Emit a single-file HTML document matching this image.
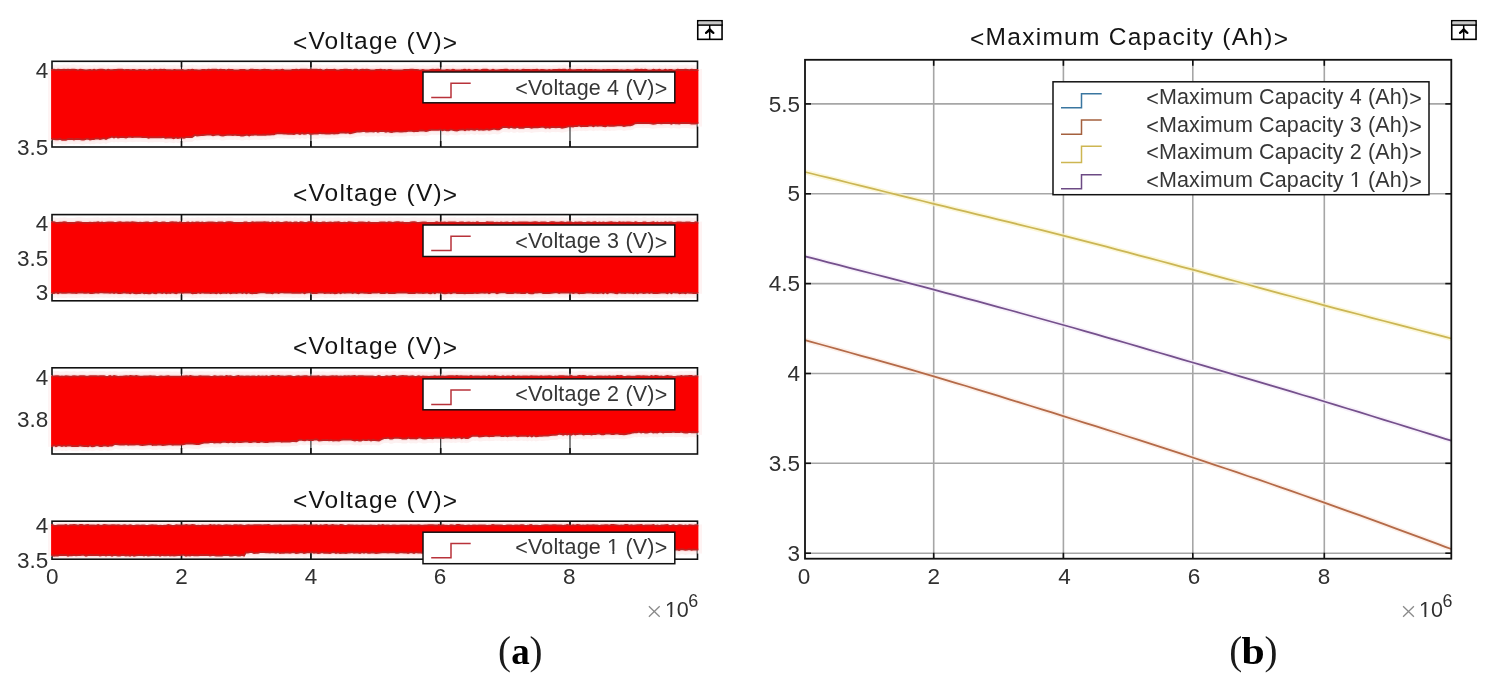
<!DOCTYPE html>
<html><head><meta charset="utf-8"><style>html,body{margin:0;padding:0;background:#fff;width:1491px;height:685px;overflow:hidden}svg{display:block;filter:blur(0.45px)}</style></head>
<body>
<svg width="1491" height="685" viewBox="0 0 1491 685">
<rect width="1491" height="685" fill="#fff"/>
<path d="M52.0,64.8 L54.0,64.7 L56.0,65.1 L58.0,64.6 L60.0,65.0 L62.0,64.9 L64.0,64.6 L66.0,65.0 L68.0,64.6 L70.0,64.9 L72.0,64.6 L74.1,64.6 L76.1,64.9 L78.1,65.3 L80.1,64.7 L82.1,64.8 L84.1,65.1 L86.1,65.4 L88.1,65.1 L90.1,64.9 L92.1,65.4 L94.1,64.6 L96.1,65.3 L98.1,64.8 L100.1,64.7 L102.1,64.7 L104.1,64.8 L106.1,65.3 L108.1,64.7 L110.1,65.1 L112.1,65.1 L114.1,64.9 L116.1,65.0 L118.2,64.6 L120.2,64.6 L122.2,64.7 L124.2,65.2 L126.2,64.9 L128.2,64.8 L130.2,65.1 L132.2,65.0 L134.2,64.8 L136.2,65.3 L138.2,65.2 L140.2,64.8 L142.2,65.1 L144.2,65.0 L146.2,65.3 L148.2,65.2 L150.2,64.8 L152.2,65.4 L154.2,64.7 L156.2,64.9 L158.2,65.2 L160.3,64.7 L162.3,65.0 L164.3,64.6 L166.3,65.2 L168.3,65.2 L170.3,65.1 L172.3,65.3 L174.3,64.8 L176.3,65.2 L178.3,65.1 L180.3,65.1 L182.3,65.0 L184.3,65.3 L186.3,65.4 L188.3,65.0 L190.3,65.1 L192.3,64.6 L194.3,65.2 L196.3,65.1 L198.3,65.4 L200.3,65.3 L202.3,64.8 L204.4,64.9 L206.4,65.2 L208.4,64.6 L210.4,65.0 L212.4,64.7 L214.4,64.7 L216.4,64.6 L218.4,65.2 L220.4,64.7 L222.4,64.8 L224.4,64.9 L226.4,65.3 L228.4,64.6 L230.4,65.0 L232.4,65.0 L234.4,65.3 L236.4,65.3 L238.4,65.3 L240.4,64.8 L242.4,64.9 L244.4,64.9 L246.5,65.3 L248.5,65.4 L250.5,64.7 L252.5,64.7 L254.5,64.8 L256.5,64.8 L258.5,65.0 L260.5,65.1 L262.5,64.8 L264.5,64.6 L266.5,64.9 L268.5,64.9 L270.5,65.1 L272.5,65.4 L274.5,65.2 L276.5,65.0 L278.5,65.1 L280.5,65.2 L282.5,64.6 L284.5,65.4 L286.5,65.3 L288.5,65.3 L290.6,65.3 L292.6,64.9 L294.6,64.9 L296.6,64.6 L298.6,65.1 L300.6,64.6 L302.6,64.6 L304.6,64.7 L306.6,64.7 L308.6,64.9 L310.6,64.6 L312.6,64.6 L314.6,64.7 L316.6,64.6 L318.6,64.9 L320.6,64.6 L322.6,65.3 L324.6,65.1 L326.6,64.7 L328.6,64.8 L330.6,64.9 L332.7,64.9 L334.7,64.7 L336.7,65.3 L338.7,65.4 L340.7,65.0 L342.7,65.0 L344.7,64.6 L346.7,64.6 L348.7,64.9 L350.7,64.8 L352.7,65.3 L354.7,64.7 L356.7,64.6 L358.7,65.4 L360.7,65.0 L362.7,64.7 L364.7,65.0 L366.7,64.6 L368.7,65.0 L370.7,65.4 L372.7,65.3 L374.8,65.2 L376.8,64.8 L378.8,64.9 L380.8,64.7 L382.8,65.2 L384.8,65.0 L386.8,65.3 L388.8,64.8 L390.8,64.8 L392.8,65.3 L394.8,65.4 L396.8,65.3 L398.8,65.3 L400.8,65.3 L402.8,65.2 L404.8,64.8 L406.8,65.0 L408.8,64.9 L410.8,64.6 L412.8,64.6 L414.8,64.8 L416.8,64.8 L418.9,65.2 L420.9,65.4 L422.9,65.0 L424.9,65.4 L426.9,65.4 L428.9,65.4 L430.9,64.9 L432.9,64.7 L434.9,64.8 L436.9,64.7 L438.9,64.7 L440.9,65.1 L442.9,65.4 L444.9,65.3 L446.9,65.0 L448.9,65.1 L450.9,65.3 L452.9,64.6 L454.9,65.1 L456.9,65.4 L458.9,65.3 L461.0,65.2 L463.0,65.0 L465.0,64.7 L467.0,65.3 L469.0,64.8 L471.0,65.3 L473.0,65.4 L475.0,64.9 L477.0,64.9 L479.0,65.4 L481.0,65.2 L483.0,64.7 L485.0,64.7 L487.0,64.7 L489.0,65.4 L491.0,65.3 L493.0,64.7 L495.0,65.3 L497.0,65.4 L499.0,65.1 L501.0,64.9 L503.0,65.0 L505.1,64.7 L507.1,64.6 L509.1,65.4 L511.1,65.1 L513.1,65.0 L515.1,65.4 L517.1,64.9 L519.1,65.3 L521.1,65.3 L523.1,64.7 L525.1,64.8 L527.1,64.8 L529.1,64.8 L531.1,65.1 L533.1,64.8 L535.1,64.9 L537.1,64.7 L539.1,65.4 L541.1,64.9 L543.1,65.0 L545.1,65.1 L547.2,65.4 L549.2,64.9 L551.2,65.4 L553.2,65.0 L555.2,65.0 L557.2,65.0 L559.2,64.6 L561.2,64.9 L563.2,64.7 L565.2,64.6 L567.2,65.3 L569.2,64.7 L571.2,65.0 L573.2,65.2 L575.2,65.1 L577.2,64.8 L579.2,65.0 L581.2,65.0 L583.2,65.3 L585.2,64.6 L587.2,65.1 L589.2,64.8 L591.3,64.8 L593.3,65.2 L595.3,65.0 L597.3,65.1 L599.3,65.2 L601.3,65.4 L603.3,64.9 L605.3,65.1 L607.3,65.0 L609.3,65.0 L611.3,65.2 L613.3,65.0 L615.3,65.0 L617.3,65.0 L619.3,65.4 L621.3,65.2 L623.3,65.3 L625.3,65.4 L627.3,64.8 L629.3,65.1 L631.3,65.4 L633.4,65.3 L635.4,64.7 L637.4,64.7 L639.4,64.9 L641.4,64.6 L643.4,64.8 L645.4,64.6 L647.4,65.2 L649.4,65.3 L651.4,65.4 L653.4,64.7 L655.4,65.2 L657.4,65.1 L659.4,64.7 L661.4,65.3 L663.4,65.4 L665.4,64.7 L667.4,65.4 L669.4,64.9 L671.4,65.0 L673.4,65.4 L675.4,65.3 L677.5,64.7 L679.5,64.9 L681.5,65.0 L683.5,64.9 L685.5,64.7 L687.5,64.8 L689.5,65.2 L691.5,64.6 L693.5,65.0 L695.5,64.9 L697.5,65.0 L697.5,128.2 L695.5,128.6 L693.5,128.6 L691.5,128.7 L689.4,128.2 L687.4,128.1 L685.4,128.0 L683.4,128.0 L681.4,127.9 L679.4,128.7 L677.3,128.4 L675.3,128.3 L673.3,127.9 L671.3,128.8 L669.3,128.0 L667.3,127.8 L665.2,128.1 L663.2,128.2 L661.2,128.3 L659.2,128.2 L657.2,128.2 L655.2,128.6 L653.1,128.8 L651.1,128.4 L649.1,128.1 L647.1,128.1 L645.1,127.9 L643.1,128.2 L641.0,127.9 L639.0,128.0 L637.0,128.0 L635.0,128.3 L632.7,129.7 L630.3,130.3 L628.0,130.3 L626.0,130.6 L623.9,131.1 L621.9,130.3 L619.9,130.3 L617.8,130.3 L615.8,130.6 L613.8,130.8 L611.7,130.5 L609.7,130.9 L607.7,130.5 L605.6,131.3 L603.6,131.0 L601.6,130.6 L599.5,130.6 L597.5,130.8 L595.4,130.4 L593.4,131.3 L591.4,130.4 L589.3,130.6 L587.3,131.0 L585.3,131.2 L583.2,130.8 L581.2,131.2 L579.2,130.4 L577.1,131.2 L575.1,131.0 L573.1,131.5 L571.0,131.4 L569.0,131.1 L566.7,131.8 L564.3,132.3 L562.0,132.8 L560.0,132.2 L557.9,132.0 L555.9,132.3 L553.9,132.1 L551.8,132.0 L549.8,132.8 L547.8,132.1 L545.7,132.7 L543.7,131.9 L541.7,131.8 L539.6,132.1 L537.6,132.3 L535.6,132.2 L533.5,132.4 L531.5,132.9 L529.4,132.2 L527.4,132.2 L525.4,132.1 L523.3,132.8 L521.3,132.6 L519.3,132.8 L517.2,132.0 L515.2,132.8 L513.2,132.7 L511.1,131.8 L509.1,132.8 L507.1,132.2 L505.0,132.2 L503.0,132.0 L501.0,133.2 L499.0,134.3 L497.0,134.4 L495.0,133.9 L493.0,133.9 L491.0,134.4 L489.0,134.8 L487.0,134.1 L485.0,134.6 L483.0,134.8 L481.0,134.4 L479.0,134.8 L477.0,134.0 L475.0,134.9 L473.0,134.5 L471.0,134.1 L469.0,134.7 L467.0,134.3 L465.0,135.2 L463.0,134.5 L461.0,134.6 L459.0,134.9 L457.0,135.5 L454.9,135.3 L452.8,134.9 L450.8,134.4 L448.7,135.4 L446.6,135.4 L444.5,134.6 L442.5,135.3 L440.4,134.5 L438.3,134.8 L436.2,134.8 L434.2,134.8 L432.1,134.6 L430.0,135.0 L428.0,135.6 L426.0,136.1 L424.0,135.7 L422.0,135.5 L420.0,135.5 L418.0,136.1 L416.0,135.9 L414.0,136.4 L412.0,135.9 L410.0,135.8 L408.0,135.8 L406.0,136.4 L404.0,136.4 L402.0,136.6 L400.0,136.6 L398.0,136.4 L396.0,136.3 L394.0,136.5 L392.0,137.0 L390.0,136.8 L388.0,136.2 L385.9,136.7 L383.9,136.2 L381.9,136.0 L379.9,136.2 L377.9,136.7 L375.9,135.9 L373.8,136.6 L371.8,136.4 L369.8,136.4 L367.8,136.6 L365.8,136.7 L363.8,135.8 L361.7,136.3 L359.7,136.5 L357.7,136.4 L354.9,137.2 L352.0,137.9 L350.0,138.2 L348.0,137.4 L346.0,137.8 L344.0,137.5 L342.0,137.5 L340.0,137.7 L338.0,138.3 L336.0,138.3 L334.0,138.5 L332.0,138.2 L330.0,138.5 L328.0,138.6 L326.0,138.6 L324.0,138.3 L322.0,138.4 L320.0,138.0 L318.0,138.7 L316.0,138.7 L314.0,138.6 L312.0,138.9 L310.0,138.9 L308.0,138.0 L306.0,138.7 L304.0,138.8 L302.0,138.1 L300.0,139.1 L298.0,138.3 L296.0,138.4 L294.0,139.0 L292.0,138.8 L290.0,138.7 L288.0,138.8 L286.0,138.6 L284.0,138.7 L282.0,138.3 L280.0,138.4 L278.0,138.1 L276.0,138.5 L274.0,139.3 L272.0,139.3 L269.9,139.6 L267.8,139.3 L265.8,139.9 L263.7,139.5 L261.6,139.9 L259.5,139.9 L257.5,139.8 L255.4,139.4 L253.3,139.8 L251.2,139.7 L249.2,140.5 L247.1,139.7 L245.0,140.1 L243.0,140.5 L241.0,140.5 L239.0,139.8 L237.0,140.0 L235.0,139.6 L233.0,140.0 L231.0,139.8 L229.0,139.7 L227.0,139.8 L225.0,140.2 L223.0,140.5 L221.0,140.4 L219.0,139.6 L217.0,139.7 L215.0,139.8 L213.0,140.3 L211.0,139.6 L209.0,139.7 L207.0,139.6 L205.0,139.9 L203.0,140.0 L201.0,140.2 L199.0,140.3 L197.0,140.5 L195.0,139.9 L192.0,142.1 L190.0,142.0 L188.0,142.0 L186.0,142.1 L184.0,142.8 L182.0,142.6 L180.0,142.7 L177.9,143.1 L175.8,142.3 L173.7,143.2 L171.6,142.7 L169.5,142.3 L167.5,142.7 L165.4,142.9 L163.3,142.0 L161.2,142.3 L159.1,142.0 L157.0,142.3 L154.9,142.1 L152.8,142.4 L150.8,142.2 L148.7,142.7 L146.6,142.1 L144.5,142.1 L142.5,142.0 L140.4,141.8 L138.3,141.9 L136.2,141.8 L134.2,141.9 L132.1,142.2 L130.0,141.7 L128.0,141.9 L126.0,142.6 L124.0,142.2 L122.0,142.0 L120.0,142.1 L118.0,142.6 L116.0,141.7 L114.0,142.6 L112.0,141.7 L110.0,142.5 L108.0,143.0 L106.0,144.1 L104.0,143.2 L102.0,143.6 L100.0,144.0 L98.0,143.4 L96.0,143.5 L94.0,144.2 L92.0,144.1 L90.0,144.6 L88.0,143.7 L86.0,143.9 L84.0,144.5 L82.0,144.7 L80.0,144.2 L78.0,143.9 L76.0,144.0 L74.0,144.6 L72.0,143.8 L70.0,144.0 L68.0,143.9 L66.0,144.8 L64.0,144.6 L62.0,144.8 L60.0,143.8 L58.0,144.3 L56.0,144.4 L54.0,144.1 L52.0,143.8Z" fill="#fdf1f1"/>
<path d="M52.0,67.6 L54.0,67.5 L56.0,67.9 L58.0,67.4 L60.0,67.8 L62.0,67.7 L64.0,67.4 L66.0,67.8 L68.0,67.4 L70.0,67.7 L72.0,67.4 L74.1,67.4 L76.1,67.7 L78.1,68.1 L80.1,67.5 L82.1,67.6 L84.1,67.9 L86.1,68.2 L88.1,67.9 L90.1,67.7 L92.1,68.2 L94.1,67.4 L96.1,68.1 L98.1,67.6 L100.1,67.5 L102.1,67.5 L104.1,67.6 L106.1,68.1 L108.1,67.5 L110.1,67.9 L112.1,67.9 L114.1,67.7 L116.1,67.8 L118.2,67.4 L120.2,67.4 L122.2,67.5 L124.2,68.0 L126.2,67.7 L128.2,67.6 L130.2,67.9 L132.2,67.8 L134.2,67.6 L136.2,68.1 L138.2,68.0 L140.2,67.6 L142.2,67.9 L144.2,67.8 L146.2,68.1 L148.2,68.0 L150.2,67.6 L152.2,68.2 L154.2,67.5 L156.2,67.7 L158.2,68.0 L160.3,67.5 L162.3,67.8 L164.3,67.4 L166.3,68.0 L168.3,68.0 L170.3,67.9 L172.3,68.1 L174.3,67.6 L176.3,68.0 L178.3,67.9 L180.3,67.9 L182.3,67.8 L184.3,68.1 L186.3,68.2 L188.3,67.8 L190.3,67.9 L192.3,67.4 L194.3,68.0 L196.3,67.9 L198.3,68.2 L200.3,68.1 L202.3,67.6 L204.4,67.7 L206.4,68.0 L208.4,67.4 L210.4,67.8 L212.4,67.5 L214.4,67.5 L216.4,67.4 L218.4,68.0 L220.4,67.5 L222.4,67.6 L224.4,67.7 L226.4,68.1 L228.4,67.4 L230.4,67.8 L232.4,67.8 L234.4,68.1 L236.4,68.1 L238.4,68.1 L240.4,67.6 L242.4,67.7 L244.4,67.7 L246.5,68.1 L248.5,68.2 L250.5,67.5 L252.5,67.5 L254.5,67.6 L256.5,67.6 L258.5,67.8 L260.5,67.9 L262.5,67.6 L264.5,67.4 L266.5,67.7 L268.5,67.7 L270.5,67.9 L272.5,68.2 L274.5,68.0 L276.5,67.8 L278.5,67.9 L280.5,68.0 L282.5,67.4 L284.5,68.2 L286.5,68.1 L288.5,68.1 L290.6,68.1 L292.6,67.7 L294.6,67.7 L296.6,67.4 L298.6,67.9 L300.6,67.4 L302.6,67.4 L304.6,67.5 L306.6,67.5 L308.6,67.7 L310.6,67.4 L312.6,67.4 L314.6,67.5 L316.6,67.4 L318.6,67.7 L320.6,67.4 L322.6,68.1 L324.6,67.9 L326.6,67.5 L328.6,67.6 L330.6,67.7 L332.7,67.7 L334.7,67.5 L336.7,68.1 L338.7,68.2 L340.7,67.8 L342.7,67.8 L344.7,67.4 L346.7,67.4 L348.7,67.7 L350.7,67.6 L352.7,68.1 L354.7,67.5 L356.7,67.4 L358.7,68.2 L360.7,67.8 L362.7,67.5 L364.7,67.8 L366.7,67.4 L368.7,67.8 L370.7,68.2 L372.7,68.1 L374.8,68.0 L376.8,67.6 L378.8,67.7 L380.8,67.5 L382.8,68.0 L384.8,67.8 L386.8,68.1 L388.8,67.6 L390.8,67.6 L392.8,68.1 L394.8,68.2 L396.8,68.1 L398.8,68.1 L400.8,68.1 L402.8,68.0 L404.8,67.6 L406.8,67.8 L408.8,67.7 L410.8,67.4 L412.8,67.4 L414.8,67.6 L416.8,67.6 L418.9,68.0 L420.9,68.2 L422.9,67.8 L424.9,68.2 L426.9,68.2 L428.9,68.2 L430.9,67.7 L432.9,67.5 L434.9,67.6 L436.9,67.5 L438.9,67.5 L440.9,67.9 L442.9,68.2 L444.9,68.1 L446.9,67.8 L448.9,67.9 L450.9,68.1 L452.9,67.4 L454.9,67.9 L456.9,68.2 L458.9,68.1 L461.0,68.0 L463.0,67.8 L465.0,67.5 L467.0,68.1 L469.0,67.6 L471.0,68.1 L473.0,68.2 L475.0,67.7 L477.0,67.7 L479.0,68.2 L481.0,68.0 L483.0,67.5 L485.0,67.5 L487.0,67.5 L489.0,68.2 L491.0,68.1 L493.0,67.5 L495.0,68.1 L497.0,68.2 L499.0,67.9 L501.0,67.7 L503.0,67.8 L505.1,67.5 L507.1,67.4 L509.1,68.2 L511.1,67.9 L513.1,67.8 L515.1,68.2 L517.1,67.7 L519.1,68.1 L521.1,68.1 L523.1,67.5 L525.1,67.6 L527.1,67.6 L529.1,67.6 L531.1,67.9 L533.1,67.6 L535.1,67.7 L537.1,67.5 L539.1,68.2 L541.1,67.7 L543.1,67.8 L545.1,67.9 L547.2,68.2 L549.2,67.7 L551.2,68.2 L553.2,67.8 L555.2,67.8 L557.2,67.8 L559.2,67.4 L561.2,67.7 L563.2,67.5 L565.2,67.4 L567.2,68.1 L569.2,67.5 L571.2,67.8 L573.2,68.0 L575.2,67.9 L577.2,67.6 L579.2,67.8 L581.2,67.8 L583.2,68.1 L585.2,67.4 L587.2,67.9 L589.2,67.6 L591.3,67.6 L593.3,68.0 L595.3,67.8 L597.3,67.9 L599.3,68.0 L601.3,68.2 L603.3,67.7 L605.3,67.9 L607.3,67.8 L609.3,67.8 L611.3,68.0 L613.3,67.8 L615.3,67.8 L617.3,67.8 L619.3,68.2 L621.3,68.0 L623.3,68.1 L625.3,68.2 L627.3,67.6 L629.3,67.9 L631.3,68.2 L633.4,68.1 L635.4,67.5 L637.4,67.5 L639.4,67.7 L641.4,67.4 L643.4,67.6 L645.4,67.4 L647.4,68.0 L649.4,68.1 L651.4,68.2 L653.4,67.5 L655.4,68.0 L657.4,67.9 L659.4,67.5 L661.4,68.1 L663.4,68.2 L665.4,67.5 L667.4,68.2 L669.4,67.7 L671.4,67.8 L673.4,68.2 L675.4,68.1 L677.5,67.5 L679.5,67.7 L681.5,67.8 L683.5,67.7 L685.5,67.5 L687.5,67.6 L689.5,68.0 L691.5,67.4 L693.5,67.8 L695.5,67.7 L697.5,67.8 L697.5,125.4 L695.5,125.8 L693.5,125.8 L691.5,125.9 L689.4,125.4 L687.4,125.3 L685.4,125.2 L683.4,125.2 L681.4,125.1 L679.4,125.9 L677.3,125.6 L675.3,125.5 L673.3,125.1 L671.3,126.0 L669.3,125.2 L667.3,125.0 L665.2,125.3 L663.2,125.4 L661.2,125.5 L659.2,125.4 L657.2,125.4 L655.2,125.8 L653.1,126.0 L651.1,125.6 L649.1,125.3 L647.1,125.3 L645.1,125.1 L643.1,125.4 L641.0,125.1 L639.0,125.2 L637.0,125.2 L635.0,125.5 L632.7,126.9 L630.3,127.5 L628.0,127.5 L626.0,127.8 L623.9,128.3 L621.9,127.5 L619.9,127.5 L617.8,127.5 L615.8,127.8 L613.8,128.0 L611.7,127.7 L609.7,128.1 L607.7,127.7 L605.6,128.5 L603.6,128.2 L601.6,127.8 L599.5,127.8 L597.5,128.0 L595.4,127.6 L593.4,128.5 L591.4,127.6 L589.3,127.8 L587.3,128.2 L585.3,128.4 L583.2,128.0 L581.2,128.4 L579.2,127.6 L577.1,128.4 L575.1,128.2 L573.1,128.7 L571.0,128.6 L569.0,128.3 L566.7,129.0 L564.3,129.5 L562.0,130.0 L560.0,129.4 L557.9,129.2 L555.9,129.5 L553.9,129.3 L551.8,129.2 L549.8,130.0 L547.8,129.3 L545.7,129.9 L543.7,129.1 L541.7,129.0 L539.6,129.3 L537.6,129.5 L535.6,129.4 L533.5,129.6 L531.5,130.1 L529.4,129.4 L527.4,129.4 L525.4,129.3 L523.3,130.0 L521.3,129.8 L519.3,130.0 L517.2,129.2 L515.2,130.0 L513.2,129.9 L511.1,129.0 L509.1,130.0 L507.1,129.4 L505.0,129.4 L503.0,129.2 L501.0,130.4 L499.0,131.5 L497.0,131.6 L495.0,131.1 L493.0,131.1 L491.0,131.6 L489.0,132.0 L487.0,131.3 L485.0,131.8 L483.0,132.0 L481.0,131.6 L479.0,132.0 L477.0,131.2 L475.0,132.1 L473.0,131.7 L471.0,131.3 L469.0,131.9 L467.0,131.5 L465.0,132.4 L463.0,131.7 L461.0,131.8 L459.0,132.1 L457.0,132.7 L454.9,132.5 L452.8,132.1 L450.8,131.6 L448.7,132.6 L446.6,132.6 L444.5,131.8 L442.5,132.5 L440.4,131.7 L438.3,132.0 L436.2,132.0 L434.2,132.0 L432.1,131.8 L430.0,132.2 L428.0,132.8 L426.0,133.3 L424.0,132.9 L422.0,132.7 L420.0,132.7 L418.0,133.3 L416.0,133.1 L414.0,133.6 L412.0,133.1 L410.0,133.0 L408.0,133.0 L406.0,133.6 L404.0,133.6 L402.0,133.8 L400.0,133.8 L398.0,133.6 L396.0,133.5 L394.0,133.7 L392.0,134.2 L390.0,134.0 L388.0,133.4 L385.9,133.9 L383.9,133.4 L381.9,133.2 L379.9,133.4 L377.9,133.9 L375.9,133.1 L373.8,133.8 L371.8,133.6 L369.8,133.6 L367.8,133.8 L365.8,133.9 L363.8,133.0 L361.7,133.5 L359.7,133.7 L357.7,133.6 L354.9,134.4 L352.0,135.1 L350.0,135.4 L348.0,134.6 L346.0,135.0 L344.0,134.7 L342.0,134.7 L340.0,134.9 L338.0,135.5 L336.0,135.5 L334.0,135.7 L332.0,135.4 L330.0,135.7 L328.0,135.8 L326.0,135.8 L324.0,135.5 L322.0,135.6 L320.0,135.2 L318.0,135.9 L316.0,135.9 L314.0,135.8 L312.0,136.1 L310.0,136.1 L308.0,135.2 L306.0,135.9 L304.0,136.0 L302.0,135.3 L300.0,136.3 L298.0,135.5 L296.0,135.6 L294.0,136.2 L292.0,136.0 L290.0,135.9 L288.0,136.0 L286.0,135.8 L284.0,135.9 L282.0,135.5 L280.0,135.6 L278.0,135.3 L276.0,135.7 L274.0,136.5 L272.0,136.5 L269.9,136.8 L267.8,136.5 L265.8,137.1 L263.7,136.7 L261.6,137.1 L259.5,137.1 L257.5,137.0 L255.4,136.6 L253.3,137.0 L251.2,136.9 L249.2,137.7 L247.1,136.9 L245.0,137.3 L243.0,137.7 L241.0,137.7 L239.0,137.0 L237.0,137.2 L235.0,136.8 L233.0,137.2 L231.0,137.0 L229.0,136.9 L227.0,137.0 L225.0,137.4 L223.0,137.7 L221.0,137.6 L219.0,136.8 L217.0,136.9 L215.0,137.0 L213.0,137.5 L211.0,136.8 L209.0,136.9 L207.0,136.8 L205.0,137.1 L203.0,137.2 L201.0,137.4 L199.0,137.5 L197.0,137.7 L195.0,137.1 L192.0,139.3 L190.0,139.2 L188.0,139.2 L186.0,139.3 L184.0,140.0 L182.0,139.8 L180.0,139.9 L177.9,140.3 L175.8,139.5 L173.7,140.4 L171.6,139.9 L169.5,139.5 L167.5,139.9 L165.4,140.1 L163.3,139.2 L161.2,139.5 L159.1,139.2 L157.0,139.5 L154.9,139.3 L152.8,139.6 L150.8,139.4 L148.7,139.9 L146.6,139.3 L144.5,139.3 L142.5,139.2 L140.4,139.0 L138.3,139.1 L136.2,139.0 L134.2,139.1 L132.1,139.4 L130.0,138.9 L128.0,139.1 L126.0,139.8 L124.0,139.4 L122.0,139.2 L120.0,139.3 L118.0,139.8 L116.0,138.9 L114.0,139.8 L112.0,138.9 L110.0,139.7 L108.0,140.2 L106.0,141.3 L104.0,140.4 L102.0,140.8 L100.0,141.2 L98.0,140.6 L96.0,140.7 L94.0,141.4 L92.0,141.3 L90.0,141.8 L88.0,140.9 L86.0,141.1 L84.0,141.7 L82.0,141.9 L80.0,141.4 L78.0,141.1 L76.0,141.2 L74.0,141.8 L72.0,141.0 L70.0,141.2 L68.0,141.1 L66.0,142.0 L64.0,141.8 L62.0,142.0 L60.0,141.0 L58.0,141.5 L56.0,141.6 L54.0,141.3 L52.0,141.0Z" fill="#fbe0e0"/>
<line x1="181.5" y1="61.3" x2="181.5" y2="147.0" stroke="#222" stroke-width="1.1"/>
<line x1="181.5" y1="141.0" x2="181.5" y2="147.0" stroke="#111" stroke-width="1.6"/>
<line x1="181.5" y1="61.3" x2="181.5" y2="67.3" stroke="#111" stroke-width="1.6"/>
<line x1="310.9" y1="61.3" x2="310.9" y2="147.0" stroke="#222" stroke-width="1.1"/>
<line x1="310.9" y1="141.0" x2="310.9" y2="147.0" stroke="#111" stroke-width="1.6"/>
<line x1="310.9" y1="61.3" x2="310.9" y2="67.3" stroke="#111" stroke-width="1.6"/>
<line x1="440.7" y1="61.3" x2="440.7" y2="147.0" stroke="#222" stroke-width="1.1"/>
<line x1="440.7" y1="141.0" x2="440.7" y2="147.0" stroke="#111" stroke-width="1.6"/>
<line x1="440.7" y1="61.3" x2="440.7" y2="67.3" stroke="#111" stroke-width="1.6"/>
<line x1="570.0" y1="61.3" x2="570.0" y2="147.0" stroke="#222" stroke-width="1.1"/>
<line x1="570.0" y1="141.0" x2="570.0" y2="147.0" stroke="#111" stroke-width="1.6"/>
<line x1="570.0" y1="61.3" x2="570.0" y2="67.3" stroke="#111" stroke-width="1.6"/>
<rect x="52.0" y="61.3" width="645.5" height="85.7" fill="none" stroke="#111" stroke-width="1.6"/>
<rect x="697.5" y="69.0" width="4.5" height="57.599999999999994" fill="#fef3f3"/>
<rect x="48.0" y="69.0" width="4" height="71.30000000000001" fill="#fef5f5"/>
<path d="M51.1,69.8 L52.0,69.8 L54.0,69.7 L56.0,70.1 L58.0,69.6 L60.0,70.0 L62.0,69.9 L64.0,69.6 L66.0,70.0 L68.0,69.6 L70.0,69.9 L72.0,69.6 L74.1,69.6 L76.1,69.9 L78.1,70.3 L80.1,69.7 L82.1,69.8 L84.1,70.1 L86.1,70.4 L88.1,70.1 L90.1,69.9 L92.1,70.4 L94.1,69.6 L96.1,70.3 L98.1,69.8 L100.1,69.7 L102.1,69.7 L104.1,69.8 L106.1,70.3 L108.1,69.7 L110.1,70.1 L112.1,70.1 L114.1,69.9 L116.1,70.0 L118.2,69.6 L120.2,69.6 L122.2,69.7 L124.2,70.2 L126.2,69.9 L128.2,69.8 L130.2,70.1 L132.2,70.0 L134.2,69.8 L136.2,70.3 L138.2,70.2 L140.2,69.8 L142.2,70.1 L144.2,70.0 L146.2,70.3 L148.2,70.2 L150.2,69.8 L152.2,70.4 L154.2,69.7 L156.2,69.9 L158.2,70.2 L160.3,69.7 L162.3,70.0 L164.3,69.6 L166.3,70.2 L168.3,70.2 L170.3,70.1 L172.3,70.3 L174.3,69.8 L176.3,70.2 L178.3,70.1 L180.3,70.1 L182.3,70.0 L184.3,70.3 L186.3,70.4 L188.3,70.0 L190.3,70.1 L192.3,69.6 L194.3,70.2 L196.3,70.1 L198.3,70.4 L200.3,70.3 L202.3,69.8 L204.4,69.9 L206.4,70.2 L208.4,69.6 L210.4,70.0 L212.4,69.7 L214.4,69.7 L216.4,69.6 L218.4,70.2 L220.4,69.7 L222.4,69.8 L224.4,69.9 L226.4,70.3 L228.4,69.6 L230.4,70.0 L232.4,70.0 L234.4,70.3 L236.4,70.3 L238.4,70.3 L240.4,69.8 L242.4,69.9 L244.4,69.9 L246.5,70.3 L248.5,70.4 L250.5,69.7 L252.5,69.7 L254.5,69.8 L256.5,69.8 L258.5,70.0 L260.5,70.1 L262.5,69.8 L264.5,69.6 L266.5,69.9 L268.5,69.9 L270.5,70.1 L272.5,70.4 L274.5,70.2 L276.5,70.0 L278.5,70.1 L280.5,70.2 L282.5,69.6 L284.5,70.4 L286.5,70.3 L288.5,70.3 L290.6,70.3 L292.6,69.9 L294.6,69.9 L296.6,69.6 L298.6,70.1 L300.6,69.6 L302.6,69.6 L304.6,69.7 L306.6,69.7 L308.6,69.9 L310.6,69.6 L312.6,69.6 L314.6,69.7 L316.6,69.6 L318.6,69.9 L320.6,69.6 L322.6,70.3 L324.6,70.1 L326.6,69.7 L328.6,69.8 L330.6,69.9 L332.7,69.9 L334.7,69.7 L336.7,70.3 L338.7,70.4 L340.7,70.0 L342.7,70.0 L344.7,69.6 L346.7,69.6 L348.7,69.9 L350.7,69.8 L352.7,70.3 L354.7,69.7 L356.7,69.6 L358.7,70.4 L360.7,70.0 L362.7,69.7 L364.7,70.0 L366.7,69.6 L368.7,70.0 L370.7,70.4 L372.7,70.3 L374.8,70.2 L376.8,69.8 L378.8,69.9 L380.8,69.7 L382.8,70.2 L384.8,70.0 L386.8,70.3 L388.8,69.8 L390.8,69.8 L392.8,70.3 L394.8,70.4 L396.8,70.3 L398.8,70.3 L400.8,70.3 L402.8,70.2 L404.8,69.8 L406.8,70.0 L408.8,69.9 L410.8,69.6 L412.8,69.6 L414.8,69.8 L416.8,69.8 L418.9,70.2 L420.9,70.4 L422.9,70.0 L424.9,70.4 L426.9,70.4 L428.9,70.4 L430.9,69.9 L432.9,69.7 L434.9,69.8 L436.9,69.7 L438.9,69.7 L440.9,70.1 L442.9,70.4 L444.9,70.3 L446.9,70.0 L448.9,70.1 L450.9,70.3 L452.9,69.6 L454.9,70.1 L456.9,70.4 L458.9,70.3 L461.0,70.2 L463.0,70.0 L465.0,69.7 L467.0,70.3 L469.0,69.8 L471.0,70.3 L473.0,70.4 L475.0,69.9 L477.0,69.9 L479.0,70.4 L481.0,70.2 L483.0,69.7 L485.0,69.7 L487.0,69.7 L489.0,70.4 L491.0,70.3 L493.0,69.7 L495.0,70.3 L497.0,70.4 L499.0,70.1 L501.0,69.9 L503.0,70.0 L505.1,69.7 L507.1,69.6 L509.1,70.4 L511.1,70.1 L513.1,70.0 L515.1,70.4 L517.1,69.9 L519.1,70.3 L521.1,70.3 L523.1,69.7 L525.1,69.8 L527.1,69.8 L529.1,69.8 L531.1,70.1 L533.1,69.8 L535.1,69.9 L537.1,69.7 L539.1,70.4 L541.1,69.9 L543.1,70.0 L545.1,70.1 L547.2,70.4 L549.2,69.9 L551.2,70.4 L553.2,70.0 L555.2,70.0 L557.2,70.0 L559.2,69.6 L561.2,69.9 L563.2,69.7 L565.2,69.6 L567.2,70.3 L569.2,69.7 L571.2,70.0 L573.2,70.2 L575.2,70.1 L577.2,69.8 L579.2,70.0 L581.2,70.0 L583.2,70.3 L585.2,69.6 L587.2,70.1 L589.2,69.8 L591.3,69.8 L593.3,70.2 L595.3,70.0 L597.3,70.1 L599.3,70.2 L601.3,70.4 L603.3,69.9 L605.3,70.1 L607.3,70.0 L609.3,70.0 L611.3,70.2 L613.3,70.0 L615.3,70.0 L617.3,70.0 L619.3,70.4 L621.3,70.2 L623.3,70.3 L625.3,70.4 L627.3,69.8 L629.3,70.1 L631.3,70.4 L633.4,70.3 L635.4,69.7 L637.4,69.7 L639.4,69.9 L641.4,69.6 L643.4,69.8 L645.4,69.6 L647.4,70.2 L649.4,70.3 L651.4,70.4 L653.4,69.7 L655.4,70.2 L657.4,70.1 L659.4,69.7 L661.4,70.3 L663.4,70.4 L665.4,69.7 L667.4,70.4 L669.4,69.9 L671.4,70.0 L673.4,70.4 L675.4,70.3 L677.5,69.7 L679.5,69.9 L681.5,70.0 L683.5,69.9 L685.5,69.7 L687.5,69.8 L689.5,70.2 L691.5,69.6 L693.5,70.0 L695.5,69.9 L697.5,70.0 L698.4,70.0 L698.4,123.2 L697.5,123.2 L695.5,123.6 L693.5,123.6 L691.5,123.7 L689.4,123.2 L687.4,123.1 L685.4,123.0 L683.4,123.0 L681.4,122.9 L679.4,123.7 L677.3,123.4 L675.3,123.3 L673.3,122.9 L671.3,123.8 L669.3,123.0 L667.3,122.8 L665.2,123.1 L663.2,123.2 L661.2,123.3 L659.2,123.2 L657.2,123.2 L655.2,123.6 L653.1,123.8 L651.1,123.4 L649.1,123.1 L647.1,123.1 L645.1,122.9 L643.1,123.2 L641.0,122.9 L639.0,123.0 L637.0,123.0 L635.0,123.3 L632.7,124.7 L630.3,125.3 L628.0,125.3 L626.0,125.6 L623.9,126.1 L621.9,125.3 L619.9,125.3 L617.8,125.3 L615.8,125.6 L613.8,125.8 L611.7,125.5 L609.7,125.9 L607.7,125.5 L605.6,126.3 L603.6,126.0 L601.6,125.6 L599.5,125.6 L597.5,125.8 L595.4,125.4 L593.4,126.3 L591.4,125.4 L589.3,125.6 L587.3,126.0 L585.3,126.2 L583.2,125.8 L581.2,126.2 L579.2,125.4 L577.1,126.2 L575.1,126.0 L573.1,126.5 L571.0,126.4 L569.0,126.1 L566.7,126.8 L564.3,127.3 L562.0,127.8 L560.0,127.2 L557.9,127.0 L555.9,127.3 L553.9,127.1 L551.8,127.0 L549.8,127.8 L547.8,127.1 L545.7,127.7 L543.7,126.9 L541.7,126.8 L539.6,127.1 L537.6,127.3 L535.6,127.2 L533.5,127.4 L531.5,127.9 L529.4,127.2 L527.4,127.2 L525.4,127.1 L523.3,127.8 L521.3,127.6 L519.3,127.8 L517.2,127.0 L515.2,127.8 L513.2,127.7 L511.1,126.8 L509.1,127.8 L507.1,127.2 L505.0,127.2 L503.0,127.0 L501.0,128.2 L499.0,129.3 L497.0,129.4 L495.0,128.9 L493.0,128.9 L491.0,129.4 L489.0,129.8 L487.0,129.1 L485.0,129.6 L483.0,129.8 L481.0,129.4 L479.0,129.8 L477.0,129.0 L475.0,129.9 L473.0,129.5 L471.0,129.1 L469.0,129.7 L467.0,129.3 L465.0,130.2 L463.0,129.5 L461.0,129.6 L459.0,129.9 L457.0,130.5 L454.9,130.3 L452.8,129.9 L450.8,129.4 L448.7,130.4 L446.6,130.4 L444.5,129.6 L442.5,130.3 L440.4,129.5 L438.3,129.8 L436.2,129.8 L434.2,129.8 L432.1,129.6 L430.0,130.0 L428.0,130.6 L426.0,131.1 L424.0,130.7 L422.0,130.5 L420.0,130.5 L418.0,131.1 L416.0,130.9 L414.0,131.4 L412.0,130.9 L410.0,130.8 L408.0,130.8 L406.0,131.4 L404.0,131.4 L402.0,131.6 L400.0,131.6 L398.0,131.4 L396.0,131.3 L394.0,131.5 L392.0,132.0 L390.0,131.8 L388.0,131.2 L385.9,131.7 L383.9,131.2 L381.9,131.0 L379.9,131.2 L377.9,131.7 L375.9,130.9 L373.8,131.6 L371.8,131.4 L369.8,131.4 L367.8,131.6 L365.8,131.7 L363.8,130.8 L361.7,131.3 L359.7,131.5 L357.7,131.4 L354.9,132.2 L352.0,132.9 L350.0,133.2 L348.0,132.4 L346.0,132.8 L344.0,132.5 L342.0,132.5 L340.0,132.7 L338.0,133.3 L336.0,133.3 L334.0,133.5 L332.0,133.2 L330.0,133.5 L328.0,133.6 L326.0,133.6 L324.0,133.3 L322.0,133.4 L320.0,133.0 L318.0,133.7 L316.0,133.7 L314.0,133.6 L312.0,133.9 L310.0,133.9 L308.0,133.0 L306.0,133.7 L304.0,133.8 L302.0,133.1 L300.0,134.1 L298.0,133.3 L296.0,133.4 L294.0,134.0 L292.0,133.8 L290.0,133.7 L288.0,133.8 L286.0,133.6 L284.0,133.7 L282.0,133.3 L280.0,133.4 L278.0,133.1 L276.0,133.5 L274.0,134.3 L272.0,134.3 L269.9,134.6 L267.8,134.3 L265.8,134.9 L263.7,134.5 L261.6,134.9 L259.5,134.9 L257.5,134.8 L255.4,134.4 L253.3,134.8 L251.2,134.7 L249.2,135.5 L247.1,134.7 L245.0,135.1 L243.0,135.5 L241.0,135.5 L239.0,134.8 L237.0,135.0 L235.0,134.6 L233.0,135.0 L231.0,134.8 L229.0,134.7 L227.0,134.8 L225.0,135.2 L223.0,135.5 L221.0,135.4 L219.0,134.6 L217.0,134.7 L215.0,134.8 L213.0,135.3 L211.0,134.6 L209.0,134.7 L207.0,134.6 L205.0,134.9 L203.0,135.0 L201.0,135.2 L199.0,135.3 L197.0,135.5 L195.0,134.9 L192.0,137.1 L190.0,137.0 L188.0,137.0 L186.0,137.1 L184.0,137.8 L182.0,137.6 L180.0,137.7 L177.9,138.1 L175.8,137.3 L173.7,138.2 L171.6,137.7 L169.5,137.3 L167.5,137.7 L165.4,137.9 L163.3,137.0 L161.2,137.3 L159.1,137.0 L157.0,137.3 L154.9,137.1 L152.8,137.4 L150.8,137.2 L148.7,137.7 L146.6,137.1 L144.5,137.1 L142.5,137.0 L140.4,136.8 L138.3,136.9 L136.2,136.8 L134.2,136.9 L132.1,137.2 L130.0,136.7 L128.0,136.9 L126.0,137.6 L124.0,137.2 L122.0,137.0 L120.0,137.1 L118.0,137.6 L116.0,136.7 L114.0,137.6 L112.0,136.7 L110.0,137.5 L108.0,138.0 L106.0,139.1 L104.0,138.2 L102.0,138.6 L100.0,139.0 L98.0,138.4 L96.0,138.5 L94.0,139.2 L92.0,139.1 L90.0,139.6 L88.0,138.7 L86.0,138.9 L84.0,139.5 L82.0,139.7 L80.0,139.2 L78.0,138.9 L76.0,139.0 L74.0,139.6 L72.0,138.8 L70.0,139.0 L68.0,138.9 L66.0,139.8 L64.0,139.6 L62.0,139.8 L60.0,138.8 L58.0,139.3 L56.0,139.4 L54.0,139.1 L52.0,138.8 L51.1,138.8Z" fill="#fa0000"/>
<path d="M51.1,69.8 L52.0,69.8 L54.0,69.7 L56.0,70.1 L58.0,69.6 L60.0,70.0 L62.0,69.9 L64.0,69.6 L66.0,70.0 L68.0,69.6 L70.0,69.9 L72.0,69.6 L74.1,69.6 L76.1,69.9 L78.1,70.3 L80.1,69.7 L82.1,69.8 L84.1,70.1 L86.1,70.4 L88.1,70.1 L90.1,69.9 L92.1,70.4 L94.1,69.6 L96.1,70.3 L98.1,69.8 L100.1,69.7 L102.1,69.7 L104.1,69.8 L106.1,70.3 L108.1,69.7 L110.1,70.1 L112.1,70.1 L114.1,69.9 L116.1,70.0 L118.2,69.6 L120.2,69.6 L122.2,69.7 L124.2,70.2 L126.2,69.9 L128.2,69.8 L130.2,70.1 L132.2,70.0 L134.2,69.8 L136.2,70.3 L138.2,70.2 L140.2,69.8 L142.2,70.1 L144.2,70.0 L146.2,70.3 L148.2,70.2 L150.2,69.8 L152.2,70.4 L154.2,69.7 L156.2,69.9 L158.2,70.2 L160.3,69.7 L162.3,70.0 L164.3,69.6 L166.3,70.2 L168.3,70.2 L170.3,70.1 L172.3,70.3 L174.3,69.8 L176.3,70.2 L178.3,70.1 L180.3,70.1 L182.3,70.0 L184.3,70.3 L186.3,70.4 L188.3,70.0 L190.3,70.1 L192.3,69.6 L194.3,70.2 L196.3,70.1 L198.3,70.4 L200.3,70.3 L202.3,69.8 L204.4,69.9 L206.4,70.2 L208.4,69.6 L210.4,70.0 L212.4,69.7 L214.4,69.7 L216.4,69.6 L218.4,70.2 L220.4,69.7 L222.4,69.8 L224.4,69.9 L226.4,70.3 L228.4,69.6 L230.4,70.0 L232.4,70.0 L234.4,70.3 L236.4,70.3 L238.4,70.3 L240.4,69.8 L242.4,69.9 L244.4,69.9 L246.5,70.3 L248.5,70.4 L250.5,69.7 L252.5,69.7 L254.5,69.8 L256.5,69.8 L258.5,70.0 L260.5,70.1 L262.5,69.8 L264.5,69.6 L266.5,69.9 L268.5,69.9 L270.5,70.1 L272.5,70.4 L274.5,70.2 L276.5,70.0 L278.5,70.1 L280.5,70.2 L282.5,69.6 L284.5,70.4 L286.5,70.3 L288.5,70.3 L290.6,70.3 L292.6,69.9 L294.6,69.9 L296.6,69.6 L298.6,70.1 L300.6,69.6 L302.6,69.6 L304.6,69.7 L306.6,69.7 L308.6,69.9 L310.6,69.6 L312.6,69.6 L314.6,69.7 L316.6,69.6 L318.6,69.9 L320.6,69.6 L322.6,70.3 L324.6,70.1 L326.6,69.7 L328.6,69.8 L330.6,69.9 L332.7,69.9 L334.7,69.7 L336.7,70.3 L338.7,70.4 L340.7,70.0 L342.7,70.0 L344.7,69.6 L346.7,69.6 L348.7,69.9 L350.7,69.8 L352.7,70.3 L354.7,69.7 L356.7,69.6 L358.7,70.4 L360.7,70.0 L362.7,69.7 L364.7,70.0 L366.7,69.6 L368.7,70.0 L370.7,70.4 L372.7,70.3 L374.8,70.2 L376.8,69.8 L378.8,69.9 L380.8,69.7 L382.8,70.2 L384.8,70.0 L386.8,70.3 L388.8,69.8 L390.8,69.8 L392.8,70.3 L394.8,70.4 L396.8,70.3 L398.8,70.3 L400.8,70.3 L402.8,70.2 L404.8,69.8 L406.8,70.0 L408.8,69.9 L410.8,69.6 L412.8,69.6 L414.8,69.8 L416.8,69.8 L418.9,70.2 L420.9,70.4 L422.9,70.0 L424.9,70.4 L426.9,70.4 L428.9,70.4 L430.9,69.9 L432.9,69.7 L434.9,69.8 L436.9,69.7 L438.9,69.7 L440.9,70.1 L442.9,70.4 L444.9,70.3 L446.9,70.0 L448.9,70.1 L450.9,70.3 L452.9,69.6 L454.9,70.1 L456.9,70.4 L458.9,70.3 L461.0,70.2 L463.0,70.0 L465.0,69.7 L467.0,70.3 L469.0,69.8 L471.0,70.3 L473.0,70.4 L475.0,69.9 L477.0,69.9 L479.0,70.4 L481.0,70.2 L483.0,69.7 L485.0,69.7 L487.0,69.7 L489.0,70.4 L491.0,70.3 L493.0,69.7 L495.0,70.3 L497.0,70.4 L499.0,70.1 L501.0,69.9 L503.0,70.0 L505.1,69.7 L507.1,69.6 L509.1,70.4 L511.1,70.1 L513.1,70.0 L515.1,70.4 L517.1,69.9 L519.1,70.3 L521.1,70.3 L523.1,69.7 L525.1,69.8 L527.1,69.8 L529.1,69.8 L531.1,70.1 L533.1,69.8 L535.1,69.9 L537.1,69.7 L539.1,70.4 L541.1,69.9 L543.1,70.0 L545.1,70.1 L547.2,70.4 L549.2,69.9 L551.2,70.4 L553.2,70.0 L555.2,70.0 L557.2,70.0 L559.2,69.6 L561.2,69.9 L563.2,69.7 L565.2,69.6 L567.2,70.3 L569.2,69.7 L571.2,70.0 L573.2,70.2 L575.2,70.1 L577.2,69.8 L579.2,70.0 L581.2,70.0 L583.2,70.3 L585.2,69.6 L587.2,70.1 L589.2,69.8 L591.3,69.8 L593.3,70.2 L595.3,70.0 L597.3,70.1 L599.3,70.2 L601.3,70.4 L603.3,69.9 L605.3,70.1 L607.3,70.0 L609.3,70.0 L611.3,70.2 L613.3,70.0 L615.3,70.0 L617.3,70.0 L619.3,70.4 L621.3,70.2 L623.3,70.3 L625.3,70.4 L627.3,69.8 L629.3,70.1 L631.3,70.4 L633.4,70.3 L635.4,69.7 L637.4,69.7 L639.4,69.9 L641.4,69.6 L643.4,69.8 L645.4,69.6 L647.4,70.2 L649.4,70.3 L651.4,70.4 L653.4,69.7 L655.4,70.2 L657.4,70.1 L659.4,69.7 L661.4,70.3 L663.4,70.4 L665.4,69.7 L667.4,70.4 L669.4,69.9 L671.4,70.0 L673.4,70.4 L675.4,70.3 L677.5,69.7 L679.5,69.9 L681.5,70.0 L683.5,69.9 L685.5,69.7 L687.5,69.8 L689.5,70.2 L691.5,69.6 L693.5,70.0 L695.5,69.9 L697.5,70.0 L698.4,70.0" fill="none" stroke="#c22020" stroke-width="1.8"/>
<path d="M51.1,138.8 L52.0,138.8 L54.0,139.1 L56.0,139.4 L58.0,139.3 L60.0,138.8 L62.0,139.8 L64.0,139.6 L66.0,139.8 L68.0,138.9 L70.0,139.0 L72.0,138.8 L74.0,139.6 L76.0,139.0 L78.0,138.9 L80.0,139.2 L82.0,139.7 L84.0,139.5 L86.0,138.9 L88.0,138.7 L90.0,139.6 L92.0,139.1 L94.0,139.2 L96.0,138.5 L98.0,138.4 L100.0,139.0 L102.0,138.6 L104.0,138.2 L106.0,139.1 L108.0,138.0 L110.0,137.5 L112.0,136.7 L114.0,137.6 L116.0,136.7 L118.0,137.6 L120.0,137.1 L122.0,137.0 L124.0,137.2 L126.0,137.6 L128.0,136.9 L130.0,136.7 L132.1,137.2 L134.2,136.9 L136.2,136.8 L138.3,136.9 L140.4,136.8 L142.5,137.0 L144.5,137.1 L146.6,137.1 L148.7,137.7 L150.8,137.2 L152.8,137.4 L154.9,137.1 L157.0,137.3 L159.1,137.0 L161.2,137.3 L163.3,137.0 L165.4,137.9 L167.5,137.7 L169.5,137.3 L171.6,137.7 L173.7,138.2 L175.8,137.3 L177.9,138.1 L180.0,137.7 L182.0,137.6 L184.0,137.8 L186.0,137.1 L188.0,137.0 L190.0,137.0 L192.0,137.1 L195.0,134.9 L197.0,135.5 L199.0,135.3 L201.0,135.2 L203.0,135.0 L205.0,134.9 L207.0,134.6 L209.0,134.7 L211.0,134.6 L213.0,135.3 L215.0,134.8 L217.0,134.7 L219.0,134.6 L221.0,135.4 L223.0,135.5 L225.0,135.2 L227.0,134.8 L229.0,134.7 L231.0,134.8 L233.0,135.0 L235.0,134.6 L237.0,135.0 L239.0,134.8 L241.0,135.5 L243.0,135.5 L245.0,135.1 L247.1,134.7 L249.2,135.5 L251.2,134.7 L253.3,134.8 L255.4,134.4 L257.5,134.8 L259.5,134.9 L261.6,134.9 L263.7,134.5 L265.8,134.9 L267.8,134.3 L269.9,134.6 L272.0,134.3 L274.0,134.3 L276.0,133.5 L278.0,133.1 L280.0,133.4 L282.0,133.3 L284.0,133.7 L286.0,133.6 L288.0,133.8 L290.0,133.7 L292.0,133.8 L294.0,134.0 L296.0,133.4 L298.0,133.3 L300.0,134.1 L302.0,133.1 L304.0,133.8 L306.0,133.7 L308.0,133.0 L310.0,133.9 L312.0,133.9 L314.0,133.6 L316.0,133.7 L318.0,133.7 L320.0,133.0 L322.0,133.4 L324.0,133.3 L326.0,133.6 L328.0,133.6 L330.0,133.5 L332.0,133.2 L334.0,133.5 L336.0,133.3 L338.0,133.3 L340.0,132.7 L342.0,132.5 L344.0,132.5 L346.0,132.8 L348.0,132.4 L350.0,133.2 L352.0,132.9 L354.9,132.2 L357.7,131.4 L359.7,131.5 L361.7,131.3 L363.8,130.8 L365.8,131.7 L367.8,131.6 L369.8,131.4 L371.8,131.4 L373.8,131.6 L375.9,130.9 L377.9,131.7 L379.9,131.2 L381.9,131.0 L383.9,131.2 L385.9,131.7 L388.0,131.2 L390.0,131.8 L392.0,132.0 L394.0,131.5 L396.0,131.3 L398.0,131.4 L400.0,131.6 L402.0,131.6 L404.0,131.4 L406.0,131.4 L408.0,130.8 L410.0,130.8 L412.0,130.9 L414.0,131.4 L416.0,130.9 L418.0,131.1 L420.0,130.5 L422.0,130.5 L424.0,130.7 L426.0,131.1 L428.0,130.6 L430.0,130.0 L432.1,129.6 L434.2,129.8 L436.2,129.8 L438.3,129.8 L440.4,129.5 L442.5,130.3 L444.5,129.6 L446.6,130.4 L448.7,130.4 L450.8,129.4 L452.8,129.9 L454.9,130.3 L457.0,130.5 L459.0,129.9 L461.0,129.6 L463.0,129.5 L465.0,130.2 L467.0,129.3 L469.0,129.7 L471.0,129.1 L473.0,129.5 L475.0,129.9 L477.0,129.0 L479.0,129.8 L481.0,129.4 L483.0,129.8 L485.0,129.6 L487.0,129.1 L489.0,129.8 L491.0,129.4 L493.0,128.9 L495.0,128.9 L497.0,129.4 L499.0,129.3 L501.0,128.2 L503.0,127.0 L505.0,127.2 L507.1,127.2 L509.1,127.8 L511.1,126.8 L513.2,127.7 L515.2,127.8 L517.2,127.0 L519.3,127.8 L521.3,127.6 L523.3,127.8 L525.4,127.1 L527.4,127.2 L529.4,127.2 L531.5,127.9 L533.5,127.4 L535.6,127.2 L537.6,127.3 L539.6,127.1 L541.7,126.8 L543.7,126.9 L545.7,127.7 L547.8,127.1 L549.8,127.8 L551.8,127.0 L553.9,127.1 L555.9,127.3 L557.9,127.0 L560.0,127.2 L562.0,127.8 L564.3,127.3 L566.7,126.8 L569.0,126.1 L571.0,126.4 L573.1,126.5 L575.1,126.0 L577.1,126.2 L579.2,125.4 L581.2,126.2 L583.2,125.8 L585.3,126.2 L587.3,126.0 L589.3,125.6 L591.4,125.4 L593.4,126.3 L595.4,125.4 L597.5,125.8 L599.5,125.6 L601.6,125.6 L603.6,126.0 L605.6,126.3 L607.7,125.5 L609.7,125.9 L611.7,125.5 L613.8,125.8 L615.8,125.6 L617.8,125.3 L619.9,125.3 L621.9,125.3 L623.9,126.1 L626.0,125.6 L628.0,125.3 L630.3,125.3 L632.7,124.7 L635.0,123.3 L637.0,123.0 L639.0,123.0 L641.0,122.9 L643.1,123.2 L645.1,122.9 L647.1,123.1 L649.1,123.1 L651.1,123.4 L653.1,123.8 L655.2,123.6 L657.2,123.2 L659.2,123.2 L661.2,123.3 L663.2,123.2 L665.2,123.1 L667.3,122.8 L669.3,123.0 L671.3,123.8 L673.3,122.9 L675.3,123.3 L677.3,123.4 L679.4,123.7 L681.4,122.9 L683.4,123.0 L685.4,123.0 L687.4,123.1 L689.4,123.2 L691.5,123.7 L693.5,123.6 L695.5,123.6 L697.5,123.2 L698.4,123.2" fill="none" stroke="#c22020" stroke-width="1.8"/>
<path d="M52.0,217.2 L54.0,217.2 L56.0,217.8 L58.0,218.0 L60.0,217.6 L62.0,217.7 L64.0,217.2 L66.0,217.5 L68.0,218.0 L70.0,217.9 L72.0,217.9 L74.1,218.0 L76.1,217.4 L78.1,217.2 L80.1,217.3 L82.1,217.6 L84.1,217.8 L86.1,218.0 L88.1,217.8 L90.1,217.7 L92.1,217.8 L94.1,217.6 L96.1,217.6 L98.1,217.2 L100.1,217.9 L102.1,217.4 L104.1,218.0 L106.1,217.7 L108.1,217.4 L110.1,217.3 L112.1,217.4 L114.1,217.7 L116.1,217.8 L118.2,217.3 L120.2,217.2 L122.2,217.6 L124.2,217.7 L126.2,217.5 L128.2,217.4 L130.2,217.7 L132.2,217.2 L134.2,217.4 L136.2,217.6 L138.2,218.0 L140.2,217.7 L142.2,217.9 L144.2,217.6 L146.2,217.4 L148.2,217.4 L150.2,218.0 L152.2,217.8 L154.2,217.4 L156.2,217.2 L158.2,217.6 L160.3,217.8 L162.3,217.5 L164.3,217.4 L166.3,217.8 L168.3,218.0 L170.3,217.4 L172.3,217.2 L174.3,217.5 L176.3,217.5 L178.3,217.8 L180.3,217.3 L182.3,217.9 L184.3,217.8 L186.3,217.6 L188.3,217.3 L190.3,218.0 L192.3,217.4 L194.3,217.9 L196.3,217.4 L198.3,217.3 L200.3,217.8 L202.3,217.4 L204.4,218.0 L206.4,217.6 L208.4,217.3 L210.4,217.4 L212.4,217.5 L214.4,217.7 L216.4,218.0 L218.4,217.3 L220.4,217.5 L222.4,217.3 L224.4,218.0 L226.4,217.3 L228.4,217.2 L230.4,217.2 L232.4,217.5 L234.4,218.0 L236.4,217.9 L238.4,217.8 L240.4,218.0 L242.4,218.0 L244.4,217.4 L246.5,217.3 L248.5,218.0 L250.5,217.8 L252.5,217.2 L254.5,217.7 L256.5,217.5 L258.5,217.5 L260.5,217.4 L262.5,217.3 L264.5,217.2 L266.5,217.4 L268.5,217.5 L270.5,218.0 L272.5,217.3 L274.5,218.0 L276.5,217.3 L278.5,217.5 L280.5,217.9 L282.5,217.9 L284.5,217.5 L286.5,217.2 L288.5,217.6 L290.6,217.5 L292.6,218.0 L294.6,217.3 L296.6,217.5 L298.6,218.0 L300.6,217.2 L302.6,217.5 L304.6,217.9 L306.6,217.8 L308.6,217.2 L310.6,217.2 L312.6,217.2 L314.6,218.0 L316.6,217.4 L318.6,217.8 L320.6,218.0 L322.6,217.5 L324.6,217.4 L326.6,218.0 L328.6,217.7 L330.6,217.4 L332.7,217.8 L334.7,217.4 L336.7,217.4 L338.7,217.2 L340.7,217.8 L342.7,218.0 L344.7,217.7 L346.7,218.0 L348.7,217.2 L350.7,217.4 L352.7,217.6 L354.7,218.0 L356.7,218.0 L358.7,217.5 L360.7,217.4 L362.7,217.5 L364.7,217.6 L366.7,218.0 L368.7,217.3 L370.7,217.9 L372.7,217.8 L374.8,217.9 L376.8,217.8 L378.8,217.7 L380.8,217.4 L382.8,217.4 L384.8,217.5 L386.8,217.9 L388.8,217.2 L390.8,217.3 L392.8,217.8 L394.8,217.4 L396.8,217.2 L398.8,217.2 L400.8,217.6 L402.8,217.4 L404.8,218.0 L406.8,217.9 L408.8,218.0 L410.8,217.4 L412.8,217.2 L414.8,217.2 L416.8,217.6 L418.9,217.8 L420.9,217.6 L422.9,217.4 L424.9,217.5 L426.9,217.7 L428.9,217.8 L430.9,217.8 L432.9,217.9 L434.9,217.7 L436.9,217.3 L438.9,217.9 L440.9,217.4 L442.9,217.7 L444.9,217.5 L446.9,217.8 L448.9,217.3 L450.9,217.4 L452.9,217.4 L454.9,217.3 L456.9,217.9 L458.9,217.7 L461.0,217.4 L463.0,217.5 L465.0,218.0 L467.0,217.6 L469.0,217.4 L471.0,217.9 L473.0,217.7 L475.0,218.0 L477.0,217.2 L479.0,217.6 L481.0,217.9 L483.0,217.9 L485.0,218.0 L487.0,217.2 L489.0,217.4 L491.0,217.3 L493.0,217.3 L495.0,218.0 L497.0,217.7 L499.0,218.0 L501.0,217.5 L503.0,217.9 L505.1,217.6 L507.1,217.4 L509.1,217.8 L511.1,218.0 L513.1,217.2 L515.1,217.7 L517.1,217.7 L519.1,217.3 L521.1,217.5 L523.1,217.3 L525.1,217.3 L527.1,217.4 L529.1,217.7 L531.1,217.7 L533.1,217.3 L535.1,217.2 L537.1,217.4 L539.1,217.8 L541.1,217.3 L543.1,217.4 L545.1,217.3 L547.2,217.9 L549.2,217.6 L551.2,217.2 L553.2,217.2 L555.2,217.5 L557.2,217.6 L559.2,217.7 L561.2,217.2 L563.2,217.3 L565.2,217.8 L567.2,217.5 L569.2,217.4 L571.2,217.4 L573.2,218.0 L575.2,217.4 L577.2,217.7 L579.2,217.5 L581.2,217.5 L583.2,217.9 L585.2,218.0 L587.2,217.5 L589.2,217.3 L591.3,217.8 L593.3,217.3 L595.3,217.2 L597.3,218.0 L599.3,217.5 L601.3,217.9 L603.3,217.5 L605.3,217.9 L607.3,217.6 L609.3,217.3 L611.3,217.2 L613.3,217.6 L615.3,217.7 L617.3,218.0 L619.3,217.2 L621.3,217.7 L623.3,217.5 L625.3,217.6 L627.3,217.3 L629.3,217.4 L631.3,217.6 L633.4,218.0 L635.4,217.2 L637.4,217.6 L639.4,217.9 L641.4,218.0 L643.4,217.3 L645.4,217.3 L647.4,218.0 L649.4,218.0 L651.4,217.6 L653.4,217.2 L655.4,218.0 L657.4,217.5 L659.4,218.0 L661.4,217.7 L663.4,217.9 L665.4,217.3 L667.4,217.9 L669.4,217.3 L671.4,217.5 L673.4,217.9 L675.4,217.9 L677.5,217.3 L679.5,217.3 L681.5,217.5 L683.5,217.6 L685.5,217.5 L687.5,217.3 L689.5,217.4 L691.5,217.8 L693.5,218.0 L695.5,217.2 L697.5,217.6 L697.5,297.8 L695.5,298.1 L693.5,298.1 L691.5,297.8 L689.5,297.8 L687.5,297.5 L685.5,298.2 L683.5,297.7 L681.5,297.8 L679.5,298.2 L677.5,297.5 L675.4,297.5 L673.4,297.3 L671.4,298.2 L669.4,297.3 L667.4,298.2 L665.4,297.7 L663.4,297.7 L661.4,297.6 L659.4,297.9 L657.4,298.1 L655.4,298.0 L653.4,298.1 L651.4,297.3 L649.4,298.0 L647.4,297.4 L645.4,297.8 L643.4,298.0 L641.4,297.5 L639.4,297.6 L637.4,298.3 L635.4,297.5 L633.4,298.2 L631.3,297.6 L629.3,297.8 L627.3,297.5 L625.3,298.1 L623.3,297.8 L621.3,297.8 L619.3,297.3 L617.3,298.3 L615.3,298.1 L613.3,297.5 L611.3,297.3 L609.3,297.4 L607.3,298.2 L605.3,297.3 L603.3,298.2 L601.3,297.5 L599.3,297.8 L597.3,298.0 L595.3,297.6 L593.3,298.1 L591.3,297.7 L589.2,297.7 L587.2,297.3 L585.2,297.9 L583.2,298.2 L581.2,297.8 L579.2,298.3 L577.2,297.6 L575.2,297.7 L573.2,298.0 L571.2,297.6 L569.2,297.5 L567.2,297.3 L565.2,297.7 L563.2,297.6 L561.2,297.5 L559.2,298.1 L557.2,297.4 L555.2,297.4 L553.2,297.6 L551.2,297.9 L549.2,298.2 L547.2,297.9 L545.1,298.1 L543.1,298.2 L541.1,297.3 L539.1,297.4 L537.1,297.5 L535.1,297.4 L533.1,298.3 L531.1,298.3 L529.1,298.2 L527.1,297.3 L525.1,298.2 L523.1,298.2 L521.1,298.1 L519.1,297.6 L517.1,297.9 L515.1,297.3 L513.1,298.1 L511.1,298.0 L509.1,297.9 L507.1,298.0 L505.1,297.3 L503.0,297.3 L501.0,297.4 L499.0,297.6 L497.0,298.3 L495.0,297.4 L493.0,297.3 L491.0,297.4 L489.0,298.3 L487.0,297.3 L485.0,297.9 L483.0,297.5 L481.0,297.6 L479.0,297.9 L477.0,298.0 L475.0,297.7 L473.0,298.2 L471.0,298.0 L469.0,298.2 L467.0,297.8 L465.0,298.3 L463.0,298.0 L461.0,298.0 L458.9,297.9 L456.9,298.2 L454.9,297.5 L452.9,297.6 L450.9,298.2 L448.9,297.6 L446.9,298.1 L444.9,298.3 L442.9,298.1 L440.9,297.5 L438.9,297.5 L436.9,297.3 L434.9,298.2 L432.9,297.5 L430.9,298.3 L428.9,298.0 L426.9,297.5 L424.9,297.8 L422.9,298.1 L420.9,297.7 L418.9,297.9 L416.8,297.5 L414.8,298.0 L412.8,298.2 L410.8,298.0 L408.8,298.1 L406.8,297.6 L404.8,297.3 L402.8,297.5 L400.8,297.4 L398.8,297.5 L396.8,297.7 L394.8,298.1 L392.8,297.8 L390.8,298.1 L388.8,298.2 L386.8,297.3 L384.8,298.0 L382.8,298.1 L380.8,298.2 L378.8,297.3 L376.8,297.6 L374.8,297.6 L372.7,297.4 L370.7,298.1 L368.7,298.0 L366.7,297.8 L364.7,297.9 L362.7,297.5 L360.7,297.4 L358.7,298.3 L356.7,297.9 L354.7,297.3 L352.7,298.1 L350.7,297.3 L348.7,297.5 L346.7,297.7 L344.7,297.8 L342.7,297.3 L340.7,298.2 L338.7,297.5 L336.7,298.1 L334.7,298.3 L332.7,297.7 L330.6,298.0 L328.6,297.6 L326.6,297.9 L324.6,298.0 L322.6,297.3 L320.6,297.5 L318.6,297.7 L316.6,298.1 L314.6,298.2 L312.6,298.0 L310.6,297.4 L308.6,297.4 L306.6,297.5 L304.6,298.3 L302.6,297.4 L300.6,297.8 L298.6,297.9 L296.6,297.5 L294.6,297.9 L292.6,297.9 L290.6,297.5 L288.5,297.6 L286.5,297.4 L284.5,297.6 L282.5,297.3 L280.5,297.3 L278.5,298.0 L276.5,297.5 L274.5,297.4 L272.5,298.2 L270.5,297.8 L268.5,297.7 L266.5,297.9 L264.5,297.4 L262.5,297.3 L260.5,297.3 L258.5,297.6 L256.5,298.0 L254.5,297.9 L252.5,298.3 L250.5,298.0 L248.5,297.5 L246.5,298.2 L244.4,297.3 L242.4,298.1 L240.4,297.4 L238.4,297.7 L236.4,298.1 L234.4,297.6 L232.4,297.9 L230.4,298.3 L228.4,297.5 L226.4,298.1 L224.4,297.7 L222.4,297.9 L220.4,298.3 L218.4,297.4 L216.4,298.2 L214.4,297.9 L212.4,297.9 L210.4,298.2 L208.4,297.6 L206.4,297.9 L204.4,297.8 L202.3,297.4 L200.3,298.1 L198.3,297.4 L196.3,298.2 L194.3,298.0 L192.3,298.3 L190.3,297.4 L188.3,297.5 L186.3,297.3 L184.3,297.6 L182.3,297.8 L180.3,297.5 L178.3,297.5 L176.3,298.3 L174.3,297.8 L172.3,297.4 L170.3,298.1 L168.3,297.6 L166.3,298.2 L164.3,297.4 L162.3,298.1 L160.3,297.6 L158.2,297.3 L156.2,298.3 L154.2,298.1 L152.2,297.4 L150.2,298.3 L148.2,298.3 L146.2,297.8 L144.2,298.3 L142.2,297.5 L140.2,298.1 L138.2,298.1 L136.2,298.3 L134.2,298.2 L132.2,297.4 L130.2,298.3 L128.2,297.7 L126.2,297.8 L124.2,297.3 L122.2,297.8 L120.2,298.1 L118.2,298.1 L116.1,297.3 L114.1,298.0 L112.1,297.3 L110.1,297.8 L108.1,297.7 L106.1,297.4 L104.1,297.7 L102.1,297.4 L100.1,297.4 L98.1,297.8 L96.1,297.4 L94.1,297.8 L92.1,298.1 L90.1,298.1 L88.1,297.5 L86.1,297.8 L84.1,297.9 L82.1,297.3 L80.1,297.7 L78.1,297.7 L76.1,298.0 L74.1,297.7 L72.0,297.9 L70.0,297.7 L68.0,297.6 L66.0,297.9 L64.0,297.9 L62.0,297.9 L60.0,297.4 L58.0,298.2 L56.0,297.3 L54.0,298.1 L52.0,297.9Z" fill="#fdf1f1"/>
<path d="M52.0,220.0 L54.0,220.0 L56.0,220.6 L58.0,220.8 L60.0,220.4 L62.0,220.5 L64.0,220.0 L66.0,220.3 L68.0,220.8 L70.0,220.7 L72.0,220.7 L74.1,220.8 L76.1,220.2 L78.1,220.0 L80.1,220.1 L82.1,220.4 L84.1,220.6 L86.1,220.8 L88.1,220.6 L90.1,220.5 L92.1,220.6 L94.1,220.4 L96.1,220.4 L98.1,220.0 L100.1,220.7 L102.1,220.2 L104.1,220.8 L106.1,220.5 L108.1,220.2 L110.1,220.1 L112.1,220.2 L114.1,220.5 L116.1,220.6 L118.2,220.1 L120.2,220.0 L122.2,220.4 L124.2,220.5 L126.2,220.3 L128.2,220.2 L130.2,220.5 L132.2,220.0 L134.2,220.2 L136.2,220.4 L138.2,220.8 L140.2,220.5 L142.2,220.7 L144.2,220.4 L146.2,220.2 L148.2,220.2 L150.2,220.8 L152.2,220.6 L154.2,220.2 L156.2,220.0 L158.2,220.4 L160.3,220.6 L162.3,220.3 L164.3,220.2 L166.3,220.6 L168.3,220.8 L170.3,220.2 L172.3,220.0 L174.3,220.3 L176.3,220.3 L178.3,220.6 L180.3,220.1 L182.3,220.7 L184.3,220.6 L186.3,220.4 L188.3,220.1 L190.3,220.8 L192.3,220.2 L194.3,220.7 L196.3,220.2 L198.3,220.1 L200.3,220.6 L202.3,220.2 L204.4,220.8 L206.4,220.4 L208.4,220.1 L210.4,220.2 L212.4,220.3 L214.4,220.5 L216.4,220.8 L218.4,220.1 L220.4,220.3 L222.4,220.1 L224.4,220.8 L226.4,220.1 L228.4,220.0 L230.4,220.0 L232.4,220.3 L234.4,220.8 L236.4,220.7 L238.4,220.6 L240.4,220.8 L242.4,220.8 L244.4,220.2 L246.5,220.1 L248.5,220.8 L250.5,220.6 L252.5,220.0 L254.5,220.5 L256.5,220.3 L258.5,220.3 L260.5,220.2 L262.5,220.1 L264.5,220.0 L266.5,220.2 L268.5,220.3 L270.5,220.8 L272.5,220.1 L274.5,220.8 L276.5,220.1 L278.5,220.3 L280.5,220.7 L282.5,220.7 L284.5,220.3 L286.5,220.0 L288.5,220.4 L290.6,220.3 L292.6,220.8 L294.6,220.1 L296.6,220.3 L298.6,220.8 L300.6,220.0 L302.6,220.3 L304.6,220.7 L306.6,220.6 L308.6,220.0 L310.6,220.0 L312.6,220.0 L314.6,220.8 L316.6,220.2 L318.6,220.6 L320.6,220.8 L322.6,220.3 L324.6,220.2 L326.6,220.8 L328.6,220.5 L330.6,220.2 L332.7,220.6 L334.7,220.2 L336.7,220.2 L338.7,220.0 L340.7,220.6 L342.7,220.8 L344.7,220.5 L346.7,220.8 L348.7,220.0 L350.7,220.2 L352.7,220.4 L354.7,220.8 L356.7,220.8 L358.7,220.3 L360.7,220.2 L362.7,220.3 L364.7,220.4 L366.7,220.8 L368.7,220.1 L370.7,220.7 L372.7,220.6 L374.8,220.7 L376.8,220.6 L378.8,220.5 L380.8,220.2 L382.8,220.2 L384.8,220.3 L386.8,220.7 L388.8,220.0 L390.8,220.1 L392.8,220.6 L394.8,220.2 L396.8,220.0 L398.8,220.0 L400.8,220.4 L402.8,220.2 L404.8,220.8 L406.8,220.7 L408.8,220.8 L410.8,220.2 L412.8,220.0 L414.8,220.0 L416.8,220.4 L418.9,220.6 L420.9,220.4 L422.9,220.2 L424.9,220.3 L426.9,220.5 L428.9,220.6 L430.9,220.6 L432.9,220.7 L434.9,220.5 L436.9,220.1 L438.9,220.7 L440.9,220.2 L442.9,220.5 L444.9,220.3 L446.9,220.6 L448.9,220.1 L450.9,220.2 L452.9,220.2 L454.9,220.1 L456.9,220.7 L458.9,220.5 L461.0,220.2 L463.0,220.3 L465.0,220.8 L467.0,220.4 L469.0,220.2 L471.0,220.7 L473.0,220.5 L475.0,220.8 L477.0,220.0 L479.0,220.4 L481.0,220.7 L483.0,220.7 L485.0,220.8 L487.0,220.0 L489.0,220.2 L491.0,220.1 L493.0,220.1 L495.0,220.8 L497.0,220.5 L499.0,220.8 L501.0,220.3 L503.0,220.7 L505.1,220.4 L507.1,220.2 L509.1,220.6 L511.1,220.8 L513.1,220.0 L515.1,220.5 L517.1,220.5 L519.1,220.1 L521.1,220.3 L523.1,220.1 L525.1,220.1 L527.1,220.2 L529.1,220.5 L531.1,220.5 L533.1,220.1 L535.1,220.0 L537.1,220.2 L539.1,220.6 L541.1,220.1 L543.1,220.2 L545.1,220.1 L547.2,220.7 L549.2,220.4 L551.2,220.0 L553.2,220.0 L555.2,220.3 L557.2,220.4 L559.2,220.5 L561.2,220.0 L563.2,220.1 L565.2,220.6 L567.2,220.3 L569.2,220.2 L571.2,220.2 L573.2,220.8 L575.2,220.2 L577.2,220.5 L579.2,220.3 L581.2,220.3 L583.2,220.7 L585.2,220.8 L587.2,220.3 L589.2,220.1 L591.3,220.6 L593.3,220.1 L595.3,220.0 L597.3,220.8 L599.3,220.3 L601.3,220.7 L603.3,220.3 L605.3,220.7 L607.3,220.4 L609.3,220.1 L611.3,220.0 L613.3,220.4 L615.3,220.5 L617.3,220.8 L619.3,220.0 L621.3,220.5 L623.3,220.3 L625.3,220.4 L627.3,220.1 L629.3,220.2 L631.3,220.4 L633.4,220.8 L635.4,220.0 L637.4,220.4 L639.4,220.7 L641.4,220.8 L643.4,220.1 L645.4,220.1 L647.4,220.8 L649.4,220.8 L651.4,220.4 L653.4,220.0 L655.4,220.8 L657.4,220.3 L659.4,220.8 L661.4,220.5 L663.4,220.7 L665.4,220.1 L667.4,220.7 L669.4,220.1 L671.4,220.3 L673.4,220.7 L675.4,220.7 L677.5,220.1 L679.5,220.1 L681.5,220.3 L683.5,220.4 L685.5,220.3 L687.5,220.1 L689.5,220.2 L691.5,220.6 L693.5,220.8 L695.5,220.0 L697.5,220.4 L697.5,295.0 L695.5,295.3 L693.5,295.3 L691.5,295.0 L689.5,295.0 L687.5,294.7 L685.5,295.4 L683.5,294.9 L681.5,295.0 L679.5,295.4 L677.5,294.7 L675.4,294.7 L673.4,294.5 L671.4,295.4 L669.4,294.5 L667.4,295.4 L665.4,294.9 L663.4,294.9 L661.4,294.8 L659.4,295.1 L657.4,295.3 L655.4,295.2 L653.4,295.3 L651.4,294.5 L649.4,295.2 L647.4,294.6 L645.4,295.0 L643.4,295.2 L641.4,294.7 L639.4,294.8 L637.4,295.5 L635.4,294.7 L633.4,295.4 L631.3,294.8 L629.3,295.0 L627.3,294.7 L625.3,295.3 L623.3,295.0 L621.3,295.0 L619.3,294.5 L617.3,295.5 L615.3,295.3 L613.3,294.7 L611.3,294.5 L609.3,294.6 L607.3,295.4 L605.3,294.5 L603.3,295.4 L601.3,294.7 L599.3,295.0 L597.3,295.2 L595.3,294.8 L593.3,295.3 L591.3,294.9 L589.2,294.9 L587.2,294.5 L585.2,295.1 L583.2,295.4 L581.2,295.0 L579.2,295.5 L577.2,294.8 L575.2,294.9 L573.2,295.2 L571.2,294.8 L569.2,294.7 L567.2,294.5 L565.2,294.9 L563.2,294.8 L561.2,294.7 L559.2,295.3 L557.2,294.6 L555.2,294.6 L553.2,294.8 L551.2,295.1 L549.2,295.4 L547.2,295.1 L545.1,295.3 L543.1,295.4 L541.1,294.5 L539.1,294.6 L537.1,294.7 L535.1,294.6 L533.1,295.5 L531.1,295.5 L529.1,295.4 L527.1,294.5 L525.1,295.4 L523.1,295.4 L521.1,295.3 L519.1,294.8 L517.1,295.1 L515.1,294.5 L513.1,295.3 L511.1,295.2 L509.1,295.1 L507.1,295.2 L505.1,294.5 L503.0,294.5 L501.0,294.6 L499.0,294.8 L497.0,295.5 L495.0,294.6 L493.0,294.5 L491.0,294.6 L489.0,295.5 L487.0,294.5 L485.0,295.1 L483.0,294.7 L481.0,294.8 L479.0,295.1 L477.0,295.2 L475.0,294.9 L473.0,295.4 L471.0,295.2 L469.0,295.4 L467.0,295.0 L465.0,295.5 L463.0,295.2 L461.0,295.2 L458.9,295.1 L456.9,295.4 L454.9,294.7 L452.9,294.8 L450.9,295.4 L448.9,294.8 L446.9,295.3 L444.9,295.5 L442.9,295.3 L440.9,294.7 L438.9,294.7 L436.9,294.5 L434.9,295.4 L432.9,294.7 L430.9,295.5 L428.9,295.2 L426.9,294.7 L424.9,295.0 L422.9,295.3 L420.9,294.9 L418.9,295.1 L416.8,294.7 L414.8,295.2 L412.8,295.4 L410.8,295.2 L408.8,295.3 L406.8,294.8 L404.8,294.5 L402.8,294.7 L400.8,294.6 L398.8,294.7 L396.8,294.9 L394.8,295.3 L392.8,295.0 L390.8,295.3 L388.8,295.4 L386.8,294.5 L384.8,295.2 L382.8,295.3 L380.8,295.4 L378.8,294.5 L376.8,294.8 L374.8,294.8 L372.7,294.6 L370.7,295.3 L368.7,295.2 L366.7,295.0 L364.7,295.1 L362.7,294.7 L360.7,294.6 L358.7,295.5 L356.7,295.1 L354.7,294.5 L352.7,295.3 L350.7,294.5 L348.7,294.7 L346.7,294.9 L344.7,295.0 L342.7,294.5 L340.7,295.4 L338.7,294.7 L336.7,295.3 L334.7,295.5 L332.7,294.9 L330.6,295.2 L328.6,294.8 L326.6,295.1 L324.6,295.2 L322.6,294.5 L320.6,294.7 L318.6,294.9 L316.6,295.3 L314.6,295.4 L312.6,295.2 L310.6,294.6 L308.6,294.6 L306.6,294.7 L304.6,295.5 L302.6,294.6 L300.6,295.0 L298.6,295.1 L296.6,294.7 L294.6,295.1 L292.6,295.1 L290.6,294.7 L288.5,294.8 L286.5,294.6 L284.5,294.8 L282.5,294.5 L280.5,294.5 L278.5,295.2 L276.5,294.7 L274.5,294.6 L272.5,295.4 L270.5,295.0 L268.5,294.9 L266.5,295.1 L264.5,294.6 L262.5,294.5 L260.5,294.5 L258.5,294.8 L256.5,295.2 L254.5,295.1 L252.5,295.5 L250.5,295.2 L248.5,294.7 L246.5,295.4 L244.4,294.5 L242.4,295.3 L240.4,294.6 L238.4,294.9 L236.4,295.3 L234.4,294.8 L232.4,295.1 L230.4,295.5 L228.4,294.7 L226.4,295.3 L224.4,294.9 L222.4,295.1 L220.4,295.5 L218.4,294.6 L216.4,295.4 L214.4,295.1 L212.4,295.1 L210.4,295.4 L208.4,294.8 L206.4,295.1 L204.4,295.0 L202.3,294.6 L200.3,295.3 L198.3,294.6 L196.3,295.4 L194.3,295.2 L192.3,295.5 L190.3,294.6 L188.3,294.7 L186.3,294.5 L184.3,294.8 L182.3,295.0 L180.3,294.7 L178.3,294.7 L176.3,295.5 L174.3,295.0 L172.3,294.6 L170.3,295.3 L168.3,294.8 L166.3,295.4 L164.3,294.6 L162.3,295.3 L160.3,294.8 L158.2,294.5 L156.2,295.5 L154.2,295.3 L152.2,294.6 L150.2,295.5 L148.2,295.5 L146.2,295.0 L144.2,295.5 L142.2,294.7 L140.2,295.3 L138.2,295.3 L136.2,295.5 L134.2,295.4 L132.2,294.6 L130.2,295.5 L128.2,294.9 L126.2,295.0 L124.2,294.5 L122.2,295.0 L120.2,295.3 L118.2,295.3 L116.1,294.5 L114.1,295.2 L112.1,294.5 L110.1,295.0 L108.1,294.9 L106.1,294.6 L104.1,294.9 L102.1,294.6 L100.1,294.6 L98.1,295.0 L96.1,294.6 L94.1,295.0 L92.1,295.3 L90.1,295.3 L88.1,294.7 L86.1,295.0 L84.1,295.1 L82.1,294.5 L80.1,294.9 L78.1,294.9 L76.1,295.2 L74.1,294.9 L72.0,295.1 L70.0,294.9 L68.0,294.8 L66.0,295.1 L64.0,295.1 L62.0,295.1 L60.0,294.6 L58.0,295.4 L56.0,294.5 L54.0,295.3 L52.0,295.1Z" fill="#fbe0e0"/>
<line x1="181.5" y1="214.6" x2="181.5" y2="300.8" stroke="#222" stroke-width="1.1"/>
<line x1="181.5" y1="294.8" x2="181.5" y2="300.8" stroke="#111" stroke-width="1.6"/>
<line x1="181.5" y1="214.6" x2="181.5" y2="220.6" stroke="#111" stroke-width="1.6"/>
<line x1="310.9" y1="214.6" x2="310.9" y2="300.8" stroke="#222" stroke-width="1.1"/>
<line x1="310.9" y1="294.8" x2="310.9" y2="300.8" stroke="#111" stroke-width="1.6"/>
<line x1="310.9" y1="214.6" x2="310.9" y2="220.6" stroke="#111" stroke-width="1.6"/>
<line x1="440.7" y1="214.6" x2="440.7" y2="300.8" stroke="#222" stroke-width="1.1"/>
<line x1="440.7" y1="294.8" x2="440.7" y2="300.8" stroke="#111" stroke-width="1.6"/>
<line x1="440.7" y1="214.6" x2="440.7" y2="220.6" stroke="#111" stroke-width="1.6"/>
<line x1="570.0" y1="214.6" x2="570.0" y2="300.8" stroke="#222" stroke-width="1.1"/>
<line x1="570.0" y1="294.8" x2="570.0" y2="300.8" stroke="#111" stroke-width="1.6"/>
<line x1="570.0" y1="214.6" x2="570.0" y2="220.6" stroke="#111" stroke-width="1.6"/>
<rect x="52.0" y="214.6" width="645.5" height="86.20000000000002" fill="none" stroke="#111" stroke-width="1.6"/>
<rect x="697.5" y="221.6" width="4.5" height="72.20000000000002" fill="#fef3f3"/>
<rect x="48.0" y="221.6" width="4" height="72.20000000000002" fill="#fef5f5"/>
<path d="M51.1,222.2 L52.0,222.2 L54.0,222.2 L56.0,222.8 L58.0,223.0 L60.0,222.6 L62.0,222.7 L64.0,222.2 L66.0,222.5 L68.0,223.0 L70.0,222.9 L72.0,222.9 L74.1,223.0 L76.1,222.4 L78.1,222.2 L80.1,222.3 L82.1,222.6 L84.1,222.8 L86.1,223.0 L88.1,222.8 L90.1,222.7 L92.1,222.8 L94.1,222.6 L96.1,222.6 L98.1,222.2 L100.1,222.9 L102.1,222.4 L104.1,223.0 L106.1,222.7 L108.1,222.4 L110.1,222.3 L112.1,222.4 L114.1,222.7 L116.1,222.8 L118.2,222.3 L120.2,222.2 L122.2,222.6 L124.2,222.7 L126.2,222.5 L128.2,222.4 L130.2,222.7 L132.2,222.2 L134.2,222.4 L136.2,222.6 L138.2,223.0 L140.2,222.7 L142.2,222.9 L144.2,222.6 L146.2,222.4 L148.2,222.4 L150.2,223.0 L152.2,222.8 L154.2,222.4 L156.2,222.2 L158.2,222.6 L160.3,222.8 L162.3,222.5 L164.3,222.4 L166.3,222.8 L168.3,223.0 L170.3,222.4 L172.3,222.2 L174.3,222.5 L176.3,222.5 L178.3,222.8 L180.3,222.3 L182.3,222.9 L184.3,222.8 L186.3,222.6 L188.3,222.3 L190.3,223.0 L192.3,222.4 L194.3,222.9 L196.3,222.4 L198.3,222.3 L200.3,222.8 L202.3,222.4 L204.4,223.0 L206.4,222.6 L208.4,222.3 L210.4,222.4 L212.4,222.5 L214.4,222.7 L216.4,223.0 L218.4,222.3 L220.4,222.5 L222.4,222.3 L224.4,223.0 L226.4,222.3 L228.4,222.2 L230.4,222.2 L232.4,222.5 L234.4,223.0 L236.4,222.9 L238.4,222.8 L240.4,223.0 L242.4,223.0 L244.4,222.4 L246.5,222.3 L248.5,223.0 L250.5,222.8 L252.5,222.2 L254.5,222.7 L256.5,222.5 L258.5,222.5 L260.5,222.4 L262.5,222.3 L264.5,222.2 L266.5,222.4 L268.5,222.5 L270.5,223.0 L272.5,222.3 L274.5,223.0 L276.5,222.3 L278.5,222.5 L280.5,222.9 L282.5,222.9 L284.5,222.5 L286.5,222.2 L288.5,222.6 L290.6,222.5 L292.6,223.0 L294.6,222.3 L296.6,222.5 L298.6,223.0 L300.6,222.2 L302.6,222.5 L304.6,222.9 L306.6,222.8 L308.6,222.2 L310.6,222.2 L312.6,222.2 L314.6,223.0 L316.6,222.4 L318.6,222.8 L320.6,223.0 L322.6,222.5 L324.6,222.4 L326.6,223.0 L328.6,222.7 L330.6,222.4 L332.7,222.8 L334.7,222.4 L336.7,222.4 L338.7,222.2 L340.7,222.8 L342.7,223.0 L344.7,222.7 L346.7,223.0 L348.7,222.2 L350.7,222.4 L352.7,222.6 L354.7,223.0 L356.7,223.0 L358.7,222.5 L360.7,222.4 L362.7,222.5 L364.7,222.6 L366.7,223.0 L368.7,222.3 L370.7,222.9 L372.7,222.8 L374.8,222.9 L376.8,222.8 L378.8,222.7 L380.8,222.4 L382.8,222.4 L384.8,222.5 L386.8,222.9 L388.8,222.2 L390.8,222.3 L392.8,222.8 L394.8,222.4 L396.8,222.2 L398.8,222.2 L400.8,222.6 L402.8,222.4 L404.8,223.0 L406.8,222.9 L408.8,223.0 L410.8,222.4 L412.8,222.2 L414.8,222.2 L416.8,222.6 L418.9,222.8 L420.9,222.6 L422.9,222.4 L424.9,222.5 L426.9,222.7 L428.9,222.8 L430.9,222.8 L432.9,222.9 L434.9,222.7 L436.9,222.3 L438.9,222.9 L440.9,222.4 L442.9,222.7 L444.9,222.5 L446.9,222.8 L448.9,222.3 L450.9,222.4 L452.9,222.4 L454.9,222.3 L456.9,222.9 L458.9,222.7 L461.0,222.4 L463.0,222.5 L465.0,223.0 L467.0,222.6 L469.0,222.4 L471.0,222.9 L473.0,222.7 L475.0,223.0 L477.0,222.2 L479.0,222.6 L481.0,222.9 L483.0,222.9 L485.0,223.0 L487.0,222.2 L489.0,222.4 L491.0,222.3 L493.0,222.3 L495.0,223.0 L497.0,222.7 L499.0,223.0 L501.0,222.5 L503.0,222.9 L505.1,222.6 L507.1,222.4 L509.1,222.8 L511.1,223.0 L513.1,222.2 L515.1,222.7 L517.1,222.7 L519.1,222.3 L521.1,222.5 L523.1,222.3 L525.1,222.3 L527.1,222.4 L529.1,222.7 L531.1,222.7 L533.1,222.3 L535.1,222.2 L537.1,222.4 L539.1,222.8 L541.1,222.3 L543.1,222.4 L545.1,222.3 L547.2,222.9 L549.2,222.6 L551.2,222.2 L553.2,222.2 L555.2,222.5 L557.2,222.6 L559.2,222.7 L561.2,222.2 L563.2,222.3 L565.2,222.8 L567.2,222.5 L569.2,222.4 L571.2,222.4 L573.2,223.0 L575.2,222.4 L577.2,222.7 L579.2,222.5 L581.2,222.5 L583.2,222.9 L585.2,223.0 L587.2,222.5 L589.2,222.3 L591.3,222.8 L593.3,222.3 L595.3,222.2 L597.3,223.0 L599.3,222.5 L601.3,222.9 L603.3,222.5 L605.3,222.9 L607.3,222.6 L609.3,222.3 L611.3,222.2 L613.3,222.6 L615.3,222.7 L617.3,223.0 L619.3,222.2 L621.3,222.7 L623.3,222.5 L625.3,222.6 L627.3,222.3 L629.3,222.4 L631.3,222.6 L633.4,223.0 L635.4,222.2 L637.4,222.6 L639.4,222.9 L641.4,223.0 L643.4,222.3 L645.4,222.3 L647.4,223.0 L649.4,223.0 L651.4,222.6 L653.4,222.2 L655.4,223.0 L657.4,222.5 L659.4,223.0 L661.4,222.7 L663.4,222.9 L665.4,222.3 L667.4,222.9 L669.4,222.3 L671.4,222.5 L673.4,222.9 L675.4,222.9 L677.5,222.3 L679.5,222.3 L681.5,222.5 L683.5,222.6 L685.5,222.5 L687.5,222.3 L689.5,222.4 L691.5,222.8 L693.5,223.0 L695.5,222.2 L697.5,222.6 L698.4,222.6 L698.4,292.8 L697.5,292.8 L695.5,293.1 L693.5,293.1 L691.5,292.8 L689.5,292.8 L687.5,292.5 L685.5,293.2 L683.5,292.7 L681.5,292.8 L679.5,293.2 L677.5,292.5 L675.4,292.5 L673.4,292.3 L671.4,293.2 L669.4,292.3 L667.4,293.2 L665.4,292.7 L663.4,292.7 L661.4,292.6 L659.4,292.9 L657.4,293.1 L655.4,293.0 L653.4,293.1 L651.4,292.3 L649.4,293.0 L647.4,292.4 L645.4,292.8 L643.4,293.0 L641.4,292.5 L639.4,292.6 L637.4,293.3 L635.4,292.5 L633.4,293.2 L631.3,292.6 L629.3,292.8 L627.3,292.5 L625.3,293.1 L623.3,292.8 L621.3,292.8 L619.3,292.3 L617.3,293.3 L615.3,293.1 L613.3,292.5 L611.3,292.3 L609.3,292.4 L607.3,293.2 L605.3,292.3 L603.3,293.2 L601.3,292.5 L599.3,292.8 L597.3,293.0 L595.3,292.6 L593.3,293.1 L591.3,292.7 L589.2,292.7 L587.2,292.3 L585.2,292.9 L583.2,293.2 L581.2,292.8 L579.2,293.3 L577.2,292.6 L575.2,292.7 L573.2,293.0 L571.2,292.6 L569.2,292.5 L567.2,292.3 L565.2,292.7 L563.2,292.6 L561.2,292.5 L559.2,293.1 L557.2,292.4 L555.2,292.4 L553.2,292.6 L551.2,292.9 L549.2,293.2 L547.2,292.9 L545.1,293.1 L543.1,293.2 L541.1,292.3 L539.1,292.4 L537.1,292.5 L535.1,292.4 L533.1,293.3 L531.1,293.3 L529.1,293.2 L527.1,292.3 L525.1,293.2 L523.1,293.2 L521.1,293.1 L519.1,292.6 L517.1,292.9 L515.1,292.3 L513.1,293.1 L511.1,293.0 L509.1,292.9 L507.1,293.0 L505.1,292.3 L503.0,292.3 L501.0,292.4 L499.0,292.6 L497.0,293.3 L495.0,292.4 L493.0,292.3 L491.0,292.4 L489.0,293.3 L487.0,292.3 L485.0,292.9 L483.0,292.5 L481.0,292.6 L479.0,292.9 L477.0,293.0 L475.0,292.7 L473.0,293.2 L471.0,293.0 L469.0,293.2 L467.0,292.8 L465.0,293.3 L463.0,293.0 L461.0,293.0 L458.9,292.9 L456.9,293.2 L454.9,292.5 L452.9,292.6 L450.9,293.2 L448.9,292.6 L446.9,293.1 L444.9,293.3 L442.9,293.1 L440.9,292.5 L438.9,292.5 L436.9,292.3 L434.9,293.2 L432.9,292.5 L430.9,293.3 L428.9,293.0 L426.9,292.5 L424.9,292.8 L422.9,293.1 L420.9,292.7 L418.9,292.9 L416.8,292.5 L414.8,293.0 L412.8,293.2 L410.8,293.0 L408.8,293.1 L406.8,292.6 L404.8,292.3 L402.8,292.5 L400.8,292.4 L398.8,292.5 L396.8,292.7 L394.8,293.1 L392.8,292.8 L390.8,293.1 L388.8,293.2 L386.8,292.3 L384.8,293.0 L382.8,293.1 L380.8,293.2 L378.8,292.3 L376.8,292.6 L374.8,292.6 L372.7,292.4 L370.7,293.1 L368.7,293.0 L366.7,292.8 L364.7,292.9 L362.7,292.5 L360.7,292.4 L358.7,293.3 L356.7,292.9 L354.7,292.3 L352.7,293.1 L350.7,292.3 L348.7,292.5 L346.7,292.7 L344.7,292.8 L342.7,292.3 L340.7,293.2 L338.7,292.5 L336.7,293.1 L334.7,293.3 L332.7,292.7 L330.6,293.0 L328.6,292.6 L326.6,292.9 L324.6,293.0 L322.6,292.3 L320.6,292.5 L318.6,292.7 L316.6,293.1 L314.6,293.2 L312.6,293.0 L310.6,292.4 L308.6,292.4 L306.6,292.5 L304.6,293.3 L302.6,292.4 L300.6,292.8 L298.6,292.9 L296.6,292.5 L294.6,292.9 L292.6,292.9 L290.6,292.5 L288.5,292.6 L286.5,292.4 L284.5,292.6 L282.5,292.3 L280.5,292.3 L278.5,293.0 L276.5,292.5 L274.5,292.4 L272.5,293.2 L270.5,292.8 L268.5,292.7 L266.5,292.9 L264.5,292.4 L262.5,292.3 L260.5,292.3 L258.5,292.6 L256.5,293.0 L254.5,292.9 L252.5,293.3 L250.5,293.0 L248.5,292.5 L246.5,293.2 L244.4,292.3 L242.4,293.1 L240.4,292.4 L238.4,292.7 L236.4,293.1 L234.4,292.6 L232.4,292.9 L230.4,293.3 L228.4,292.5 L226.4,293.1 L224.4,292.7 L222.4,292.9 L220.4,293.3 L218.4,292.4 L216.4,293.2 L214.4,292.9 L212.4,292.9 L210.4,293.2 L208.4,292.6 L206.4,292.9 L204.4,292.8 L202.3,292.4 L200.3,293.1 L198.3,292.4 L196.3,293.2 L194.3,293.0 L192.3,293.3 L190.3,292.4 L188.3,292.5 L186.3,292.3 L184.3,292.6 L182.3,292.8 L180.3,292.5 L178.3,292.5 L176.3,293.3 L174.3,292.8 L172.3,292.4 L170.3,293.1 L168.3,292.6 L166.3,293.2 L164.3,292.4 L162.3,293.1 L160.3,292.6 L158.2,292.3 L156.2,293.3 L154.2,293.1 L152.2,292.4 L150.2,293.3 L148.2,293.3 L146.2,292.8 L144.2,293.3 L142.2,292.5 L140.2,293.1 L138.2,293.1 L136.2,293.3 L134.2,293.2 L132.2,292.4 L130.2,293.3 L128.2,292.7 L126.2,292.8 L124.2,292.3 L122.2,292.8 L120.2,293.1 L118.2,293.1 L116.1,292.3 L114.1,293.0 L112.1,292.3 L110.1,292.8 L108.1,292.7 L106.1,292.4 L104.1,292.7 L102.1,292.4 L100.1,292.4 L98.1,292.8 L96.1,292.4 L94.1,292.8 L92.1,293.1 L90.1,293.1 L88.1,292.5 L86.1,292.8 L84.1,292.9 L82.1,292.3 L80.1,292.7 L78.1,292.7 L76.1,293.0 L74.1,292.7 L72.0,292.9 L70.0,292.7 L68.0,292.6 L66.0,292.9 L64.0,292.9 L62.0,292.9 L60.0,292.4 L58.0,293.2 L56.0,292.3 L54.0,293.1 L52.0,292.9 L51.1,292.9Z" fill="#fa0000"/>
<path d="M51.1,222.2 L52.0,222.2 L54.0,222.2 L56.0,222.8 L58.0,223.0 L60.0,222.6 L62.0,222.7 L64.0,222.2 L66.0,222.5 L68.0,223.0 L70.0,222.9 L72.0,222.9 L74.1,223.0 L76.1,222.4 L78.1,222.2 L80.1,222.3 L82.1,222.6 L84.1,222.8 L86.1,223.0 L88.1,222.8 L90.1,222.7 L92.1,222.8 L94.1,222.6 L96.1,222.6 L98.1,222.2 L100.1,222.9 L102.1,222.4 L104.1,223.0 L106.1,222.7 L108.1,222.4 L110.1,222.3 L112.1,222.4 L114.1,222.7 L116.1,222.8 L118.2,222.3 L120.2,222.2 L122.2,222.6 L124.2,222.7 L126.2,222.5 L128.2,222.4 L130.2,222.7 L132.2,222.2 L134.2,222.4 L136.2,222.6 L138.2,223.0 L140.2,222.7 L142.2,222.9 L144.2,222.6 L146.2,222.4 L148.2,222.4 L150.2,223.0 L152.2,222.8 L154.2,222.4 L156.2,222.2 L158.2,222.6 L160.3,222.8 L162.3,222.5 L164.3,222.4 L166.3,222.8 L168.3,223.0 L170.3,222.4 L172.3,222.2 L174.3,222.5 L176.3,222.5 L178.3,222.8 L180.3,222.3 L182.3,222.9 L184.3,222.8 L186.3,222.6 L188.3,222.3 L190.3,223.0 L192.3,222.4 L194.3,222.9 L196.3,222.4 L198.3,222.3 L200.3,222.8 L202.3,222.4 L204.4,223.0 L206.4,222.6 L208.4,222.3 L210.4,222.4 L212.4,222.5 L214.4,222.7 L216.4,223.0 L218.4,222.3 L220.4,222.5 L222.4,222.3 L224.4,223.0 L226.4,222.3 L228.4,222.2 L230.4,222.2 L232.4,222.5 L234.4,223.0 L236.4,222.9 L238.4,222.8 L240.4,223.0 L242.4,223.0 L244.4,222.4 L246.5,222.3 L248.5,223.0 L250.5,222.8 L252.5,222.2 L254.5,222.7 L256.5,222.5 L258.5,222.5 L260.5,222.4 L262.5,222.3 L264.5,222.2 L266.5,222.4 L268.5,222.5 L270.5,223.0 L272.5,222.3 L274.5,223.0 L276.5,222.3 L278.5,222.5 L280.5,222.9 L282.5,222.9 L284.5,222.5 L286.5,222.2 L288.5,222.6 L290.6,222.5 L292.6,223.0 L294.6,222.3 L296.6,222.5 L298.6,223.0 L300.6,222.2 L302.6,222.5 L304.6,222.9 L306.6,222.8 L308.6,222.2 L310.6,222.2 L312.6,222.2 L314.6,223.0 L316.6,222.4 L318.6,222.8 L320.6,223.0 L322.6,222.5 L324.6,222.4 L326.6,223.0 L328.6,222.7 L330.6,222.4 L332.7,222.8 L334.7,222.4 L336.7,222.4 L338.7,222.2 L340.7,222.8 L342.7,223.0 L344.7,222.7 L346.7,223.0 L348.7,222.2 L350.7,222.4 L352.7,222.6 L354.7,223.0 L356.7,223.0 L358.7,222.5 L360.7,222.4 L362.7,222.5 L364.7,222.6 L366.7,223.0 L368.7,222.3 L370.7,222.9 L372.7,222.8 L374.8,222.9 L376.8,222.8 L378.8,222.7 L380.8,222.4 L382.8,222.4 L384.8,222.5 L386.8,222.9 L388.8,222.2 L390.8,222.3 L392.8,222.8 L394.8,222.4 L396.8,222.2 L398.8,222.2 L400.8,222.6 L402.8,222.4 L404.8,223.0 L406.8,222.9 L408.8,223.0 L410.8,222.4 L412.8,222.2 L414.8,222.2 L416.8,222.6 L418.9,222.8 L420.9,222.6 L422.9,222.4 L424.9,222.5 L426.9,222.7 L428.9,222.8 L430.9,222.8 L432.9,222.9 L434.9,222.7 L436.9,222.3 L438.9,222.9 L440.9,222.4 L442.9,222.7 L444.9,222.5 L446.9,222.8 L448.9,222.3 L450.9,222.4 L452.9,222.4 L454.9,222.3 L456.9,222.9 L458.9,222.7 L461.0,222.4 L463.0,222.5 L465.0,223.0 L467.0,222.6 L469.0,222.4 L471.0,222.9 L473.0,222.7 L475.0,223.0 L477.0,222.2 L479.0,222.6 L481.0,222.9 L483.0,222.9 L485.0,223.0 L487.0,222.2 L489.0,222.4 L491.0,222.3 L493.0,222.3 L495.0,223.0 L497.0,222.7 L499.0,223.0 L501.0,222.5 L503.0,222.9 L505.1,222.6 L507.1,222.4 L509.1,222.8 L511.1,223.0 L513.1,222.2 L515.1,222.7 L517.1,222.7 L519.1,222.3 L521.1,222.5 L523.1,222.3 L525.1,222.3 L527.1,222.4 L529.1,222.7 L531.1,222.7 L533.1,222.3 L535.1,222.2 L537.1,222.4 L539.1,222.8 L541.1,222.3 L543.1,222.4 L545.1,222.3 L547.2,222.9 L549.2,222.6 L551.2,222.2 L553.2,222.2 L555.2,222.5 L557.2,222.6 L559.2,222.7 L561.2,222.2 L563.2,222.3 L565.2,222.8 L567.2,222.5 L569.2,222.4 L571.2,222.4 L573.2,223.0 L575.2,222.4 L577.2,222.7 L579.2,222.5 L581.2,222.5 L583.2,222.9 L585.2,223.0 L587.2,222.5 L589.2,222.3 L591.3,222.8 L593.3,222.3 L595.3,222.2 L597.3,223.0 L599.3,222.5 L601.3,222.9 L603.3,222.5 L605.3,222.9 L607.3,222.6 L609.3,222.3 L611.3,222.2 L613.3,222.6 L615.3,222.7 L617.3,223.0 L619.3,222.2 L621.3,222.7 L623.3,222.5 L625.3,222.6 L627.3,222.3 L629.3,222.4 L631.3,222.6 L633.4,223.0 L635.4,222.2 L637.4,222.6 L639.4,222.9 L641.4,223.0 L643.4,222.3 L645.4,222.3 L647.4,223.0 L649.4,223.0 L651.4,222.6 L653.4,222.2 L655.4,223.0 L657.4,222.5 L659.4,223.0 L661.4,222.7 L663.4,222.9 L665.4,222.3 L667.4,222.9 L669.4,222.3 L671.4,222.5 L673.4,222.9 L675.4,222.9 L677.5,222.3 L679.5,222.3 L681.5,222.5 L683.5,222.6 L685.5,222.5 L687.5,222.3 L689.5,222.4 L691.5,222.8 L693.5,223.0 L695.5,222.2 L697.5,222.6 L698.4,222.6" fill="none" stroke="#c22020" stroke-width="1.8"/>
<path d="M51.1,292.9 L52.0,292.9 L54.0,293.1 L56.0,292.3 L58.0,293.2 L60.0,292.4 L62.0,292.9 L64.0,292.9 L66.0,292.9 L68.0,292.6 L70.0,292.7 L72.0,292.9 L74.1,292.7 L76.1,293.0 L78.1,292.7 L80.1,292.7 L82.1,292.3 L84.1,292.9 L86.1,292.8 L88.1,292.5 L90.1,293.1 L92.1,293.1 L94.1,292.8 L96.1,292.4 L98.1,292.8 L100.1,292.4 L102.1,292.4 L104.1,292.7 L106.1,292.4 L108.1,292.7 L110.1,292.8 L112.1,292.3 L114.1,293.0 L116.1,292.3 L118.2,293.1 L120.2,293.1 L122.2,292.8 L124.2,292.3 L126.2,292.8 L128.2,292.7 L130.2,293.3 L132.2,292.4 L134.2,293.2 L136.2,293.3 L138.2,293.1 L140.2,293.1 L142.2,292.5 L144.2,293.3 L146.2,292.8 L148.2,293.3 L150.2,293.3 L152.2,292.4 L154.2,293.1 L156.2,293.3 L158.2,292.3 L160.3,292.6 L162.3,293.1 L164.3,292.4 L166.3,293.2 L168.3,292.6 L170.3,293.1 L172.3,292.4 L174.3,292.8 L176.3,293.3 L178.3,292.5 L180.3,292.5 L182.3,292.8 L184.3,292.6 L186.3,292.3 L188.3,292.5 L190.3,292.4 L192.3,293.3 L194.3,293.0 L196.3,293.2 L198.3,292.4 L200.3,293.1 L202.3,292.4 L204.4,292.8 L206.4,292.9 L208.4,292.6 L210.4,293.2 L212.4,292.9 L214.4,292.9 L216.4,293.2 L218.4,292.4 L220.4,293.3 L222.4,292.9 L224.4,292.7 L226.4,293.1 L228.4,292.5 L230.4,293.3 L232.4,292.9 L234.4,292.6 L236.4,293.1 L238.4,292.7 L240.4,292.4 L242.4,293.1 L244.4,292.3 L246.5,293.2 L248.5,292.5 L250.5,293.0 L252.5,293.3 L254.5,292.9 L256.5,293.0 L258.5,292.6 L260.5,292.3 L262.5,292.3 L264.5,292.4 L266.5,292.9 L268.5,292.7 L270.5,292.8 L272.5,293.2 L274.5,292.4 L276.5,292.5 L278.5,293.0 L280.5,292.3 L282.5,292.3 L284.5,292.6 L286.5,292.4 L288.5,292.6 L290.6,292.5 L292.6,292.9 L294.6,292.9 L296.6,292.5 L298.6,292.9 L300.6,292.8 L302.6,292.4 L304.6,293.3 L306.6,292.5 L308.6,292.4 L310.6,292.4 L312.6,293.0 L314.6,293.2 L316.6,293.1 L318.6,292.7 L320.6,292.5 L322.6,292.3 L324.6,293.0 L326.6,292.9 L328.6,292.6 L330.6,293.0 L332.7,292.7 L334.7,293.3 L336.7,293.1 L338.7,292.5 L340.7,293.2 L342.7,292.3 L344.7,292.8 L346.7,292.7 L348.7,292.5 L350.7,292.3 L352.7,293.1 L354.7,292.3 L356.7,292.9 L358.7,293.3 L360.7,292.4 L362.7,292.5 L364.7,292.9 L366.7,292.8 L368.7,293.0 L370.7,293.1 L372.7,292.4 L374.8,292.6 L376.8,292.6 L378.8,292.3 L380.8,293.2 L382.8,293.1 L384.8,293.0 L386.8,292.3 L388.8,293.2 L390.8,293.1 L392.8,292.8 L394.8,293.1 L396.8,292.7 L398.8,292.5 L400.8,292.4 L402.8,292.5 L404.8,292.3 L406.8,292.6 L408.8,293.1 L410.8,293.0 L412.8,293.2 L414.8,293.0 L416.8,292.5 L418.9,292.9 L420.9,292.7 L422.9,293.1 L424.9,292.8 L426.9,292.5 L428.9,293.0 L430.9,293.3 L432.9,292.5 L434.9,293.2 L436.9,292.3 L438.9,292.5 L440.9,292.5 L442.9,293.1 L444.9,293.3 L446.9,293.1 L448.9,292.6 L450.9,293.2 L452.9,292.6 L454.9,292.5 L456.9,293.2 L458.9,292.9 L461.0,293.0 L463.0,293.0 L465.0,293.3 L467.0,292.8 L469.0,293.2 L471.0,293.0 L473.0,293.2 L475.0,292.7 L477.0,293.0 L479.0,292.9 L481.0,292.6 L483.0,292.5 L485.0,292.9 L487.0,292.3 L489.0,293.3 L491.0,292.4 L493.0,292.3 L495.0,292.4 L497.0,293.3 L499.0,292.6 L501.0,292.4 L503.0,292.3 L505.1,292.3 L507.1,293.0 L509.1,292.9 L511.1,293.0 L513.1,293.1 L515.1,292.3 L517.1,292.9 L519.1,292.6 L521.1,293.1 L523.1,293.2 L525.1,293.2 L527.1,292.3 L529.1,293.2 L531.1,293.3 L533.1,293.3 L535.1,292.4 L537.1,292.5 L539.1,292.4 L541.1,292.3 L543.1,293.2 L545.1,293.1 L547.2,292.9 L549.2,293.2 L551.2,292.9 L553.2,292.6 L555.2,292.4 L557.2,292.4 L559.2,293.1 L561.2,292.5 L563.2,292.6 L565.2,292.7 L567.2,292.3 L569.2,292.5 L571.2,292.6 L573.2,293.0 L575.2,292.7 L577.2,292.6 L579.2,293.3 L581.2,292.8 L583.2,293.2 L585.2,292.9 L587.2,292.3 L589.2,292.7 L591.3,292.7 L593.3,293.1 L595.3,292.6 L597.3,293.0 L599.3,292.8 L601.3,292.5 L603.3,293.2 L605.3,292.3 L607.3,293.2 L609.3,292.4 L611.3,292.3 L613.3,292.5 L615.3,293.1 L617.3,293.3 L619.3,292.3 L621.3,292.8 L623.3,292.8 L625.3,293.1 L627.3,292.5 L629.3,292.8 L631.3,292.6 L633.4,293.2 L635.4,292.5 L637.4,293.3 L639.4,292.6 L641.4,292.5 L643.4,293.0 L645.4,292.8 L647.4,292.4 L649.4,293.0 L651.4,292.3 L653.4,293.1 L655.4,293.0 L657.4,293.1 L659.4,292.9 L661.4,292.6 L663.4,292.7 L665.4,292.7 L667.4,293.2 L669.4,292.3 L671.4,293.2 L673.4,292.3 L675.4,292.5 L677.5,292.5 L679.5,293.2 L681.5,292.8 L683.5,292.7 L685.5,293.2 L687.5,292.5 L689.5,292.8 L691.5,292.8 L693.5,293.1 L695.5,293.1 L697.5,292.8 L698.4,292.8" fill="none" stroke="#c22020" stroke-width="1.8"/>
<path d="M52.0,371.5 L54.0,371.3 L56.0,371.2 L58.0,371.1 L60.0,371.7 L62.0,371.5 L64.0,371.6 L66.0,371.1 L68.0,371.3 L70.0,371.6 L72.0,371.5 L74.1,371.1 L76.1,371.4 L78.1,371.7 L80.1,371.2 L82.1,371.1 L84.1,371.2 L86.1,371.6 L88.1,371.7 L90.1,371.1 L92.1,371.1 L94.1,371.2 L96.1,371.2 L98.1,371.4 L100.1,371.1 L102.1,371.2 L104.1,371.1 L106.1,371.8 L108.1,371.6 L110.1,371.0 L112.1,371.8 L114.1,371.0 L116.1,371.3 L118.2,371.8 L120.2,371.7 L122.2,371.6 L124.2,371.3 L126.2,371.1 L128.2,371.5 L130.2,371.0 L132.2,371.1 L134.2,371.3 L136.2,371.0 L138.2,371.3 L140.2,371.7 L142.2,371.6 L144.2,371.4 L146.2,371.5 L148.2,371.4 L150.2,371.1 L152.2,371.5 L154.2,371.3 L156.2,371.6 L158.2,371.8 L160.3,371.3 L162.3,371.5 L164.3,371.6 L166.3,371.3 L168.3,371.2 L170.3,371.6 L172.3,371.7 L174.3,371.6 L176.3,371.6 L178.3,371.7 L180.3,371.6 L182.3,371.5 L184.3,371.4 L186.3,371.2 L188.3,371.5 L190.3,371.0 L192.3,371.3 L194.3,371.7 L196.3,371.6 L198.3,371.5 L200.3,371.2 L202.3,371.3 L204.4,371.4 L206.4,371.5 L208.4,371.3 L210.4,371.6 L212.4,371.8 L214.4,371.1 L216.4,371.5 L218.4,371.7 L220.4,371.3 L222.4,371.4 L224.4,371.8 L226.4,371.0 L228.4,371.4 L230.4,371.1 L232.4,371.7 L234.4,371.8 L236.4,371.4 L238.4,371.0 L240.4,371.5 L242.4,371.4 L244.4,371.6 L246.5,371.4 L248.5,371.5 L250.5,371.7 L252.5,371.4 L254.5,371.3 L256.5,371.8 L258.5,371.1 L260.5,371.6 L262.5,371.3 L264.5,371.6 L266.5,371.1 L268.5,371.8 L270.5,371.3 L272.5,371.0 L274.5,371.2 L276.5,371.3 L278.5,371.0 L280.5,371.3 L282.5,371.3 L284.5,371.6 L286.5,371.3 L288.5,371.2 L290.6,371.2 L292.6,371.6 L294.6,371.8 L296.6,371.4 L298.6,371.1 L300.6,371.7 L302.6,371.3 L304.6,371.1 L306.6,371.1 L308.6,371.6 L310.6,371.7 L312.6,371.5 L314.6,371.4 L316.6,371.5 L318.6,371.2 L320.6,371.8 L322.6,371.3 L324.6,371.5 L326.6,371.7 L328.6,371.7 L330.6,371.4 L332.7,371.2 L334.7,371.4 L336.7,371.1 L338.7,371.7 L340.7,371.3 L342.7,371.7 L344.7,371.2 L346.7,371.3 L348.7,371.2 L350.7,371.3 L352.7,371.1 L354.7,371.0 L356.7,371.6 L358.7,371.2 L360.7,371.2 L362.7,371.2 L364.7,371.4 L366.7,371.3 L368.7,371.5 L370.7,371.5 L372.7,371.3 L374.8,371.8 L376.8,371.7 L378.8,371.0 L380.8,371.7 L382.8,371.8 L384.8,371.7 L386.8,371.1 L388.8,371.7 L390.8,371.5 L392.8,371.0 L394.8,371.0 L396.8,371.8 L398.8,371.5 L400.8,371.2 L402.8,371.0 L404.8,371.1 L406.8,371.2 L408.8,371.6 L410.8,371.3 L412.8,371.1 L414.8,371.8 L416.8,371.7 L418.9,371.1 L420.9,371.8 L422.9,371.5 L424.9,371.7 L426.9,371.6 L428.9,371.8 L430.9,371.7 L432.9,371.7 L434.9,371.1 L436.9,371.6 L438.9,371.4 L440.9,371.6 L442.9,371.3 L444.9,371.7 L446.9,371.4 L448.9,371.2 L450.9,371.2 L452.9,371.1 L454.9,371.4 L456.9,371.0 L458.9,371.4 L461.0,371.1 L463.0,371.4 L465.0,371.4 L467.0,371.4 L469.0,371.7 L471.0,371.0 L473.0,371.7 L475.0,371.4 L477.0,371.5 L479.0,371.5 L481.0,371.7 L483.0,371.3 L485.0,371.3 L487.0,371.8 L489.0,371.0 L491.0,371.5 L493.0,371.5 L495.0,371.0 L497.0,371.5 L499.0,371.6 L501.0,371.8 L503.0,371.2 L505.1,371.8 L507.1,371.4 L509.1,371.4 L511.1,371.8 L513.1,371.0 L515.1,371.6 L517.1,371.5 L519.1,371.3 L521.1,371.7 L523.1,371.3 L525.1,371.4 L527.1,371.4 L529.1,371.6 L531.1,371.1 L533.1,371.3 L535.1,371.3 L537.1,371.4 L539.1,371.7 L541.1,371.2 L543.1,371.7 L545.1,371.3 L547.2,371.4 L549.2,371.2 L551.2,371.4 L553.2,371.8 L555.2,371.5 L557.2,371.7 L559.2,371.2 L561.2,371.2 L563.2,371.2 L565.2,371.5 L567.2,371.5 L569.2,371.7 L571.2,371.0 L573.2,371.6 L575.2,371.7 L577.2,371.4 L579.2,371.0 L581.2,371.2 L583.2,371.0 L585.2,371.1 L587.2,371.8 L589.2,371.5 L591.3,371.5 L593.3,371.7 L595.3,371.8 L597.3,371.5 L599.3,371.5 L601.3,371.5 L603.3,371.6 L605.3,371.5 L607.3,371.6 L609.3,371.1 L611.3,371.6 L613.3,371.4 L615.3,371.6 L617.3,371.0 L619.3,371.1 L621.3,371.0 L623.3,371.6 L625.3,371.8 L627.3,371.5 L629.3,371.3 L631.3,371.7 L633.4,371.7 L635.4,371.5 L637.4,371.2 L639.4,371.2 L641.4,371.3 L643.4,371.2 L645.4,371.3 L647.4,371.5 L649.4,371.8 L651.4,371.0 L653.4,371.5 L655.4,371.0 L657.4,371.1 L659.4,371.7 L661.4,371.5 L663.4,371.8 L665.4,371.4 L667.4,371.0 L669.4,371.3 L671.4,371.5 L673.4,371.8 L675.4,371.8 L677.5,371.4 L679.5,371.3 L681.5,371.0 L683.5,371.5 L685.5,371.1 L687.5,371.1 L689.5,371.0 L691.5,371.0 L693.5,371.6 L695.5,371.1 L697.5,371.4 L697.5,437.1 L695.5,437.4 L693.5,437.0 L691.5,437.3 L689.4,436.9 L687.4,437.5 L685.4,437.5 L683.4,437.4 L681.4,436.7 L679.4,437.1 L677.3,437.1 L675.3,437.2 L673.3,436.6 L671.3,437.2 L669.3,437.0 L667.3,436.8 L665.2,437.0 L663.2,437.5 L661.2,436.8 L659.2,436.9 L657.2,437.6 L655.2,437.1 L653.2,437.6 L651.1,436.6 L649.1,437.2 L647.1,437.6 L645.1,437.6 L643.1,437.0 L641.1,437.5 L639.0,436.7 L637.0,437.4 L635.0,437.1 L633.0,437.5 L630.0,438.4 L628.0,438.6 L625.9,439.0 L623.9,439.3 L621.9,439.2 L619.9,439.1 L617.8,438.6 L615.8,438.7 L613.8,439.0 L611.8,439.1 L609.7,438.6 L607.7,438.6 L605.7,438.7 L603.7,439.3 L601.6,439.3 L599.6,438.7 L597.6,438.7 L595.6,439.2 L593.5,438.8 L591.5,439.6 L589.5,439.0 L587.4,438.8 L585.4,439.2 L583.4,439.5 L581.4,438.6 L579.3,438.8 L577.3,439.0 L575.3,439.5 L573.3,438.7 L571.2,439.7 L569.2,439.0 L567.2,439.5 L565.2,438.8 L563.1,439.7 L561.1,439.0 L559.1,438.8 L557.1,439.7 L555.0,439.8 L553.0,439.8 L550.5,440.0 L548.0,440.6 L546.0,440.6 L543.9,440.7 L541.9,440.9 L539.9,440.6 L537.9,441.1 L535.8,441.4 L533.8,440.4 L531.8,441.4 L529.8,440.5 L527.7,441.4 L525.7,440.7 L523.7,440.9 L521.7,440.6 L519.6,440.8 L517.6,441.3 L515.6,440.7 L513.6,440.6 L511.5,440.9 L509.5,440.7 L507.5,441.4 L505.4,440.6 L503.4,441.0 L501.4,441.2 L499.4,440.5 L497.3,440.7 L495.3,440.6 L493.3,441.1 L491.3,440.9 L489.2,441.3 L487.2,440.8 L485.2,440.9 L483.2,441.1 L481.1,441.4 L479.1,441.5 L477.1,440.5 L475.1,440.9 L473.0,440.6 L471.0,441.4 L468.0,443.1 L465.9,443.2 L463.8,442.4 L461.7,443.3 L459.6,442.3 L457.5,442.5 L455.5,443.1 L453.4,442.4 L451.3,443.1 L449.2,442.6 L447.1,442.7 L445.0,442.6 L443.0,443.0 L440.9,442.6 L438.9,442.8 L436.9,442.8 L434.8,442.6 L432.8,443.3 L430.8,443.1 L428.7,442.8 L426.7,443.3 L424.7,443.5 L422.6,443.4 L420.6,442.7 L418.6,442.6 L416.5,443.6 L414.5,443.3 L412.5,443.3 L410.4,443.4 L408.4,442.6 L406.4,443.5 L404.3,443.6 L402.3,443.6 L400.3,443.0 L398.2,442.9 L396.2,442.7 L394.2,442.9 L392.1,443.7 L390.1,443.7 L388.1,442.8 L386.0,443.1 L384.0,443.1 L381.5,444.3 L379.0,445.6 L377.0,445.3 L375.0,445.2 L373.0,444.8 L371.0,445.6 L369.0,444.7 L367.0,445.0 L365.0,445.2 L363.0,444.6 L361.0,445.5 L359.0,445.6 L357.0,445.0 L355.0,445.5 L353.0,445.1 L351.0,444.6 L349.0,444.6 L347.0,444.7 L345.0,444.7 L343.0,444.5 L341.0,444.8 L339.0,445.6 L337.0,445.4 L335.0,445.3 L333.0,445.5 L331.0,445.0 L329.0,445.3 L327.0,444.8 L325.0,445.1 L323.0,445.0 L321.0,445.4 L319.0,445.6 L317.0,444.5 L315.0,444.5 L313.0,445.0 L311.0,444.8 L309.0,445.1 L307.0,444.6 L305.0,445.3 L303.0,445.2 L301.0,444.6 L299.0,444.9 L296.5,446.3 L294.0,446.0 L292.0,446.1 L289.9,446.5 L287.9,446.4 L285.8,446.6 L283.8,446.4 L281.8,446.8 L279.7,446.2 L277.7,446.3 L275.6,446.3 L273.6,446.7 L271.5,446.6 L269.5,446.7 L267.5,447.1 L265.4,447.1 L263.4,446.8 L261.3,446.4 L259.3,447.0 L257.2,447.1 L255.2,446.3 L253.2,446.7 L251.1,447.1 L249.1,447.1 L247.0,446.5 L245.0,446.5 L242.9,446.8 L240.9,447.0 L238.8,447.0 L236.8,446.6 L234.8,447.4 L232.7,447.2 L230.7,446.6 L228.6,447.3 L226.6,447.0 L224.5,446.5 L222.4,446.9 L220.4,447.5 L218.3,447.3 L216.3,447.4 L214.2,447.5 L212.2,446.9 L210.2,447.2 L208.1,447.6 L206.1,447.5 L204.0,447.6 L201.0,448.3 L198.9,449.2 L196.8,449.1 L194.6,448.9 L192.5,448.7 L190.4,448.5 L188.2,448.3 L186.1,448.6 L184.0,449.1 L181.5,449.6 L179.0,449.6 L177.0,449.7 L174.9,449.4 L172.9,449.9 L170.9,449.4 L168.8,449.3 L166.8,449.6 L164.8,449.9 L162.8,450.0 L160.7,449.6 L158.7,449.3 L156.7,449.9 L154.6,449.7 L152.6,450.0 L150.6,449.0 L148.5,449.3 L146.5,449.6 L144.5,449.8 L142.4,450.0 L140.4,449.8 L138.4,449.4 L136.3,449.4 L134.3,449.6 L132.3,449.7 L130.2,449.3 L128.2,449.8 L126.2,449.1 L124.2,449.7 L122.1,449.4 L120.1,449.6 L118.1,449.4 L116.0,449.0 L114.0,449.5 L112.0,450.5 L110.0,450.4 L108.0,451.1 L106.0,450.6 L104.0,450.3 L102.0,451.1 L100.0,451.0 L98.0,450.3 L96.0,450.3 L94.0,451.0 L92.0,451.3 L90.0,450.5 L88.0,451.3 L86.0,450.8 L84.0,451.0 L82.0,450.9 L80.0,450.3 L78.0,451.1 L76.0,451.2 L74.0,451.0 L72.0,451.1 L70.0,450.3 L68.0,450.5 L66.0,451.1 L64.0,450.5 L62.0,451.0 L60.0,450.3 L58.0,450.4 L56.0,451.2 L54.0,450.3 L52.0,451.3Z" fill="#fdf1f1"/>
<path d="M52.0,374.3 L54.0,374.1 L56.0,374.0 L58.0,373.9 L60.0,374.5 L62.0,374.3 L64.0,374.4 L66.0,373.9 L68.0,374.1 L70.0,374.4 L72.0,374.3 L74.1,373.9 L76.1,374.2 L78.1,374.5 L80.1,374.0 L82.1,373.9 L84.1,374.0 L86.1,374.4 L88.1,374.5 L90.1,373.9 L92.1,373.9 L94.1,374.0 L96.1,374.0 L98.1,374.2 L100.1,373.9 L102.1,374.0 L104.1,373.9 L106.1,374.6 L108.1,374.4 L110.1,373.8 L112.1,374.6 L114.1,373.8 L116.1,374.1 L118.2,374.6 L120.2,374.5 L122.2,374.4 L124.2,374.1 L126.2,373.9 L128.2,374.3 L130.2,373.8 L132.2,373.9 L134.2,374.1 L136.2,373.8 L138.2,374.1 L140.2,374.5 L142.2,374.4 L144.2,374.2 L146.2,374.3 L148.2,374.2 L150.2,373.9 L152.2,374.3 L154.2,374.1 L156.2,374.4 L158.2,374.6 L160.3,374.1 L162.3,374.3 L164.3,374.4 L166.3,374.1 L168.3,374.0 L170.3,374.4 L172.3,374.5 L174.3,374.4 L176.3,374.4 L178.3,374.5 L180.3,374.4 L182.3,374.3 L184.3,374.2 L186.3,374.0 L188.3,374.3 L190.3,373.8 L192.3,374.1 L194.3,374.5 L196.3,374.4 L198.3,374.3 L200.3,374.0 L202.3,374.1 L204.4,374.2 L206.4,374.3 L208.4,374.1 L210.4,374.4 L212.4,374.6 L214.4,373.9 L216.4,374.3 L218.4,374.5 L220.4,374.1 L222.4,374.2 L224.4,374.6 L226.4,373.8 L228.4,374.2 L230.4,373.9 L232.4,374.5 L234.4,374.6 L236.4,374.2 L238.4,373.8 L240.4,374.3 L242.4,374.2 L244.4,374.4 L246.5,374.2 L248.5,374.3 L250.5,374.5 L252.5,374.2 L254.5,374.1 L256.5,374.6 L258.5,373.9 L260.5,374.4 L262.5,374.1 L264.5,374.4 L266.5,373.9 L268.5,374.6 L270.5,374.1 L272.5,373.8 L274.5,374.0 L276.5,374.1 L278.5,373.8 L280.5,374.1 L282.5,374.1 L284.5,374.4 L286.5,374.1 L288.5,374.0 L290.6,374.0 L292.6,374.4 L294.6,374.6 L296.6,374.2 L298.6,373.9 L300.6,374.5 L302.6,374.1 L304.6,373.9 L306.6,373.9 L308.6,374.4 L310.6,374.5 L312.6,374.3 L314.6,374.2 L316.6,374.3 L318.6,374.0 L320.6,374.6 L322.6,374.1 L324.6,374.3 L326.6,374.5 L328.6,374.5 L330.6,374.2 L332.7,374.0 L334.7,374.2 L336.7,373.9 L338.7,374.5 L340.7,374.1 L342.7,374.5 L344.7,374.0 L346.7,374.1 L348.7,374.0 L350.7,374.1 L352.7,373.9 L354.7,373.8 L356.7,374.4 L358.7,374.0 L360.7,374.0 L362.7,374.0 L364.7,374.2 L366.7,374.1 L368.7,374.3 L370.7,374.3 L372.7,374.1 L374.8,374.6 L376.8,374.5 L378.8,373.8 L380.8,374.5 L382.8,374.6 L384.8,374.5 L386.8,373.9 L388.8,374.5 L390.8,374.3 L392.8,373.8 L394.8,373.8 L396.8,374.6 L398.8,374.3 L400.8,374.0 L402.8,373.8 L404.8,373.9 L406.8,374.0 L408.8,374.4 L410.8,374.1 L412.8,373.9 L414.8,374.6 L416.8,374.5 L418.9,373.9 L420.9,374.6 L422.9,374.3 L424.9,374.5 L426.9,374.4 L428.9,374.6 L430.9,374.5 L432.9,374.5 L434.9,373.9 L436.9,374.4 L438.9,374.2 L440.9,374.4 L442.9,374.1 L444.9,374.5 L446.9,374.2 L448.9,374.0 L450.9,374.0 L452.9,373.9 L454.9,374.2 L456.9,373.8 L458.9,374.2 L461.0,373.9 L463.0,374.2 L465.0,374.2 L467.0,374.2 L469.0,374.5 L471.0,373.8 L473.0,374.5 L475.0,374.2 L477.0,374.3 L479.0,374.3 L481.0,374.5 L483.0,374.1 L485.0,374.1 L487.0,374.6 L489.0,373.8 L491.0,374.3 L493.0,374.3 L495.0,373.8 L497.0,374.3 L499.0,374.4 L501.0,374.6 L503.0,374.0 L505.1,374.6 L507.1,374.2 L509.1,374.2 L511.1,374.6 L513.1,373.8 L515.1,374.4 L517.1,374.3 L519.1,374.1 L521.1,374.5 L523.1,374.1 L525.1,374.2 L527.1,374.2 L529.1,374.4 L531.1,373.9 L533.1,374.1 L535.1,374.1 L537.1,374.2 L539.1,374.5 L541.1,374.0 L543.1,374.5 L545.1,374.1 L547.2,374.2 L549.2,374.0 L551.2,374.2 L553.2,374.6 L555.2,374.3 L557.2,374.5 L559.2,374.0 L561.2,374.0 L563.2,374.0 L565.2,374.3 L567.2,374.3 L569.2,374.5 L571.2,373.8 L573.2,374.4 L575.2,374.5 L577.2,374.2 L579.2,373.8 L581.2,374.0 L583.2,373.8 L585.2,373.9 L587.2,374.6 L589.2,374.3 L591.3,374.3 L593.3,374.5 L595.3,374.6 L597.3,374.3 L599.3,374.3 L601.3,374.3 L603.3,374.4 L605.3,374.3 L607.3,374.4 L609.3,373.9 L611.3,374.4 L613.3,374.2 L615.3,374.4 L617.3,373.8 L619.3,373.9 L621.3,373.8 L623.3,374.4 L625.3,374.6 L627.3,374.3 L629.3,374.1 L631.3,374.5 L633.4,374.5 L635.4,374.3 L637.4,374.0 L639.4,374.0 L641.4,374.1 L643.4,374.0 L645.4,374.1 L647.4,374.3 L649.4,374.6 L651.4,373.8 L653.4,374.3 L655.4,373.8 L657.4,373.9 L659.4,374.5 L661.4,374.3 L663.4,374.6 L665.4,374.2 L667.4,373.8 L669.4,374.1 L671.4,374.3 L673.4,374.6 L675.4,374.6 L677.5,374.2 L679.5,374.1 L681.5,373.8 L683.5,374.3 L685.5,373.9 L687.5,373.9 L689.5,373.8 L691.5,373.8 L693.5,374.4 L695.5,373.9 L697.5,374.2 L697.5,434.3 L695.5,434.6 L693.5,434.2 L691.5,434.5 L689.4,434.1 L687.4,434.7 L685.4,434.7 L683.4,434.6 L681.4,433.9 L679.4,434.3 L677.3,434.3 L675.3,434.4 L673.3,433.8 L671.3,434.4 L669.3,434.2 L667.3,434.0 L665.2,434.2 L663.2,434.7 L661.2,434.0 L659.2,434.1 L657.2,434.8 L655.2,434.3 L653.2,434.8 L651.1,433.8 L649.1,434.4 L647.1,434.8 L645.1,434.8 L643.1,434.2 L641.1,434.7 L639.0,433.9 L637.0,434.6 L635.0,434.3 L633.0,434.7 L630.0,435.6 L628.0,435.8 L625.9,436.2 L623.9,436.5 L621.9,436.4 L619.9,436.3 L617.8,435.8 L615.8,435.9 L613.8,436.2 L611.8,436.3 L609.7,435.8 L607.7,435.8 L605.7,435.9 L603.7,436.5 L601.6,436.5 L599.6,435.9 L597.6,435.9 L595.6,436.4 L593.5,436.0 L591.5,436.8 L589.5,436.2 L587.4,436.0 L585.4,436.4 L583.4,436.7 L581.4,435.8 L579.3,436.0 L577.3,436.2 L575.3,436.7 L573.3,435.9 L571.2,436.9 L569.2,436.2 L567.2,436.7 L565.2,436.0 L563.1,436.9 L561.1,436.2 L559.1,436.0 L557.1,436.9 L555.0,437.0 L553.0,437.0 L550.5,437.2 L548.0,437.8 L546.0,437.8 L543.9,437.9 L541.9,438.1 L539.9,437.8 L537.9,438.3 L535.8,438.6 L533.8,437.6 L531.8,438.6 L529.8,437.7 L527.7,438.6 L525.7,437.9 L523.7,438.1 L521.7,437.8 L519.6,438.0 L517.6,438.5 L515.6,437.9 L513.6,437.8 L511.5,438.1 L509.5,437.9 L507.5,438.6 L505.4,437.8 L503.4,438.2 L501.4,438.4 L499.4,437.7 L497.3,437.9 L495.3,437.8 L493.3,438.3 L491.3,438.1 L489.2,438.5 L487.2,438.0 L485.2,438.1 L483.2,438.3 L481.1,438.6 L479.1,438.7 L477.1,437.7 L475.1,438.1 L473.0,437.8 L471.0,438.6 L468.0,440.3 L465.9,440.4 L463.8,439.6 L461.7,440.5 L459.6,439.5 L457.5,439.7 L455.5,440.3 L453.4,439.6 L451.3,440.3 L449.2,439.8 L447.1,439.9 L445.0,439.8 L443.0,440.2 L440.9,439.8 L438.9,440.0 L436.9,440.0 L434.8,439.8 L432.8,440.5 L430.8,440.3 L428.7,440.0 L426.7,440.5 L424.7,440.7 L422.6,440.6 L420.6,439.9 L418.6,439.8 L416.5,440.8 L414.5,440.5 L412.5,440.5 L410.4,440.6 L408.4,439.8 L406.4,440.7 L404.3,440.8 L402.3,440.8 L400.3,440.2 L398.2,440.1 L396.2,439.9 L394.2,440.1 L392.1,440.9 L390.1,440.9 L388.1,440.0 L386.0,440.3 L384.0,440.3 L381.5,441.5 L379.0,442.8 L377.0,442.5 L375.0,442.4 L373.0,442.0 L371.0,442.8 L369.0,441.9 L367.0,442.2 L365.0,442.4 L363.0,441.8 L361.0,442.7 L359.0,442.8 L357.0,442.2 L355.0,442.7 L353.0,442.3 L351.0,441.8 L349.0,441.8 L347.0,441.9 L345.0,441.9 L343.0,441.7 L341.0,442.0 L339.0,442.8 L337.0,442.6 L335.0,442.5 L333.0,442.7 L331.0,442.2 L329.0,442.5 L327.0,442.0 L325.0,442.3 L323.0,442.2 L321.0,442.6 L319.0,442.8 L317.0,441.7 L315.0,441.7 L313.0,442.2 L311.0,442.0 L309.0,442.3 L307.0,441.8 L305.0,442.5 L303.0,442.4 L301.0,441.8 L299.0,442.1 L296.5,443.5 L294.0,443.2 L292.0,443.3 L289.9,443.7 L287.9,443.6 L285.8,443.8 L283.8,443.6 L281.8,444.0 L279.7,443.4 L277.7,443.5 L275.6,443.5 L273.6,443.9 L271.5,443.8 L269.5,443.9 L267.5,444.3 L265.4,444.3 L263.4,444.0 L261.3,443.6 L259.3,444.2 L257.2,444.3 L255.2,443.5 L253.2,443.9 L251.1,444.3 L249.1,444.3 L247.0,443.7 L245.0,443.7 L242.9,444.0 L240.9,444.2 L238.8,444.2 L236.8,443.8 L234.8,444.6 L232.7,444.4 L230.7,443.8 L228.6,444.5 L226.6,444.2 L224.5,443.7 L222.4,444.1 L220.4,444.7 L218.3,444.5 L216.3,444.6 L214.2,444.7 L212.2,444.1 L210.2,444.4 L208.1,444.8 L206.1,444.7 L204.0,444.8 L201.0,445.5 L198.9,446.4 L196.8,446.3 L194.6,446.1 L192.5,445.9 L190.4,445.7 L188.2,445.5 L186.1,445.8 L184.0,446.3 L181.5,446.8 L179.0,446.8 L177.0,446.9 L174.9,446.6 L172.9,447.1 L170.9,446.6 L168.8,446.5 L166.8,446.8 L164.8,447.1 L162.8,447.2 L160.7,446.8 L158.7,446.5 L156.7,447.1 L154.6,446.9 L152.6,447.2 L150.6,446.2 L148.5,446.5 L146.5,446.8 L144.5,447.0 L142.4,447.2 L140.4,447.0 L138.4,446.6 L136.3,446.6 L134.3,446.8 L132.3,446.9 L130.2,446.5 L128.2,447.0 L126.2,446.3 L124.2,446.9 L122.1,446.6 L120.1,446.8 L118.1,446.6 L116.0,446.2 L114.0,446.7 L112.0,447.7 L110.0,447.6 L108.0,448.3 L106.0,447.8 L104.0,447.5 L102.0,448.3 L100.0,448.2 L98.0,447.5 L96.0,447.5 L94.0,448.2 L92.0,448.5 L90.0,447.7 L88.0,448.5 L86.0,448.0 L84.0,448.2 L82.0,448.1 L80.0,447.5 L78.0,448.3 L76.0,448.4 L74.0,448.2 L72.0,448.3 L70.0,447.5 L68.0,447.7 L66.0,448.3 L64.0,447.7 L62.0,448.2 L60.0,447.5 L58.0,447.6 L56.0,448.4 L54.0,447.5 L52.0,448.5Z" fill="#fbe0e0"/>
<line x1="181.5" y1="367.8" x2="181.5" y2="454.0" stroke="#222" stroke-width="1.1"/>
<line x1="181.5" y1="448.0" x2="181.5" y2="454.0" stroke="#111" stroke-width="1.6"/>
<line x1="181.5" y1="367.8" x2="181.5" y2="373.8" stroke="#111" stroke-width="1.6"/>
<line x1="310.9" y1="367.8" x2="310.9" y2="454.0" stroke="#222" stroke-width="1.1"/>
<line x1="310.9" y1="448.0" x2="310.9" y2="454.0" stroke="#111" stroke-width="1.6"/>
<line x1="310.9" y1="367.8" x2="310.9" y2="373.8" stroke="#111" stroke-width="1.6"/>
<line x1="440.7" y1="367.8" x2="440.7" y2="454.0" stroke="#222" stroke-width="1.1"/>
<line x1="440.7" y1="448.0" x2="440.7" y2="454.0" stroke="#111" stroke-width="1.6"/>
<line x1="440.7" y1="367.8" x2="440.7" y2="373.8" stroke="#111" stroke-width="1.6"/>
<line x1="570.0" y1="367.8" x2="570.0" y2="454.0" stroke="#222" stroke-width="1.1"/>
<line x1="570.0" y1="448.0" x2="570.0" y2="454.0" stroke="#111" stroke-width="1.6"/>
<line x1="570.0" y1="367.8" x2="570.0" y2="373.8" stroke="#111" stroke-width="1.6"/>
<rect x="52.0" y="367.8" width="645.5" height="86.19999999999999" fill="none" stroke="#111" stroke-width="1.6"/>
<rect x="697.5" y="375.4" width="4.5" height="59.5" fill="#fef3f3"/>
<rect x="48.0" y="375.4" width="4" height="71.40000000000003" fill="#fef5f5"/>
<path d="M51.1,376.5 L52.0,376.5 L54.0,376.3 L56.0,376.2 L58.0,376.1 L60.0,376.7 L62.0,376.5 L64.0,376.6 L66.0,376.1 L68.0,376.3 L70.0,376.6 L72.0,376.5 L74.1,376.1 L76.1,376.4 L78.1,376.7 L80.1,376.2 L82.1,376.1 L84.1,376.2 L86.1,376.6 L88.1,376.7 L90.1,376.1 L92.1,376.1 L94.1,376.2 L96.1,376.2 L98.1,376.4 L100.1,376.1 L102.1,376.2 L104.1,376.1 L106.1,376.8 L108.1,376.6 L110.1,376.0 L112.1,376.8 L114.1,376.0 L116.1,376.3 L118.2,376.8 L120.2,376.7 L122.2,376.6 L124.2,376.3 L126.2,376.1 L128.2,376.5 L130.2,376.0 L132.2,376.1 L134.2,376.3 L136.2,376.0 L138.2,376.3 L140.2,376.7 L142.2,376.6 L144.2,376.4 L146.2,376.5 L148.2,376.4 L150.2,376.1 L152.2,376.5 L154.2,376.3 L156.2,376.6 L158.2,376.8 L160.3,376.3 L162.3,376.5 L164.3,376.6 L166.3,376.3 L168.3,376.2 L170.3,376.6 L172.3,376.7 L174.3,376.6 L176.3,376.6 L178.3,376.7 L180.3,376.6 L182.3,376.5 L184.3,376.4 L186.3,376.2 L188.3,376.5 L190.3,376.0 L192.3,376.3 L194.3,376.7 L196.3,376.6 L198.3,376.5 L200.3,376.2 L202.3,376.3 L204.4,376.4 L206.4,376.5 L208.4,376.3 L210.4,376.6 L212.4,376.8 L214.4,376.1 L216.4,376.5 L218.4,376.7 L220.4,376.3 L222.4,376.4 L224.4,376.8 L226.4,376.0 L228.4,376.4 L230.4,376.1 L232.4,376.7 L234.4,376.8 L236.4,376.4 L238.4,376.0 L240.4,376.5 L242.4,376.4 L244.4,376.6 L246.5,376.4 L248.5,376.5 L250.5,376.7 L252.5,376.4 L254.5,376.3 L256.5,376.8 L258.5,376.1 L260.5,376.6 L262.5,376.3 L264.5,376.6 L266.5,376.1 L268.5,376.8 L270.5,376.3 L272.5,376.0 L274.5,376.2 L276.5,376.3 L278.5,376.0 L280.5,376.3 L282.5,376.3 L284.5,376.6 L286.5,376.3 L288.5,376.2 L290.6,376.2 L292.6,376.6 L294.6,376.8 L296.6,376.4 L298.6,376.1 L300.6,376.7 L302.6,376.3 L304.6,376.1 L306.6,376.1 L308.6,376.6 L310.6,376.7 L312.6,376.5 L314.6,376.4 L316.6,376.5 L318.6,376.2 L320.6,376.8 L322.6,376.3 L324.6,376.5 L326.6,376.7 L328.6,376.7 L330.6,376.4 L332.7,376.2 L334.7,376.4 L336.7,376.1 L338.7,376.7 L340.7,376.3 L342.7,376.7 L344.7,376.2 L346.7,376.3 L348.7,376.2 L350.7,376.3 L352.7,376.1 L354.7,376.0 L356.7,376.6 L358.7,376.2 L360.7,376.2 L362.7,376.2 L364.7,376.4 L366.7,376.3 L368.7,376.5 L370.7,376.5 L372.7,376.3 L374.8,376.8 L376.8,376.7 L378.8,376.0 L380.8,376.7 L382.8,376.8 L384.8,376.7 L386.8,376.1 L388.8,376.7 L390.8,376.5 L392.8,376.0 L394.8,376.0 L396.8,376.8 L398.8,376.5 L400.8,376.2 L402.8,376.0 L404.8,376.1 L406.8,376.2 L408.8,376.6 L410.8,376.3 L412.8,376.1 L414.8,376.8 L416.8,376.7 L418.9,376.1 L420.9,376.8 L422.9,376.5 L424.9,376.7 L426.9,376.6 L428.9,376.8 L430.9,376.7 L432.9,376.7 L434.9,376.1 L436.9,376.6 L438.9,376.4 L440.9,376.6 L442.9,376.3 L444.9,376.7 L446.9,376.4 L448.9,376.2 L450.9,376.2 L452.9,376.1 L454.9,376.4 L456.9,376.0 L458.9,376.4 L461.0,376.1 L463.0,376.4 L465.0,376.4 L467.0,376.4 L469.0,376.7 L471.0,376.0 L473.0,376.7 L475.0,376.4 L477.0,376.5 L479.0,376.5 L481.0,376.7 L483.0,376.3 L485.0,376.3 L487.0,376.8 L489.0,376.0 L491.0,376.5 L493.0,376.5 L495.0,376.0 L497.0,376.5 L499.0,376.6 L501.0,376.8 L503.0,376.2 L505.1,376.8 L507.1,376.4 L509.1,376.4 L511.1,376.8 L513.1,376.0 L515.1,376.6 L517.1,376.5 L519.1,376.3 L521.1,376.7 L523.1,376.3 L525.1,376.4 L527.1,376.4 L529.1,376.6 L531.1,376.1 L533.1,376.3 L535.1,376.3 L537.1,376.4 L539.1,376.7 L541.1,376.2 L543.1,376.7 L545.1,376.3 L547.2,376.4 L549.2,376.2 L551.2,376.4 L553.2,376.8 L555.2,376.5 L557.2,376.7 L559.2,376.2 L561.2,376.2 L563.2,376.2 L565.2,376.5 L567.2,376.5 L569.2,376.7 L571.2,376.0 L573.2,376.6 L575.2,376.7 L577.2,376.4 L579.2,376.0 L581.2,376.2 L583.2,376.0 L585.2,376.1 L587.2,376.8 L589.2,376.5 L591.3,376.5 L593.3,376.7 L595.3,376.8 L597.3,376.5 L599.3,376.5 L601.3,376.5 L603.3,376.6 L605.3,376.5 L607.3,376.6 L609.3,376.1 L611.3,376.6 L613.3,376.4 L615.3,376.6 L617.3,376.0 L619.3,376.1 L621.3,376.0 L623.3,376.6 L625.3,376.8 L627.3,376.5 L629.3,376.3 L631.3,376.7 L633.4,376.7 L635.4,376.5 L637.4,376.2 L639.4,376.2 L641.4,376.3 L643.4,376.2 L645.4,376.3 L647.4,376.5 L649.4,376.8 L651.4,376.0 L653.4,376.5 L655.4,376.0 L657.4,376.1 L659.4,376.7 L661.4,376.5 L663.4,376.8 L665.4,376.4 L667.4,376.0 L669.4,376.3 L671.4,376.5 L673.4,376.8 L675.4,376.8 L677.5,376.4 L679.5,376.3 L681.5,376.0 L683.5,376.5 L685.5,376.1 L687.5,376.1 L689.5,376.0 L691.5,376.0 L693.5,376.6 L695.5,376.1 L697.5,376.4 L698.4,376.4 L698.4,432.1 L697.5,432.1 L695.5,432.4 L693.5,432.0 L691.5,432.3 L689.4,431.9 L687.4,432.5 L685.4,432.5 L683.4,432.4 L681.4,431.7 L679.4,432.1 L677.3,432.1 L675.3,432.2 L673.3,431.6 L671.3,432.2 L669.3,432.0 L667.3,431.8 L665.2,432.0 L663.2,432.5 L661.2,431.8 L659.2,431.9 L657.2,432.6 L655.2,432.1 L653.2,432.6 L651.1,431.6 L649.1,432.2 L647.1,432.6 L645.1,432.6 L643.1,432.0 L641.1,432.5 L639.0,431.7 L637.0,432.4 L635.0,432.1 L633.0,432.5 L630.0,433.4 L628.0,433.6 L625.9,434.0 L623.9,434.3 L621.9,434.2 L619.9,434.1 L617.8,433.6 L615.8,433.7 L613.8,434.0 L611.8,434.1 L609.7,433.6 L607.7,433.6 L605.7,433.7 L603.7,434.3 L601.6,434.3 L599.6,433.7 L597.6,433.7 L595.6,434.2 L593.5,433.8 L591.5,434.6 L589.5,434.0 L587.4,433.8 L585.4,434.2 L583.4,434.5 L581.4,433.6 L579.3,433.8 L577.3,434.0 L575.3,434.5 L573.3,433.7 L571.2,434.7 L569.2,434.0 L567.2,434.5 L565.2,433.8 L563.1,434.7 L561.1,434.0 L559.1,433.8 L557.1,434.7 L555.0,434.8 L553.0,434.8 L550.5,435.0 L548.0,435.6 L546.0,435.6 L543.9,435.7 L541.9,435.9 L539.9,435.6 L537.9,436.1 L535.8,436.4 L533.8,435.4 L531.8,436.4 L529.8,435.5 L527.7,436.4 L525.7,435.7 L523.7,435.9 L521.7,435.6 L519.6,435.8 L517.6,436.3 L515.6,435.7 L513.6,435.6 L511.5,435.9 L509.5,435.7 L507.5,436.4 L505.4,435.6 L503.4,436.0 L501.4,436.2 L499.4,435.5 L497.3,435.7 L495.3,435.6 L493.3,436.1 L491.3,435.9 L489.2,436.3 L487.2,435.8 L485.2,435.9 L483.2,436.1 L481.1,436.4 L479.1,436.5 L477.1,435.5 L475.1,435.9 L473.0,435.6 L471.0,436.4 L468.0,438.1 L465.9,438.2 L463.8,437.4 L461.7,438.3 L459.6,437.3 L457.5,437.5 L455.5,438.1 L453.4,437.4 L451.3,438.1 L449.2,437.6 L447.1,437.7 L445.0,437.6 L443.0,438.0 L440.9,437.6 L438.9,437.8 L436.9,437.8 L434.8,437.6 L432.8,438.3 L430.8,438.1 L428.7,437.8 L426.7,438.3 L424.7,438.5 L422.6,438.4 L420.6,437.7 L418.6,437.6 L416.5,438.6 L414.5,438.3 L412.5,438.3 L410.4,438.4 L408.4,437.6 L406.4,438.5 L404.3,438.6 L402.3,438.6 L400.3,438.0 L398.2,437.9 L396.2,437.7 L394.2,437.9 L392.1,438.7 L390.1,438.7 L388.1,437.8 L386.0,438.1 L384.0,438.1 L381.5,439.3 L379.0,440.6 L377.0,440.3 L375.0,440.2 L373.0,439.8 L371.0,440.6 L369.0,439.7 L367.0,440.0 L365.0,440.2 L363.0,439.6 L361.0,440.5 L359.0,440.6 L357.0,440.0 L355.0,440.5 L353.0,440.1 L351.0,439.6 L349.0,439.6 L347.0,439.7 L345.0,439.7 L343.0,439.5 L341.0,439.8 L339.0,440.6 L337.0,440.4 L335.0,440.3 L333.0,440.5 L331.0,440.0 L329.0,440.3 L327.0,439.8 L325.0,440.1 L323.0,440.0 L321.0,440.4 L319.0,440.6 L317.0,439.5 L315.0,439.5 L313.0,440.0 L311.0,439.8 L309.0,440.1 L307.0,439.6 L305.0,440.3 L303.0,440.2 L301.0,439.6 L299.0,439.9 L296.5,441.3 L294.0,441.0 L292.0,441.1 L289.9,441.5 L287.9,441.4 L285.8,441.6 L283.8,441.4 L281.8,441.8 L279.7,441.2 L277.7,441.3 L275.6,441.3 L273.6,441.7 L271.5,441.6 L269.5,441.7 L267.5,442.1 L265.4,442.1 L263.4,441.8 L261.3,441.4 L259.3,442.0 L257.2,442.1 L255.2,441.3 L253.2,441.7 L251.1,442.1 L249.1,442.1 L247.0,441.5 L245.0,441.5 L242.9,441.8 L240.9,442.0 L238.8,442.0 L236.8,441.6 L234.8,442.4 L232.7,442.2 L230.7,441.6 L228.6,442.3 L226.6,442.0 L224.5,441.5 L222.4,441.9 L220.4,442.5 L218.3,442.3 L216.3,442.4 L214.2,442.5 L212.2,441.9 L210.2,442.2 L208.1,442.6 L206.1,442.5 L204.0,442.6 L201.0,443.3 L198.9,444.2 L196.8,444.1 L194.6,443.9 L192.5,443.7 L190.4,443.5 L188.2,443.3 L186.1,443.6 L184.0,444.1 L181.5,444.6 L179.0,444.6 L177.0,444.7 L174.9,444.4 L172.9,444.9 L170.9,444.4 L168.8,444.3 L166.8,444.6 L164.8,444.9 L162.8,445.0 L160.7,444.6 L158.7,444.3 L156.7,444.9 L154.6,444.7 L152.6,445.0 L150.6,444.0 L148.5,444.3 L146.5,444.6 L144.5,444.8 L142.4,445.0 L140.4,444.8 L138.4,444.4 L136.3,444.4 L134.3,444.6 L132.3,444.7 L130.2,444.3 L128.2,444.8 L126.2,444.1 L124.2,444.7 L122.1,444.4 L120.1,444.6 L118.1,444.4 L116.0,444.0 L114.0,444.5 L112.0,445.5 L110.0,445.4 L108.0,446.1 L106.0,445.6 L104.0,445.3 L102.0,446.1 L100.0,446.0 L98.0,445.3 L96.0,445.3 L94.0,446.0 L92.0,446.3 L90.0,445.5 L88.0,446.3 L86.0,445.8 L84.0,446.0 L82.0,445.9 L80.0,445.3 L78.0,446.1 L76.0,446.2 L74.0,446.0 L72.0,446.1 L70.0,445.3 L68.0,445.5 L66.0,446.1 L64.0,445.5 L62.0,446.0 L60.0,445.3 L58.0,445.4 L56.0,446.2 L54.0,445.3 L52.0,446.3 L51.1,446.3Z" fill="#fa0000"/>
<path d="M51.1,376.5 L52.0,376.5 L54.0,376.3 L56.0,376.2 L58.0,376.1 L60.0,376.7 L62.0,376.5 L64.0,376.6 L66.0,376.1 L68.0,376.3 L70.0,376.6 L72.0,376.5 L74.1,376.1 L76.1,376.4 L78.1,376.7 L80.1,376.2 L82.1,376.1 L84.1,376.2 L86.1,376.6 L88.1,376.7 L90.1,376.1 L92.1,376.1 L94.1,376.2 L96.1,376.2 L98.1,376.4 L100.1,376.1 L102.1,376.2 L104.1,376.1 L106.1,376.8 L108.1,376.6 L110.1,376.0 L112.1,376.8 L114.1,376.0 L116.1,376.3 L118.2,376.8 L120.2,376.7 L122.2,376.6 L124.2,376.3 L126.2,376.1 L128.2,376.5 L130.2,376.0 L132.2,376.1 L134.2,376.3 L136.2,376.0 L138.2,376.3 L140.2,376.7 L142.2,376.6 L144.2,376.4 L146.2,376.5 L148.2,376.4 L150.2,376.1 L152.2,376.5 L154.2,376.3 L156.2,376.6 L158.2,376.8 L160.3,376.3 L162.3,376.5 L164.3,376.6 L166.3,376.3 L168.3,376.2 L170.3,376.6 L172.3,376.7 L174.3,376.6 L176.3,376.6 L178.3,376.7 L180.3,376.6 L182.3,376.5 L184.3,376.4 L186.3,376.2 L188.3,376.5 L190.3,376.0 L192.3,376.3 L194.3,376.7 L196.3,376.6 L198.3,376.5 L200.3,376.2 L202.3,376.3 L204.4,376.4 L206.4,376.5 L208.4,376.3 L210.4,376.6 L212.4,376.8 L214.4,376.1 L216.4,376.5 L218.4,376.7 L220.4,376.3 L222.4,376.4 L224.4,376.8 L226.4,376.0 L228.4,376.4 L230.4,376.1 L232.4,376.7 L234.4,376.8 L236.4,376.4 L238.4,376.0 L240.4,376.5 L242.4,376.4 L244.4,376.6 L246.5,376.4 L248.5,376.5 L250.5,376.7 L252.5,376.4 L254.5,376.3 L256.5,376.8 L258.5,376.1 L260.5,376.6 L262.5,376.3 L264.5,376.6 L266.5,376.1 L268.5,376.8 L270.5,376.3 L272.5,376.0 L274.5,376.2 L276.5,376.3 L278.5,376.0 L280.5,376.3 L282.5,376.3 L284.5,376.6 L286.5,376.3 L288.5,376.2 L290.6,376.2 L292.6,376.6 L294.6,376.8 L296.6,376.4 L298.6,376.1 L300.6,376.7 L302.6,376.3 L304.6,376.1 L306.6,376.1 L308.6,376.6 L310.6,376.7 L312.6,376.5 L314.6,376.4 L316.6,376.5 L318.6,376.2 L320.6,376.8 L322.6,376.3 L324.6,376.5 L326.6,376.7 L328.6,376.7 L330.6,376.4 L332.7,376.2 L334.7,376.4 L336.7,376.1 L338.7,376.7 L340.7,376.3 L342.7,376.7 L344.7,376.2 L346.7,376.3 L348.7,376.2 L350.7,376.3 L352.7,376.1 L354.7,376.0 L356.7,376.6 L358.7,376.2 L360.7,376.2 L362.7,376.2 L364.7,376.4 L366.7,376.3 L368.7,376.5 L370.7,376.5 L372.7,376.3 L374.8,376.8 L376.8,376.7 L378.8,376.0 L380.8,376.7 L382.8,376.8 L384.8,376.7 L386.8,376.1 L388.8,376.7 L390.8,376.5 L392.8,376.0 L394.8,376.0 L396.8,376.8 L398.8,376.5 L400.8,376.2 L402.8,376.0 L404.8,376.1 L406.8,376.2 L408.8,376.6 L410.8,376.3 L412.8,376.1 L414.8,376.8 L416.8,376.7 L418.9,376.1 L420.9,376.8 L422.9,376.5 L424.9,376.7 L426.9,376.6 L428.9,376.8 L430.9,376.7 L432.9,376.7 L434.9,376.1 L436.9,376.6 L438.9,376.4 L440.9,376.6 L442.9,376.3 L444.9,376.7 L446.9,376.4 L448.9,376.2 L450.9,376.2 L452.9,376.1 L454.9,376.4 L456.9,376.0 L458.9,376.4 L461.0,376.1 L463.0,376.4 L465.0,376.4 L467.0,376.4 L469.0,376.7 L471.0,376.0 L473.0,376.7 L475.0,376.4 L477.0,376.5 L479.0,376.5 L481.0,376.7 L483.0,376.3 L485.0,376.3 L487.0,376.8 L489.0,376.0 L491.0,376.5 L493.0,376.5 L495.0,376.0 L497.0,376.5 L499.0,376.6 L501.0,376.8 L503.0,376.2 L505.1,376.8 L507.1,376.4 L509.1,376.4 L511.1,376.8 L513.1,376.0 L515.1,376.6 L517.1,376.5 L519.1,376.3 L521.1,376.7 L523.1,376.3 L525.1,376.4 L527.1,376.4 L529.1,376.6 L531.1,376.1 L533.1,376.3 L535.1,376.3 L537.1,376.4 L539.1,376.7 L541.1,376.2 L543.1,376.7 L545.1,376.3 L547.2,376.4 L549.2,376.2 L551.2,376.4 L553.2,376.8 L555.2,376.5 L557.2,376.7 L559.2,376.2 L561.2,376.2 L563.2,376.2 L565.2,376.5 L567.2,376.5 L569.2,376.7 L571.2,376.0 L573.2,376.6 L575.2,376.7 L577.2,376.4 L579.2,376.0 L581.2,376.2 L583.2,376.0 L585.2,376.1 L587.2,376.8 L589.2,376.5 L591.3,376.5 L593.3,376.7 L595.3,376.8 L597.3,376.5 L599.3,376.5 L601.3,376.5 L603.3,376.6 L605.3,376.5 L607.3,376.6 L609.3,376.1 L611.3,376.6 L613.3,376.4 L615.3,376.6 L617.3,376.0 L619.3,376.1 L621.3,376.0 L623.3,376.6 L625.3,376.8 L627.3,376.5 L629.3,376.3 L631.3,376.7 L633.4,376.7 L635.4,376.5 L637.4,376.2 L639.4,376.2 L641.4,376.3 L643.4,376.2 L645.4,376.3 L647.4,376.5 L649.4,376.8 L651.4,376.0 L653.4,376.5 L655.4,376.0 L657.4,376.1 L659.4,376.7 L661.4,376.5 L663.4,376.8 L665.4,376.4 L667.4,376.0 L669.4,376.3 L671.4,376.5 L673.4,376.8 L675.4,376.8 L677.5,376.4 L679.5,376.3 L681.5,376.0 L683.5,376.5 L685.5,376.1 L687.5,376.1 L689.5,376.0 L691.5,376.0 L693.5,376.6 L695.5,376.1 L697.5,376.4 L698.4,376.4" fill="none" stroke="#c22020" stroke-width="1.8"/>
<path d="M51.1,446.3 L52.0,446.3 L54.0,445.3 L56.0,446.2 L58.0,445.4 L60.0,445.3 L62.0,446.0 L64.0,445.5 L66.0,446.1 L68.0,445.5 L70.0,445.3 L72.0,446.1 L74.0,446.0 L76.0,446.2 L78.0,446.1 L80.0,445.3 L82.0,445.9 L84.0,446.0 L86.0,445.8 L88.0,446.3 L90.0,445.5 L92.0,446.3 L94.0,446.0 L96.0,445.3 L98.0,445.3 L100.0,446.0 L102.0,446.1 L104.0,445.3 L106.0,445.6 L108.0,446.1 L110.0,445.4 L112.0,445.5 L114.0,444.5 L116.0,444.0 L118.1,444.4 L120.1,444.6 L122.1,444.4 L124.2,444.7 L126.2,444.1 L128.2,444.8 L130.2,444.3 L132.3,444.7 L134.3,444.6 L136.3,444.4 L138.4,444.4 L140.4,444.8 L142.4,445.0 L144.5,444.8 L146.5,444.6 L148.5,444.3 L150.6,444.0 L152.6,445.0 L154.6,444.7 L156.7,444.9 L158.7,444.3 L160.7,444.6 L162.8,445.0 L164.8,444.9 L166.8,444.6 L168.8,444.3 L170.9,444.4 L172.9,444.9 L174.9,444.4 L177.0,444.7 L179.0,444.6 L181.5,444.6 L184.0,444.1 L186.1,443.6 L188.2,443.3 L190.4,443.5 L192.5,443.7 L194.6,443.9 L196.8,444.1 L198.9,444.2 L201.0,443.3 L204.0,442.6 L206.1,442.5 L208.1,442.6 L210.2,442.2 L212.2,441.9 L214.2,442.5 L216.3,442.4 L218.3,442.3 L220.4,442.5 L222.4,441.9 L224.5,441.5 L226.6,442.0 L228.6,442.3 L230.7,441.6 L232.7,442.2 L234.8,442.4 L236.8,441.6 L238.8,442.0 L240.9,442.0 L242.9,441.8 L245.0,441.5 L247.0,441.5 L249.1,442.1 L251.1,442.1 L253.2,441.7 L255.2,441.3 L257.2,442.1 L259.3,442.0 L261.3,441.4 L263.4,441.8 L265.4,442.1 L267.5,442.1 L269.5,441.7 L271.5,441.6 L273.6,441.7 L275.6,441.3 L277.7,441.3 L279.7,441.2 L281.8,441.8 L283.8,441.4 L285.8,441.6 L287.9,441.4 L289.9,441.5 L292.0,441.1 L294.0,441.0 L296.5,441.3 L299.0,439.9 L301.0,439.6 L303.0,440.2 L305.0,440.3 L307.0,439.6 L309.0,440.1 L311.0,439.8 L313.0,440.0 L315.0,439.5 L317.0,439.5 L319.0,440.6 L321.0,440.4 L323.0,440.0 L325.0,440.1 L327.0,439.8 L329.0,440.3 L331.0,440.0 L333.0,440.5 L335.0,440.3 L337.0,440.4 L339.0,440.6 L341.0,439.8 L343.0,439.5 L345.0,439.7 L347.0,439.7 L349.0,439.6 L351.0,439.6 L353.0,440.1 L355.0,440.5 L357.0,440.0 L359.0,440.6 L361.0,440.5 L363.0,439.6 L365.0,440.2 L367.0,440.0 L369.0,439.7 L371.0,440.6 L373.0,439.8 L375.0,440.2 L377.0,440.3 L379.0,440.6 L381.5,439.3 L384.0,438.1 L386.0,438.1 L388.1,437.8 L390.1,438.7 L392.1,438.7 L394.2,437.9 L396.2,437.7 L398.2,437.9 L400.3,438.0 L402.3,438.6 L404.3,438.6 L406.4,438.5 L408.4,437.6 L410.4,438.4 L412.5,438.3 L414.5,438.3 L416.5,438.6 L418.6,437.6 L420.6,437.7 L422.6,438.4 L424.7,438.5 L426.7,438.3 L428.7,437.8 L430.8,438.1 L432.8,438.3 L434.8,437.6 L436.9,437.8 L438.9,437.8 L440.9,437.6 L443.0,438.0 L445.0,437.6 L447.1,437.7 L449.2,437.6 L451.3,438.1 L453.4,437.4 L455.5,438.1 L457.5,437.5 L459.6,437.3 L461.7,438.3 L463.8,437.4 L465.9,438.2 L468.0,438.1 L471.0,436.4 L473.0,435.6 L475.1,435.9 L477.1,435.5 L479.1,436.5 L481.1,436.4 L483.2,436.1 L485.2,435.9 L487.2,435.8 L489.2,436.3 L491.3,435.9 L493.3,436.1 L495.3,435.6 L497.3,435.7 L499.4,435.5 L501.4,436.2 L503.4,436.0 L505.4,435.6 L507.5,436.4 L509.5,435.7 L511.5,435.9 L513.6,435.6 L515.6,435.7 L517.6,436.3 L519.6,435.8 L521.7,435.6 L523.7,435.9 L525.7,435.7 L527.7,436.4 L529.8,435.5 L531.8,436.4 L533.8,435.4 L535.8,436.4 L537.9,436.1 L539.9,435.6 L541.9,435.9 L543.9,435.7 L546.0,435.6 L548.0,435.6 L550.5,435.0 L553.0,434.8 L555.0,434.8 L557.1,434.7 L559.1,433.8 L561.1,434.0 L563.1,434.7 L565.2,433.8 L567.2,434.5 L569.2,434.0 L571.2,434.7 L573.3,433.7 L575.3,434.5 L577.3,434.0 L579.3,433.8 L581.4,433.6 L583.4,434.5 L585.4,434.2 L587.4,433.8 L589.5,434.0 L591.5,434.6 L593.5,433.8 L595.6,434.2 L597.6,433.7 L599.6,433.7 L601.6,434.3 L603.7,434.3 L605.7,433.7 L607.7,433.6 L609.7,433.6 L611.8,434.1 L613.8,434.0 L615.8,433.7 L617.8,433.6 L619.9,434.1 L621.9,434.2 L623.9,434.3 L625.9,434.0 L628.0,433.6 L630.0,433.4 L633.0,432.5 L635.0,432.1 L637.0,432.4 L639.0,431.7 L641.1,432.5 L643.1,432.0 L645.1,432.6 L647.1,432.6 L649.1,432.2 L651.1,431.6 L653.2,432.6 L655.2,432.1 L657.2,432.6 L659.2,431.9 L661.2,431.8 L663.2,432.5 L665.2,432.0 L667.3,431.8 L669.3,432.0 L671.3,432.2 L673.3,431.6 L675.3,432.2 L677.3,432.1 L679.4,432.1 L681.4,431.7 L683.4,432.4 L685.4,432.5 L687.4,432.5 L689.4,431.9 L691.5,432.3 L693.5,432.0 L695.5,432.4 L697.5,432.1 L698.4,432.1" fill="none" stroke="#c22020" stroke-width="1.8"/>
<path d="M52.0,522.4 L54.0,522.4 L56.0,522.4 L58.0,522.4 L60.0,522.4 L62.0,522.4 L64.0,522.4 L66.0,522.4 L68.0,522.4 L70.0,522.4 L72.0,522.4 L74.1,522.4 L76.1,522.4 L78.1,522.4 L80.1,522.4 L82.1,522.4 L84.1,522.4 L86.1,522.4 L88.1,522.4 L90.1,522.4 L92.1,522.4 L94.1,522.4 L96.1,522.4 L98.1,522.4 L100.1,522.4 L102.1,522.4 L104.1,522.4 L106.1,522.4 L108.1,522.4 L110.1,522.4 L112.1,522.4 L114.1,522.4 L116.1,522.4 L118.2,522.4 L120.2,522.4 L122.2,522.4 L124.2,522.4 L126.2,522.4 L128.2,522.4 L130.2,522.4 L132.2,522.4 L134.2,522.4 L136.2,522.4 L138.2,522.4 L140.2,522.4 L142.2,522.4 L144.2,522.4 L146.2,522.4 L148.2,522.4 L150.2,522.4 L152.2,522.4 L154.2,522.4 L156.2,522.4 L158.2,522.4 L160.3,522.4 L162.3,522.4 L164.3,522.4 L166.3,522.4 L168.3,522.4 L170.3,522.4 L172.3,522.4 L174.3,522.4 L176.3,522.4 L178.3,522.4 L180.3,522.4 L182.3,522.4 L184.3,522.4 L186.3,522.4 L188.3,522.4 L190.3,522.4 L192.3,522.4 L194.3,522.4 L196.3,522.4 L198.3,522.4 L200.3,522.4 L202.3,522.4 L204.4,522.4 L206.4,522.4 L208.4,522.4 L210.4,522.4 L212.4,522.4 L214.4,522.4 L216.4,522.4 L218.4,522.4 L220.4,522.4 L222.4,522.4 L224.4,522.4 L226.4,522.4 L228.4,522.4 L230.4,522.4 L232.4,522.4 L234.4,522.4 L236.4,522.4 L238.4,522.4 L240.4,522.4 L242.4,522.4 L244.4,522.4 L246.5,522.4 L248.5,522.4 L250.5,522.4 L252.5,522.4 L254.5,522.4 L256.5,522.4 L258.5,522.4 L260.5,522.4 L262.5,522.4 L264.5,522.4 L266.5,522.4 L268.5,522.4 L270.5,522.4 L272.5,522.4 L274.5,522.4 L276.5,522.4 L278.5,522.4 L280.5,522.4 L282.5,522.4 L284.5,522.4 L286.5,522.4 L288.5,522.4 L290.6,522.4 L292.6,522.4 L294.6,522.4 L296.6,522.4 L298.6,522.4 L300.6,522.4 L302.6,522.4 L304.6,522.4 L306.6,522.4 L308.6,522.4 L310.6,522.4 L312.6,522.4 L314.6,522.4 L316.6,522.4 L318.6,522.4 L320.6,522.4 L322.6,522.4 L324.6,522.4 L326.6,522.4 L328.6,522.4 L330.6,522.4 L332.7,522.4 L334.7,522.4 L336.7,522.4 L338.7,522.4 L340.7,522.4 L342.7,522.4 L344.7,522.4 L346.7,522.4 L348.7,522.4 L350.7,522.4 L352.7,522.4 L354.7,522.4 L356.7,522.4 L358.7,522.4 L360.7,522.4 L362.7,522.4 L364.7,522.4 L366.7,522.4 L368.7,522.4 L370.7,522.4 L372.7,522.4 L374.8,522.4 L376.8,522.4 L378.8,522.4 L380.8,522.4 L382.8,522.4 L384.8,522.4 L386.8,522.4 L388.8,522.4 L390.8,522.4 L392.8,522.4 L394.8,522.4 L396.8,522.4 L398.8,522.4 L400.8,522.4 L402.8,522.4 L404.8,522.4 L406.8,522.4 L408.8,522.4 L410.8,522.4 L412.8,522.4 L414.8,522.4 L416.8,522.4 L418.9,522.4 L420.9,522.4 L422.9,522.4 L424.9,522.4 L426.9,522.4 L428.9,522.4 L430.9,522.4 L432.9,522.4 L434.9,522.4 L436.9,522.4 L438.9,522.4 L440.9,522.4 L442.9,522.4 L444.9,522.4 L446.9,522.4 L448.9,522.4 L450.9,522.4 L452.9,522.4 L454.9,522.4 L456.9,522.4 L458.9,522.4 L461.0,522.4 L463.0,522.4 L465.0,522.4 L467.0,522.4 L469.0,522.4 L471.0,522.4 L473.0,522.4 L475.0,522.4 L477.0,522.4 L479.0,522.4 L481.0,522.4 L483.0,522.4 L485.0,522.4 L487.0,522.4 L489.0,522.4 L491.0,522.4 L493.0,522.4 L495.0,522.4 L497.0,522.4 L499.0,522.4 L501.0,522.4 L503.0,522.4 L505.1,522.4 L507.1,522.4 L509.1,522.4 L511.1,522.4 L513.1,522.4 L515.1,522.4 L517.1,522.4 L519.1,522.4 L521.1,522.4 L523.1,522.4 L525.1,522.4 L527.1,522.4 L529.1,522.4 L531.1,522.4 L533.1,522.4 L535.1,522.4 L537.1,522.4 L539.1,522.4 L541.1,522.4 L543.1,522.4 L545.1,522.4 L547.2,522.4 L549.2,522.4 L551.2,522.4 L553.2,522.4 L555.2,522.4 L557.2,522.4 L559.2,522.4 L561.2,522.4 L563.2,522.4 L565.2,522.4 L567.2,522.4 L569.2,522.4 L571.2,522.4 L573.2,522.4 L575.2,522.4 L577.2,522.4 L579.2,522.4 L581.2,522.4 L583.2,522.4 L585.2,522.4 L587.2,522.4 L589.2,522.4 L591.3,522.4 L593.3,522.4 L595.3,522.4 L597.3,522.4 L599.3,522.4 L601.3,522.4 L603.3,522.4 L605.3,522.4 L607.3,522.4 L609.3,522.4 L611.3,522.4 L613.3,522.4 L615.3,522.4 L617.3,522.4 L619.3,522.4 L621.3,522.4 L623.3,522.4 L625.3,522.4 L627.3,522.4 L629.3,522.4 L631.3,522.4 L633.4,522.4 L635.4,522.4 L637.4,522.4 L639.4,522.4 L641.4,522.4 L643.4,522.4 L645.4,522.4 L647.4,522.4 L649.4,522.4 L651.4,522.4 L653.4,522.4 L655.4,522.4 L657.4,522.4 L659.4,522.4 L661.4,522.4 L663.4,522.4 L665.4,522.4 L667.4,522.4 L669.4,522.4 L671.4,522.4 L673.4,522.4 L675.4,522.4 L677.5,522.4 L679.5,522.4 L681.5,522.4 L683.5,522.4 L685.5,522.4 L687.5,522.4 L689.5,522.4 L691.5,522.4 L693.5,522.4 L695.5,522.4 L697.5,522.4 L697.5,554.6 L695.5,554.7 L693.4,554.5 L691.4,554.8 L689.3,554.2 L687.3,554.6 L685.3,554.9 L683.2,554.3 L681.2,554.2 L679.1,555.1 L677.1,554.5 L675.1,554.5 L673.0,554.9 L671.0,554.7 L668.9,555.2 L666.9,554.8 L664.9,554.5 L662.8,554.9 L660.8,555.0 L658.8,554.3 L656.7,555.2 L654.7,555.0 L652.6,555.3 L650.6,555.4 L648.6,555.3 L646.5,555.3 L644.5,555.4 L642.4,554.8 L640.4,554.7 L638.4,554.4 L636.3,554.6 L634.3,554.8 L632.2,555.0 L630.2,554.9 L628.2,554.7 L626.1,554.6 L624.1,555.4 L622.0,555.3 L620.0,555.2 L618.0,555.2 L616.0,555.3 L614.0,555.7 L612.0,556.1 L610.0,556.5 L608.0,556.3 L606.0,556.7 L604.0,557.4 L602.0,557.7 L600.0,558.0 L598.0,557.1 L596.0,557.8 L594.0,557.3 L592.0,557.5 L590.0,557.1 L588.0,557.1 L586.0,558.0 L584.0,557.5 L582.0,557.2 L580.0,557.8 L578.0,557.1 L576.0,557.7 L574.0,557.4 L572.0,557.2 L570.0,557.6 L568.0,557.6 L566.0,558.0 L564.0,558.0 L562.0,557.8 L560.0,558.0 L558.0,557.7 L556.0,557.7 L554.0,557.1 L552.0,557.3 L550.0,558.0 L548.0,557.5 L546.0,557.7 L544.0,557.5 L542.0,557.4 L540.0,558.0 L538.0,557.3 L536.0,557.4 L534.0,557.9 L532.0,558.0 L530.0,557.9 L528.0,557.2 L526.0,558.0 L524.0,558.0 L522.0,557.8 L520.0,557.3 L518.0,557.4 L516.0,558.0 L514.0,557.9 L512.0,557.1 L510.0,557.2 L508.0,557.3 L506.0,557.3 L504.0,557.8 L502.0,558.0 L500.0,557.7 L498.0,557.8 L496.0,558.0 L494.0,557.1 L492.0,557.6 L490.0,557.3 L488.0,557.5 L486.0,557.6 L484.0,557.2 L482.0,557.7 L480.0,558.0 L478.0,557.8 L476.0,557.1 L474.0,557.9 L472.0,558.0 L470.0,557.1 L468.0,557.1 L466.0,557.2 L464.0,557.4 L462.0,557.6 L460.0,557.4 L458.0,557.2 L456.0,557.5 L454.0,557.8 L452.0,557.3 L450.0,557.4 L448.0,557.1 L446.0,557.3 L444.0,557.4 L442.0,557.4 L440.0,557.2 L438.0,558.0 L436.0,557.9 L434.0,557.6 L432.0,557.7 L430.0,557.8 L428.0,557.2 L426.0,557.9 L424.0,557.7 L422.0,557.9 L420.0,557.4 L418.0,557.7 L416.0,557.2 L414.0,558.0 L412.0,557.4 L410.0,557.4 L408.0,558.0 L406.0,557.5 L404.0,557.6 L402.0,557.3 L400.0,557.3 L398.0,557.8 L396.0,557.8 L394.0,557.2 L392.0,557.4 L390.0,557.3 L388.0,557.5 L386.0,557.4 L384.0,557.1 L382.0,557.3 L380.0,557.6 L378.0,557.8 L376.0,558.0 L374.0,557.7 L372.0,557.3 L370.0,557.9 L368.0,557.8 L366.0,557.1 L364.0,557.9 L362.0,557.2 L360.0,558.0 L358.0,557.6 L356.0,557.5 L354.0,557.8 L352.0,557.1 L350.0,557.5 L348.0,557.7 L346.0,558.0 L344.0,557.9 L342.0,557.8 L340.0,558.0 L338.0,557.5 L336.0,558.0 L334.0,557.1 L332.0,557.4 L330.0,558.0 L328.0,557.9 L326.0,557.5 L324.0,557.8 L322.0,557.1 L320.0,557.9 L318.0,558.0 L316.0,557.3 L314.0,557.9 L312.0,557.2 L310.0,557.3 L308.0,557.1 L306.0,557.7 L304.0,558.0 L302.0,557.1 L300.0,557.4 L298.0,557.9 L296.0,558.0 L294.0,557.1 L292.0,557.4 L290.0,557.8 L288.0,557.5 L286.0,557.3 L284.0,557.8 L282.0,557.7 L280.0,558.0 L278.0,557.2 L276.0,557.8 L274.0,557.4 L272.0,557.1 L270.0,557.5 L268.0,557.4 L266.0,557.3 L264.0,557.2 L262.0,557.1 L260.0,557.1 L258.0,557.8 L256.0,557.9 L254.0,558.0 L252.0,557.2 L250.0,557.2 L248.0,557.7 L246.0,557.4 L244.0,558.0 L242.0,558.0 L240.0,558.0 L238.0,558.0 L236.0,558.0 L234.0,558.0 L232.0,558.0 L230.0,558.0 L228.0,558.0 L226.0,558.0 L224.0,558.0 L222.0,558.0 L220.0,558.0 L218.0,558.0 L216.0,558.0 L214.0,558.0 L212.0,558.0 L210.0,558.0 L208.0,558.0 L206.0,558.0 L204.0,558.0 L202.0,558.0 L200.0,558.0 L198.0,558.0 L196.0,558.0 L194.0,558.0 L192.0,558.0 L190.0,558.0 L188.0,558.0 L186.0,558.0 L184.0,558.0 L182.0,558.0 L180.0,558.0 L178.0,558.0 L176.0,558.0 L174.0,558.0 L172.0,558.0 L170.0,558.0 L168.0,558.0 L166.0,558.0 L164.0,558.0 L162.0,558.0 L160.0,558.0 L158.0,558.0 L156.0,558.0 L154.0,558.0 L152.0,558.0 L150.0,558.0 L148.0,558.0 L146.0,558.0 L144.0,558.0 L142.0,558.0 L140.0,558.0 L138.0,558.0 L136.0,558.0 L134.0,558.0 L132.0,558.0 L130.0,558.0 L128.0,558.0 L126.0,558.0 L124.0,558.0 L122.0,558.0 L120.0,558.0 L118.0,558.0 L116.0,558.0 L114.0,558.0 L112.0,558.0 L110.0,558.0 L108.0,558.0 L106.0,558.0 L104.0,558.0 L102.0,558.0 L100.0,558.0 L98.0,558.0 L96.0,558.0 L94.0,558.0 L92.0,558.0 L90.0,558.0 L88.0,558.0 L86.0,558.0 L84.0,558.0 L82.0,558.0 L80.0,558.0 L78.0,558.0 L76.0,558.0 L74.0,558.0 L72.0,558.0 L70.0,558.0 L68.0,558.0 L66.0,558.0 L64.0,558.0 L62.0,558.0 L60.0,558.0 L58.0,558.0 L56.0,558.0 L54.0,558.0 L52.0,558.0Z" fill="#fdf1f1"/>
<path d="M52.0,522.8 L54.0,523.5 L56.0,523.6 L58.0,523.2 L60.0,523.2 L62.0,523.2 L64.0,523.2 L66.0,522.8 L68.0,523.6 L70.0,523.0 L72.0,522.9 L74.1,522.8 L76.1,523.0 L78.1,523.5 L80.1,522.8 L82.1,522.8 L84.1,523.4 L86.1,522.9 L88.1,522.8 L90.1,523.3 L92.1,523.3 L94.1,523.2 L96.1,523.4 L98.1,522.8 L100.1,523.5 L102.1,523.4 L104.1,522.8 L106.1,522.9 L108.1,523.2 L110.1,523.2 L112.1,523.0 L114.1,522.9 L116.1,523.1 L118.2,522.9 L120.2,523.3 L122.2,523.5 L124.2,522.9 L126.2,523.3 L128.2,523.4 L130.2,522.9 L132.2,523.5 L134.2,523.6 L136.2,523.1 L138.2,523.1 L140.2,523.5 L142.2,523.2 L144.2,523.1 L146.2,523.6 L148.2,523.4 L150.2,523.1 L152.2,523.0 L154.2,523.1 L156.2,523.1 L158.2,523.6 L160.3,523.5 L162.3,523.6 L164.3,523.5 L166.3,523.5 L168.3,522.8 L170.3,523.2 L172.3,523.6 L174.3,523.6 L176.3,523.0 L178.3,523.1 L180.3,523.3 L182.3,523.1 L184.3,523.2 L186.3,522.8 L188.3,523.1 L190.3,523.2 L192.3,522.8 L194.3,522.9 L196.3,523.6 L198.3,523.4 L200.3,523.6 L202.3,523.3 L204.4,523.5 L206.4,523.5 L208.4,523.5 L210.4,522.8 L212.4,523.3 L214.4,523.0 L216.4,523.4 L218.4,523.0 L220.4,523.2 L222.4,523.6 L224.4,523.3 L226.4,523.0 L228.4,523.2 L230.4,523.1 L232.4,523.6 L234.4,523.0 L236.4,523.0 L238.4,523.3 L240.4,522.9 L242.4,523.3 L244.4,523.6 L246.5,523.2 L248.5,523.0 L250.5,523.2 L252.5,523.2 L254.5,522.9 L256.5,522.9 L258.5,522.9 L260.5,523.0 L262.5,523.1 L264.5,523.0 L266.5,523.0 L268.5,522.8 L270.5,523.2 L272.5,523.5 L274.5,523.3 L276.5,523.3 L278.5,523.3 L280.5,522.9 L282.5,523.4 L284.5,523.2 L286.5,523.2 L288.5,523.3 L290.6,523.2 L292.6,523.0 L294.6,523.0 L296.6,522.9 L298.6,523.2 L300.6,523.1 L302.6,523.3 L304.6,522.8 L306.6,523.1 L308.6,523.5 L310.6,523.0 L312.6,523.3 L314.6,523.2 L316.6,523.0 L318.6,523.6 L320.6,523.0 L322.6,523.4 L324.6,522.9 L326.6,522.8 L328.6,523.5 L330.6,523.1 L332.7,522.8 L334.7,523.1 L336.7,523.1 L338.7,523.4 L340.7,522.8 L342.7,523.0 L344.7,523.6 L346.7,523.4 L348.7,522.9 L350.7,523.1 L352.7,523.1 L354.7,523.4 L356.7,523.3 L358.7,523.5 L360.7,523.5 L362.7,523.2 L364.7,523.4 L366.7,523.4 L368.7,523.4 L370.7,523.2 L372.7,523.5 L374.8,523.4 L376.8,523.6 L378.8,522.9 L380.8,523.5 L382.8,522.8 L384.8,523.4 L386.8,523.3 L388.8,523.2 L390.8,523.6 L392.8,523.3 L394.8,523.1 L396.8,523.5 L398.8,523.5 L400.8,523.3 L402.8,523.1 L404.8,523.2 L406.8,523.2 L408.8,523.4 L410.8,523.0 L412.8,523.1 L414.8,523.2 L416.8,523.1 L418.9,523.0 L420.9,523.5 L422.9,523.5 L424.9,523.2 L426.9,523.1 L428.9,522.9 L430.9,523.0 L432.9,522.9 L434.9,523.3 L436.9,523.3 L438.9,522.8 L440.9,523.6 L442.9,523.0 L444.9,523.5 L446.9,523.5 L448.9,523.6 L450.9,522.9 L452.9,523.1 L454.9,523.6 L456.9,522.8 L458.9,522.8 L461.0,523.3 L463.0,523.2 L465.0,523.6 L467.0,523.4 L469.0,523.2 L471.0,523.6 L473.0,523.2 L475.0,523.2 L477.0,523.4 L479.0,523.1 L481.0,523.1 L483.0,523.3 L485.0,523.1 L487.0,523.6 L489.0,523.4 L491.0,523.2 L493.0,522.8 L495.0,523.1 L497.0,523.1 L499.0,523.3 L501.0,523.3 L503.0,523.5 L505.1,523.6 L507.1,523.2 L509.1,523.1 L511.1,523.3 L513.1,523.6 L515.1,523.1 L517.1,523.2 L519.1,523.5 L521.1,522.9 L523.1,523.0 L525.1,523.6 L527.1,523.5 L529.1,523.2 L531.1,522.8 L533.1,523.6 L535.1,523.4 L537.1,523.5 L539.1,523.6 L541.1,523.5 L543.1,523.1 L545.1,522.9 L547.2,523.0 L549.2,523.2 L551.2,523.2 L553.2,522.9 L555.2,522.9 L557.2,523.3 L559.2,523.3 L561.2,523.1 L563.2,523.6 L565.2,523.3 L567.2,522.8 L569.2,523.1 L571.2,523.5 L573.2,523.0 L575.2,523.4 L577.2,522.8 L579.2,523.0 L581.2,523.5 L583.2,523.3 L585.2,523.4 L587.2,522.9 L589.2,523.2 L591.3,523.2 L593.3,523.0 L595.3,523.3 L597.3,523.2 L599.3,523.6 L601.3,523.3 L603.3,523.1 L605.3,522.9 L607.3,522.9 L609.3,523.4 L611.3,522.8 L613.3,522.8 L615.3,522.9 L617.3,523.2 L619.3,523.5 L621.3,523.3 L623.3,523.5 L625.3,522.8 L627.3,522.8 L629.3,523.4 L631.3,523.0 L633.4,523.4 L635.4,523.1 L637.4,522.9 L639.4,523.0 L641.4,522.8 L643.4,523.6 L645.4,523.3 L647.4,523.1 L649.4,523.2 L651.4,523.1 L653.4,522.8 L655.4,523.6 L657.4,523.3 L659.4,523.6 L661.4,523.1 L663.4,523.3 L665.4,523.0 L667.4,522.8 L669.4,523.6 L671.4,523.5 L673.4,523.0 L675.4,523.6 L677.5,523.5 L679.5,523.0 L681.5,523.3 L683.5,523.6 L685.5,523.2 L687.5,523.6 L689.5,523.0 L691.5,523.1 L693.5,523.4 L695.5,522.9 L697.5,523.2 L697.5,551.8 L695.5,551.9 L693.4,551.7 L691.4,552.0 L689.3,551.4 L687.3,551.8 L685.3,552.1 L683.2,551.5 L681.2,551.4 L679.1,552.3 L677.1,551.7 L675.1,551.7 L673.0,552.1 L671.0,551.9 L668.9,552.4 L666.9,552.0 L664.9,551.7 L662.8,552.1 L660.8,552.2 L658.8,551.5 L656.7,552.4 L654.7,552.2 L652.6,552.5 L650.6,552.6 L648.6,552.5 L646.5,552.5 L644.5,552.6 L642.4,552.0 L640.4,551.9 L638.4,551.6 L636.3,551.8 L634.3,552.0 L632.2,552.2 L630.2,552.1 L628.2,551.9 L626.1,551.8 L624.1,552.6 L622.0,552.5 L620.0,552.4 L618.0,552.4 L616.0,552.5 L614.0,552.9 L612.0,553.3 L610.0,553.7 L608.0,553.5 L606.0,553.9 L604.0,554.6 L602.0,554.9 L600.0,555.2 L598.0,554.3 L596.0,555.0 L594.0,554.5 L592.0,554.7 L590.0,554.3 L588.0,554.3 L586.0,555.3 L584.0,554.7 L582.0,554.4 L580.0,555.0 L578.0,554.3 L576.0,554.9 L574.0,554.6 L572.0,554.4 L570.0,554.8 L568.0,554.8 L566.0,555.3 L564.0,555.2 L562.0,555.0 L560.0,555.2 L558.0,554.9 L556.0,554.9 L554.0,554.3 L552.0,554.5 L550.0,555.2 L548.0,554.7 L546.0,554.9 L544.0,554.7 L542.0,554.6 L540.0,555.2 L538.0,554.5 L536.0,554.6 L534.0,555.1 L532.0,555.2 L530.0,555.1 L528.0,554.4 L526.0,555.3 L524.0,555.2 L522.0,555.0 L520.0,554.5 L518.0,554.6 L516.0,555.2 L514.0,555.1 L512.0,554.3 L510.0,554.4 L508.0,554.5 L506.0,554.5 L504.0,555.0 L502.0,555.3 L500.0,554.9 L498.0,555.0 L496.0,555.3 L494.0,554.3 L492.0,554.8 L490.0,554.5 L488.0,554.7 L486.0,554.8 L484.0,554.4 L482.0,554.9 L480.0,555.3 L478.0,555.0 L476.0,554.3 L474.0,555.1 L472.0,555.3 L470.0,554.3 L468.0,554.3 L466.0,554.4 L464.0,554.6 L462.0,554.8 L460.0,554.6 L458.0,554.4 L456.0,554.7 L454.0,555.0 L452.0,554.5 L450.0,554.6 L448.0,554.3 L446.0,554.5 L444.0,554.6 L442.0,554.6 L440.0,554.4 L438.0,555.2 L436.0,555.1 L434.0,554.8 L432.0,554.9 L430.0,555.0 L428.0,554.4 L426.0,555.1 L424.0,554.9 L422.0,555.1 L420.0,554.6 L418.0,554.9 L416.0,554.4 L414.0,555.2 L412.0,554.6 L410.0,554.6 L408.0,555.3 L406.0,554.7 L404.0,554.8 L402.0,554.5 L400.0,554.5 L398.0,555.0 L396.0,555.0 L394.0,554.4 L392.0,554.6 L390.0,554.5 L388.0,554.7 L386.0,554.6 L384.0,554.3 L382.0,554.5 L380.0,554.8 L378.0,555.0 L376.0,555.3 L374.0,554.9 L372.0,554.5 L370.0,555.1 L368.0,555.0 L366.0,554.3 L364.0,555.1 L362.0,554.4 L360.0,555.3 L358.0,554.8 L356.0,554.7 L354.0,555.0 L352.0,554.3 L350.0,554.7 L348.0,554.9 L346.0,555.2 L344.0,555.1 L342.0,555.0 L340.0,555.3 L338.0,554.7 L336.0,555.3 L334.0,554.3 L332.0,554.6 L330.0,555.2 L328.0,555.1 L326.0,554.7 L324.0,555.0 L322.0,554.3 L320.0,555.1 L318.0,555.3 L316.0,554.5 L314.0,555.1 L312.0,554.4 L310.0,554.5 L308.0,554.3 L306.0,554.9 L304.0,555.2 L302.0,554.3 L300.0,554.6 L298.0,555.1 L296.0,555.2 L294.0,554.3 L292.0,554.6 L290.0,555.0 L288.0,554.7 L286.0,554.5 L284.0,555.0 L282.0,554.9 L280.0,555.2 L278.0,554.4 L276.0,555.0 L274.0,554.6 L272.0,554.3 L270.0,554.7 L268.0,554.6 L266.0,554.5 L264.0,554.4 L262.0,554.3 L260.0,554.3 L258.0,555.0 L256.0,555.1 L254.0,555.3 L252.0,554.4 L250.0,554.4 L248.0,554.9 L246.0,554.6 L244.0,557.9 L242.0,557.2 L240.0,557.7 L238.0,557.7 L236.0,557.4 L234.0,557.3 L232.0,557.7 L230.0,557.7 L228.0,557.0 L226.0,557.3 L224.0,557.1 L222.0,557.9 L220.0,557.9 L218.0,557.8 L216.0,557.9 L214.0,557.4 L212.0,557.3 L210.0,557.7 L208.0,557.1 L206.0,557.2 L204.0,557.3 L202.0,557.0 L200.0,557.3 L198.0,557.5 L196.0,557.3 L194.0,557.6 L192.0,557.1 L190.0,557.7 L188.0,557.3 L186.0,557.9 L184.0,557.1 L182.0,557.0 L180.0,557.4 L178.0,557.3 L176.0,557.6 L174.0,557.7 L172.0,557.4 L170.0,557.8 L168.0,557.2 L166.0,557.5 L164.0,557.5 L162.0,557.1 L160.0,557.9 L158.0,557.2 L156.0,557.6 L154.0,557.2 L152.0,557.4 L150.0,557.6 L148.0,557.9 L146.0,557.2 L144.0,557.7 L142.0,557.1 L140.0,557.4 L138.0,557.2 L136.0,557.5 L134.0,558.0 L132.0,557.2 L130.0,558.0 L128.0,557.4 L126.0,557.7 L124.0,557.3 L122.0,557.1 L120.0,557.8 L118.0,557.9 L116.0,557.4 L114.0,557.1 L112.0,557.9 L110.0,557.2 L108.0,557.1 L106.0,557.7 L104.0,557.1 L102.0,557.3 L100.0,557.7 L98.0,557.0 L96.0,557.2 L94.0,557.3 L92.0,557.2 L90.0,557.2 L88.0,557.3 L86.0,557.9 L84.0,557.1 L82.0,557.0 L80.0,557.4 L78.0,557.4 L76.0,557.5 L74.0,557.1 L72.0,557.6 L70.0,557.3 L68.0,558.0 L66.0,557.2 L64.0,557.3 L62.0,557.1 L60.0,557.2 L58.0,557.8 L56.0,557.5 L54.0,557.9 L52.0,557.3Z" fill="#fbe0e0"/>
<line x1="181.5" y1="521.2" x2="181.5" y2="559.2" stroke="#222" stroke-width="1.1"/>
<line x1="181.5" y1="553.2" x2="181.5" y2="559.2" stroke="#111" stroke-width="1.6"/>
<line x1="181.5" y1="521.2" x2="181.5" y2="527.2" stroke="#111" stroke-width="1.6"/>
<line x1="310.9" y1="521.2" x2="310.9" y2="559.2" stroke="#222" stroke-width="1.1"/>
<line x1="310.9" y1="553.2" x2="310.9" y2="559.2" stroke="#111" stroke-width="1.6"/>
<line x1="310.9" y1="521.2" x2="310.9" y2="527.2" stroke="#111" stroke-width="1.6"/>
<line x1="440.7" y1="521.2" x2="440.7" y2="559.2" stroke="#222" stroke-width="1.1"/>
<line x1="440.7" y1="553.2" x2="440.7" y2="559.2" stroke="#111" stroke-width="1.6"/>
<line x1="440.7" y1="521.2" x2="440.7" y2="527.2" stroke="#111" stroke-width="1.6"/>
<line x1="570.0" y1="521.2" x2="570.0" y2="559.2" stroke="#222" stroke-width="1.1"/>
<line x1="570.0" y1="553.2" x2="570.0" y2="559.2" stroke="#111" stroke-width="1.6"/>
<line x1="570.0" y1="521.2" x2="570.0" y2="527.2" stroke="#111" stroke-width="1.6"/>
<rect x="52.0" y="521.2" width="645.5" height="38.0" fill="none" stroke="#111" stroke-width="1.6"/>
<rect x="697.5" y="524.4" width="4.5" height="29.200000000000045" fill="#fef3f3"/>
<rect x="48.0" y="524.4" width="4" height="31.899999999999977" fill="#fef5f5"/>
<path d="M51.1,525.0 L52.0,525.0 L54.0,525.7 L56.0,525.8 L58.0,525.4 L60.0,525.4 L62.0,525.4 L64.0,525.4 L66.0,525.0 L68.0,525.8 L70.0,525.2 L72.0,525.1 L74.1,525.0 L76.1,525.2 L78.1,525.7 L80.1,525.0 L82.1,525.0 L84.1,525.6 L86.1,525.1 L88.1,525.0 L90.1,525.5 L92.1,525.5 L94.1,525.4 L96.1,525.6 L98.1,525.0 L100.1,525.7 L102.1,525.6 L104.1,525.0 L106.1,525.1 L108.1,525.4 L110.1,525.4 L112.1,525.2 L114.1,525.1 L116.1,525.3 L118.2,525.1 L120.2,525.5 L122.2,525.7 L124.2,525.1 L126.2,525.5 L128.2,525.6 L130.2,525.1 L132.2,525.7 L134.2,525.8 L136.2,525.3 L138.2,525.3 L140.2,525.7 L142.2,525.4 L144.2,525.3 L146.2,525.8 L148.2,525.6 L150.2,525.3 L152.2,525.2 L154.2,525.3 L156.2,525.3 L158.2,525.8 L160.3,525.7 L162.3,525.8 L164.3,525.7 L166.3,525.7 L168.3,525.0 L170.3,525.4 L172.3,525.8 L174.3,525.8 L176.3,525.2 L178.3,525.3 L180.3,525.5 L182.3,525.3 L184.3,525.4 L186.3,525.0 L188.3,525.3 L190.3,525.4 L192.3,525.0 L194.3,525.1 L196.3,525.8 L198.3,525.6 L200.3,525.8 L202.3,525.5 L204.4,525.7 L206.4,525.7 L208.4,525.7 L210.4,525.0 L212.4,525.5 L214.4,525.2 L216.4,525.6 L218.4,525.2 L220.4,525.4 L222.4,525.8 L224.4,525.5 L226.4,525.2 L228.4,525.4 L230.4,525.3 L232.4,525.8 L234.4,525.2 L236.4,525.2 L238.4,525.5 L240.4,525.1 L242.4,525.5 L244.4,525.8 L246.5,525.4 L248.5,525.2 L250.5,525.4 L252.5,525.4 L254.5,525.1 L256.5,525.1 L258.5,525.1 L260.5,525.2 L262.5,525.3 L264.5,525.2 L266.5,525.2 L268.5,525.0 L270.5,525.4 L272.5,525.7 L274.5,525.5 L276.5,525.5 L278.5,525.5 L280.5,525.1 L282.5,525.6 L284.5,525.4 L286.5,525.4 L288.5,525.5 L290.6,525.4 L292.6,525.2 L294.6,525.2 L296.6,525.1 L298.6,525.4 L300.6,525.3 L302.6,525.5 L304.6,525.0 L306.6,525.3 L308.6,525.7 L310.6,525.2 L312.6,525.5 L314.6,525.4 L316.6,525.2 L318.6,525.8 L320.6,525.2 L322.6,525.6 L324.6,525.1 L326.6,525.0 L328.6,525.7 L330.6,525.3 L332.7,525.0 L334.7,525.3 L336.7,525.3 L338.7,525.6 L340.7,525.0 L342.7,525.2 L344.7,525.8 L346.7,525.6 L348.7,525.1 L350.7,525.3 L352.7,525.3 L354.7,525.6 L356.7,525.5 L358.7,525.7 L360.7,525.7 L362.7,525.4 L364.7,525.6 L366.7,525.6 L368.7,525.6 L370.7,525.4 L372.7,525.7 L374.8,525.6 L376.8,525.8 L378.8,525.1 L380.8,525.7 L382.8,525.0 L384.8,525.6 L386.8,525.5 L388.8,525.4 L390.8,525.8 L392.8,525.5 L394.8,525.3 L396.8,525.7 L398.8,525.7 L400.8,525.5 L402.8,525.3 L404.8,525.4 L406.8,525.4 L408.8,525.6 L410.8,525.2 L412.8,525.3 L414.8,525.4 L416.8,525.3 L418.9,525.2 L420.9,525.7 L422.9,525.7 L424.9,525.4 L426.9,525.3 L428.9,525.1 L430.9,525.2 L432.9,525.1 L434.9,525.5 L436.9,525.5 L438.9,525.0 L440.9,525.8 L442.9,525.2 L444.9,525.7 L446.9,525.7 L448.9,525.8 L450.9,525.1 L452.9,525.3 L454.9,525.8 L456.9,525.0 L458.9,525.0 L461.0,525.5 L463.0,525.4 L465.0,525.8 L467.0,525.6 L469.0,525.4 L471.0,525.8 L473.0,525.4 L475.0,525.4 L477.0,525.6 L479.0,525.3 L481.0,525.3 L483.0,525.5 L485.0,525.3 L487.0,525.8 L489.0,525.6 L491.0,525.4 L493.0,525.0 L495.0,525.3 L497.0,525.3 L499.0,525.5 L501.0,525.5 L503.0,525.7 L505.1,525.8 L507.1,525.4 L509.1,525.3 L511.1,525.5 L513.1,525.8 L515.1,525.3 L517.1,525.4 L519.1,525.7 L521.1,525.1 L523.1,525.2 L525.1,525.8 L527.1,525.7 L529.1,525.4 L531.1,525.0 L533.1,525.8 L535.1,525.6 L537.1,525.7 L539.1,525.8 L541.1,525.7 L543.1,525.3 L545.1,525.1 L547.2,525.2 L549.2,525.4 L551.2,525.4 L553.2,525.1 L555.2,525.1 L557.2,525.5 L559.2,525.5 L561.2,525.3 L563.2,525.8 L565.2,525.5 L567.2,525.0 L569.2,525.3 L571.2,525.7 L573.2,525.2 L575.2,525.6 L577.2,525.0 L579.2,525.2 L581.2,525.7 L583.2,525.5 L585.2,525.6 L587.2,525.1 L589.2,525.4 L591.3,525.4 L593.3,525.2 L595.3,525.5 L597.3,525.4 L599.3,525.8 L601.3,525.5 L603.3,525.3 L605.3,525.1 L607.3,525.1 L609.3,525.6 L611.3,525.0 L613.3,525.0 L615.3,525.1 L617.3,525.4 L619.3,525.7 L621.3,525.5 L623.3,525.7 L625.3,525.0 L627.3,525.0 L629.3,525.6 L631.3,525.2 L633.4,525.6 L635.4,525.3 L637.4,525.1 L639.4,525.2 L641.4,525.0 L643.4,525.8 L645.4,525.5 L647.4,525.3 L649.4,525.4 L651.4,525.3 L653.4,525.0 L655.4,525.8 L657.4,525.5 L659.4,525.8 L661.4,525.3 L663.4,525.5 L665.4,525.2 L667.4,525.0 L669.4,525.8 L671.4,525.7 L673.4,525.2 L675.4,525.8 L677.5,525.7 L679.5,525.2 L681.5,525.5 L683.5,525.8 L685.5,525.4 L687.5,525.8 L689.5,525.2 L691.5,525.3 L693.5,525.6 L695.5,525.1 L697.5,525.4 L698.4,525.4 L698.4,549.6 L697.5,549.6 L695.5,549.7 L693.4,549.5 L691.4,549.8 L689.3,549.2 L687.3,549.6 L685.3,549.9 L683.2,549.3 L681.2,549.2 L679.1,550.1 L677.1,549.5 L675.1,549.5 L673.0,549.9 L671.0,549.7 L668.9,550.2 L666.9,549.8 L664.9,549.5 L662.8,549.9 L660.8,550.0 L658.8,549.3 L656.7,550.2 L654.7,550.0 L652.6,550.3 L650.6,550.4 L648.6,550.3 L646.5,550.3 L644.5,550.4 L642.4,549.8 L640.4,549.7 L638.4,549.4 L636.3,549.6 L634.3,549.8 L632.2,550.0 L630.2,549.9 L628.2,549.7 L626.1,549.6 L624.1,550.4 L622.0,550.3 L620.0,550.2 L618.0,550.2 L616.0,550.3 L614.0,550.7 L612.0,551.1 L610.0,551.5 L608.0,551.3 L606.0,551.7 L604.0,552.4 L602.0,552.7 L600.0,553.0 L598.0,552.1 L596.0,552.8 L594.0,552.3 L592.0,552.5 L590.0,552.1 L588.0,552.1 L586.0,553.1 L584.0,552.5 L582.0,552.2 L580.0,552.8 L578.0,552.1 L576.0,552.7 L574.0,552.4 L572.0,552.2 L570.0,552.6 L568.0,552.6 L566.0,553.1 L564.0,553.0 L562.0,552.8 L560.0,553.0 L558.0,552.7 L556.0,552.7 L554.0,552.1 L552.0,552.3 L550.0,553.0 L548.0,552.5 L546.0,552.7 L544.0,552.5 L542.0,552.4 L540.0,553.0 L538.0,552.3 L536.0,552.4 L534.0,552.9 L532.0,553.0 L530.0,552.9 L528.0,552.2 L526.0,553.1 L524.0,553.0 L522.0,552.8 L520.0,552.3 L518.0,552.4 L516.0,553.0 L514.0,552.9 L512.0,552.1 L510.0,552.2 L508.0,552.3 L506.0,552.3 L504.0,552.8 L502.0,553.1 L500.0,552.7 L498.0,552.8 L496.0,553.1 L494.0,552.1 L492.0,552.6 L490.0,552.3 L488.0,552.5 L486.0,552.6 L484.0,552.2 L482.0,552.7 L480.0,553.1 L478.0,552.8 L476.0,552.1 L474.0,552.9 L472.0,553.1 L470.0,552.1 L468.0,552.1 L466.0,552.2 L464.0,552.4 L462.0,552.6 L460.0,552.4 L458.0,552.2 L456.0,552.5 L454.0,552.8 L452.0,552.3 L450.0,552.4 L448.0,552.1 L446.0,552.3 L444.0,552.4 L442.0,552.4 L440.0,552.2 L438.0,553.0 L436.0,552.9 L434.0,552.6 L432.0,552.7 L430.0,552.8 L428.0,552.2 L426.0,552.9 L424.0,552.7 L422.0,552.9 L420.0,552.4 L418.0,552.7 L416.0,552.2 L414.0,553.0 L412.0,552.4 L410.0,552.4 L408.0,553.1 L406.0,552.5 L404.0,552.6 L402.0,552.3 L400.0,552.3 L398.0,552.8 L396.0,552.8 L394.0,552.2 L392.0,552.4 L390.0,552.3 L388.0,552.5 L386.0,552.4 L384.0,552.1 L382.0,552.3 L380.0,552.6 L378.0,552.8 L376.0,553.1 L374.0,552.7 L372.0,552.3 L370.0,552.9 L368.0,552.8 L366.0,552.1 L364.0,552.9 L362.0,552.2 L360.0,553.1 L358.0,552.6 L356.0,552.5 L354.0,552.8 L352.0,552.1 L350.0,552.5 L348.0,552.7 L346.0,553.0 L344.0,552.9 L342.0,552.8 L340.0,553.1 L338.0,552.5 L336.0,553.1 L334.0,552.1 L332.0,552.4 L330.0,553.0 L328.0,552.9 L326.0,552.5 L324.0,552.8 L322.0,552.1 L320.0,552.9 L318.0,553.1 L316.0,552.3 L314.0,552.9 L312.0,552.2 L310.0,552.3 L308.0,552.1 L306.0,552.7 L304.0,553.0 L302.0,552.1 L300.0,552.4 L298.0,552.9 L296.0,553.0 L294.0,552.1 L292.0,552.4 L290.0,552.8 L288.0,552.5 L286.0,552.3 L284.0,552.8 L282.0,552.7 L280.0,553.0 L278.0,552.2 L276.0,552.8 L274.0,552.4 L272.0,552.1 L270.0,552.5 L268.0,552.4 L266.0,552.3 L264.0,552.2 L262.0,552.1 L260.0,552.1 L258.0,552.8 L256.0,552.9 L254.0,553.1 L252.0,552.2 L250.0,552.2 L248.0,552.7 L246.0,552.4 L244.0,555.7 L242.0,555.0 L240.0,555.5 L238.0,555.5 L236.0,555.2 L234.0,555.1 L232.0,555.5 L230.0,555.5 L228.0,554.8 L226.0,555.1 L224.0,554.9 L222.0,555.7 L220.0,555.7 L218.0,555.6 L216.0,555.7 L214.0,555.2 L212.0,555.1 L210.0,555.5 L208.0,554.9 L206.0,555.0 L204.0,555.1 L202.0,554.8 L200.0,555.1 L198.0,555.3 L196.0,555.1 L194.0,555.4 L192.0,554.9 L190.0,555.5 L188.0,555.1 L186.0,555.7 L184.0,554.9 L182.0,554.8 L180.0,555.2 L178.0,555.1 L176.0,555.4 L174.0,555.5 L172.0,555.2 L170.0,555.6 L168.0,555.0 L166.0,555.3 L164.0,555.3 L162.0,554.9 L160.0,555.7 L158.0,555.0 L156.0,555.4 L154.0,555.0 L152.0,555.2 L150.0,555.4 L148.0,555.7 L146.0,555.0 L144.0,555.5 L142.0,554.9 L140.0,555.2 L138.0,555.0 L136.0,555.3 L134.0,555.8 L132.0,555.0 L130.0,555.8 L128.0,555.2 L126.0,555.5 L124.0,555.1 L122.0,554.9 L120.0,555.6 L118.0,555.7 L116.0,555.2 L114.0,554.9 L112.0,555.7 L110.0,555.0 L108.0,554.9 L106.0,555.5 L104.0,554.9 L102.0,555.1 L100.0,555.5 L98.0,554.8 L96.0,555.0 L94.0,555.1 L92.0,555.0 L90.0,555.0 L88.0,555.1 L86.0,555.7 L84.0,554.9 L82.0,554.8 L80.0,555.2 L78.0,555.2 L76.0,555.3 L74.0,554.9 L72.0,555.4 L70.0,555.1 L68.0,555.8 L66.0,555.0 L64.0,555.1 L62.0,554.9 L60.0,555.0 L58.0,555.6 L56.0,555.3 L54.0,555.7 L52.0,555.1 L51.1,555.1Z" fill="#fa0000"/>
<path d="M51.1,525.0 L52.0,525.0 L54.0,525.7 L56.0,525.8 L58.0,525.4 L60.0,525.4 L62.0,525.4 L64.0,525.4 L66.0,525.0 L68.0,525.8 L70.0,525.2 L72.0,525.1 L74.1,525.0 L76.1,525.2 L78.1,525.7 L80.1,525.0 L82.1,525.0 L84.1,525.6 L86.1,525.1 L88.1,525.0 L90.1,525.5 L92.1,525.5 L94.1,525.4 L96.1,525.6 L98.1,525.0 L100.1,525.7 L102.1,525.6 L104.1,525.0 L106.1,525.1 L108.1,525.4 L110.1,525.4 L112.1,525.2 L114.1,525.1 L116.1,525.3 L118.2,525.1 L120.2,525.5 L122.2,525.7 L124.2,525.1 L126.2,525.5 L128.2,525.6 L130.2,525.1 L132.2,525.7 L134.2,525.8 L136.2,525.3 L138.2,525.3 L140.2,525.7 L142.2,525.4 L144.2,525.3 L146.2,525.8 L148.2,525.6 L150.2,525.3 L152.2,525.2 L154.2,525.3 L156.2,525.3 L158.2,525.8 L160.3,525.7 L162.3,525.8 L164.3,525.7 L166.3,525.7 L168.3,525.0 L170.3,525.4 L172.3,525.8 L174.3,525.8 L176.3,525.2 L178.3,525.3 L180.3,525.5 L182.3,525.3 L184.3,525.4 L186.3,525.0 L188.3,525.3 L190.3,525.4 L192.3,525.0 L194.3,525.1 L196.3,525.8 L198.3,525.6 L200.3,525.8 L202.3,525.5 L204.4,525.7 L206.4,525.7 L208.4,525.7 L210.4,525.0 L212.4,525.5 L214.4,525.2 L216.4,525.6 L218.4,525.2 L220.4,525.4 L222.4,525.8 L224.4,525.5 L226.4,525.2 L228.4,525.4 L230.4,525.3 L232.4,525.8 L234.4,525.2 L236.4,525.2 L238.4,525.5 L240.4,525.1 L242.4,525.5 L244.4,525.8 L246.5,525.4 L248.5,525.2 L250.5,525.4 L252.5,525.4 L254.5,525.1 L256.5,525.1 L258.5,525.1 L260.5,525.2 L262.5,525.3 L264.5,525.2 L266.5,525.2 L268.5,525.0 L270.5,525.4 L272.5,525.7 L274.5,525.5 L276.5,525.5 L278.5,525.5 L280.5,525.1 L282.5,525.6 L284.5,525.4 L286.5,525.4 L288.5,525.5 L290.6,525.4 L292.6,525.2 L294.6,525.2 L296.6,525.1 L298.6,525.4 L300.6,525.3 L302.6,525.5 L304.6,525.0 L306.6,525.3 L308.6,525.7 L310.6,525.2 L312.6,525.5 L314.6,525.4 L316.6,525.2 L318.6,525.8 L320.6,525.2 L322.6,525.6 L324.6,525.1 L326.6,525.0 L328.6,525.7 L330.6,525.3 L332.7,525.0 L334.7,525.3 L336.7,525.3 L338.7,525.6 L340.7,525.0 L342.7,525.2 L344.7,525.8 L346.7,525.6 L348.7,525.1 L350.7,525.3 L352.7,525.3 L354.7,525.6 L356.7,525.5 L358.7,525.7 L360.7,525.7 L362.7,525.4 L364.7,525.6 L366.7,525.6 L368.7,525.6 L370.7,525.4 L372.7,525.7 L374.8,525.6 L376.8,525.8 L378.8,525.1 L380.8,525.7 L382.8,525.0 L384.8,525.6 L386.8,525.5 L388.8,525.4 L390.8,525.8 L392.8,525.5 L394.8,525.3 L396.8,525.7 L398.8,525.7 L400.8,525.5 L402.8,525.3 L404.8,525.4 L406.8,525.4 L408.8,525.6 L410.8,525.2 L412.8,525.3 L414.8,525.4 L416.8,525.3 L418.9,525.2 L420.9,525.7 L422.9,525.7 L424.9,525.4 L426.9,525.3 L428.9,525.1 L430.9,525.2 L432.9,525.1 L434.9,525.5 L436.9,525.5 L438.9,525.0 L440.9,525.8 L442.9,525.2 L444.9,525.7 L446.9,525.7 L448.9,525.8 L450.9,525.1 L452.9,525.3 L454.9,525.8 L456.9,525.0 L458.9,525.0 L461.0,525.5 L463.0,525.4 L465.0,525.8 L467.0,525.6 L469.0,525.4 L471.0,525.8 L473.0,525.4 L475.0,525.4 L477.0,525.6 L479.0,525.3 L481.0,525.3 L483.0,525.5 L485.0,525.3 L487.0,525.8 L489.0,525.6 L491.0,525.4 L493.0,525.0 L495.0,525.3 L497.0,525.3 L499.0,525.5 L501.0,525.5 L503.0,525.7 L505.1,525.8 L507.1,525.4 L509.1,525.3 L511.1,525.5 L513.1,525.8 L515.1,525.3 L517.1,525.4 L519.1,525.7 L521.1,525.1 L523.1,525.2 L525.1,525.8 L527.1,525.7 L529.1,525.4 L531.1,525.0 L533.1,525.8 L535.1,525.6 L537.1,525.7 L539.1,525.8 L541.1,525.7 L543.1,525.3 L545.1,525.1 L547.2,525.2 L549.2,525.4 L551.2,525.4 L553.2,525.1 L555.2,525.1 L557.2,525.5 L559.2,525.5 L561.2,525.3 L563.2,525.8 L565.2,525.5 L567.2,525.0 L569.2,525.3 L571.2,525.7 L573.2,525.2 L575.2,525.6 L577.2,525.0 L579.2,525.2 L581.2,525.7 L583.2,525.5 L585.2,525.6 L587.2,525.1 L589.2,525.4 L591.3,525.4 L593.3,525.2 L595.3,525.5 L597.3,525.4 L599.3,525.8 L601.3,525.5 L603.3,525.3 L605.3,525.1 L607.3,525.1 L609.3,525.6 L611.3,525.0 L613.3,525.0 L615.3,525.1 L617.3,525.4 L619.3,525.7 L621.3,525.5 L623.3,525.7 L625.3,525.0 L627.3,525.0 L629.3,525.6 L631.3,525.2 L633.4,525.6 L635.4,525.3 L637.4,525.1 L639.4,525.2 L641.4,525.0 L643.4,525.8 L645.4,525.5 L647.4,525.3 L649.4,525.4 L651.4,525.3 L653.4,525.0 L655.4,525.8 L657.4,525.5 L659.4,525.8 L661.4,525.3 L663.4,525.5 L665.4,525.2 L667.4,525.0 L669.4,525.8 L671.4,525.7 L673.4,525.2 L675.4,525.8 L677.5,525.7 L679.5,525.2 L681.5,525.5 L683.5,525.8 L685.5,525.4 L687.5,525.8 L689.5,525.2 L691.5,525.3 L693.5,525.6 L695.5,525.1 L697.5,525.4 L698.4,525.4" fill="none" stroke="#c22020" stroke-width="1.8"/>
<path d="M51.1,555.1 L52.0,555.1 L54.0,555.7 L56.0,555.3 L58.0,555.6 L60.0,555.0 L62.0,554.9 L64.0,555.1 L66.0,555.0 L68.0,555.8 L70.0,555.1 L72.0,555.4 L74.0,554.9 L76.0,555.3 L78.0,555.2 L80.0,555.2 L82.0,554.8 L84.0,554.9 L86.0,555.7 L88.0,555.1 L90.0,555.0 L92.0,555.0 L94.0,555.1 L96.0,555.0 L98.0,554.8 L100.0,555.5 L102.0,555.1 L104.0,554.9 L106.0,555.5 L108.0,554.9 L110.0,555.0 L112.0,555.7 L114.0,554.9 L116.0,555.2 L118.0,555.7 L120.0,555.6 L122.0,554.9 L124.0,555.1 L126.0,555.5 L128.0,555.2 L130.0,555.8 L132.0,555.0 L134.0,555.8 L136.0,555.3 L138.0,555.0 L140.0,555.2 L142.0,554.9 L144.0,555.5 L146.0,555.0 L148.0,555.7 L150.0,555.4 L152.0,555.2 L154.0,555.0 L156.0,555.4 L158.0,555.0 L160.0,555.7 L162.0,554.9 L164.0,555.3 L166.0,555.3 L168.0,555.0 L170.0,555.6 L172.0,555.2 L174.0,555.5 L176.0,555.4 L178.0,555.1 L180.0,555.2 L182.0,554.8 L184.0,554.9 L186.0,555.7 L188.0,555.1 L190.0,555.5 L192.0,554.9 L194.0,555.4 L196.0,555.1 L198.0,555.3 L200.0,555.1 L202.0,554.8 L204.0,555.1 L206.0,555.0 L208.0,554.9 L210.0,555.5 L212.0,555.1 L214.0,555.2 L216.0,555.7 L218.0,555.6 L220.0,555.7 L222.0,555.7 L224.0,554.9 L226.0,555.1 L228.0,554.8 L230.0,555.5 L232.0,555.5 L234.0,555.1 L236.0,555.2 L238.0,555.5 L240.0,555.5 L242.0,555.0 L244.0,555.7 L246.0,552.4 L248.0,552.7 L250.0,552.2 L252.0,552.2 L254.0,553.1 L256.0,552.9 L258.0,552.8 L260.0,552.1 L262.0,552.1 L264.0,552.2 L266.0,552.3 L268.0,552.4 L270.0,552.5 L272.0,552.1 L274.0,552.4 L276.0,552.8 L278.0,552.2 L280.0,553.0 L282.0,552.7 L284.0,552.8 L286.0,552.3 L288.0,552.5 L290.0,552.8 L292.0,552.4 L294.0,552.1 L296.0,553.0 L298.0,552.9 L300.0,552.4 L302.0,552.1 L304.0,553.0 L306.0,552.7 L308.0,552.1 L310.0,552.3 L312.0,552.2 L314.0,552.9 L316.0,552.3 L318.0,553.1 L320.0,552.9 L322.0,552.1 L324.0,552.8 L326.0,552.5 L328.0,552.9 L330.0,553.0 L332.0,552.4 L334.0,552.1 L336.0,553.1 L338.0,552.5 L340.0,553.1 L342.0,552.8 L344.0,552.9 L346.0,553.0 L348.0,552.7 L350.0,552.5 L352.0,552.1 L354.0,552.8 L356.0,552.5 L358.0,552.6 L360.0,553.1 L362.0,552.2 L364.0,552.9 L366.0,552.1 L368.0,552.8 L370.0,552.9 L372.0,552.3 L374.0,552.7 L376.0,553.1 L378.0,552.8 L380.0,552.6 L382.0,552.3 L384.0,552.1 L386.0,552.4 L388.0,552.5 L390.0,552.3 L392.0,552.4 L394.0,552.2 L396.0,552.8 L398.0,552.8 L400.0,552.3 L402.0,552.3 L404.0,552.6 L406.0,552.5 L408.0,553.1 L410.0,552.4 L412.0,552.4 L414.0,553.0 L416.0,552.2 L418.0,552.7 L420.0,552.4 L422.0,552.9 L424.0,552.7 L426.0,552.9 L428.0,552.2 L430.0,552.8 L432.0,552.7 L434.0,552.6 L436.0,552.9 L438.0,553.0 L440.0,552.2 L442.0,552.4 L444.0,552.4 L446.0,552.3 L448.0,552.1 L450.0,552.4 L452.0,552.3 L454.0,552.8 L456.0,552.5 L458.0,552.2 L460.0,552.4 L462.0,552.6 L464.0,552.4 L466.0,552.2 L468.0,552.1 L470.0,552.1 L472.0,553.1 L474.0,552.9 L476.0,552.1 L478.0,552.8 L480.0,553.1 L482.0,552.7 L484.0,552.2 L486.0,552.6 L488.0,552.5 L490.0,552.3 L492.0,552.6 L494.0,552.1 L496.0,553.1 L498.0,552.8 L500.0,552.7 L502.0,553.1 L504.0,552.8 L506.0,552.3 L508.0,552.3 L510.0,552.2 L512.0,552.1 L514.0,552.9 L516.0,553.0 L518.0,552.4 L520.0,552.3 L522.0,552.8 L524.0,553.0 L526.0,553.1 L528.0,552.2 L530.0,552.9 L532.0,553.0 L534.0,552.9 L536.0,552.4 L538.0,552.3 L540.0,553.0 L542.0,552.4 L544.0,552.5 L546.0,552.7 L548.0,552.5 L550.0,553.0 L552.0,552.3 L554.0,552.1 L556.0,552.7 L558.0,552.7 L560.0,553.0 L562.0,552.8 L564.0,553.0 L566.0,553.1 L568.0,552.6 L570.0,552.6 L572.0,552.2 L574.0,552.4 L576.0,552.7 L578.0,552.1 L580.0,552.8 L582.0,552.2 L584.0,552.5 L586.0,553.1 L588.0,552.1 L590.0,552.1 L592.0,552.5 L594.0,552.3 L596.0,552.8 L598.0,552.1 L600.0,553.0 L602.0,552.7 L604.0,552.4 L606.0,551.7 L608.0,551.3 L610.0,551.5 L612.0,551.1 L614.0,550.7 L616.0,550.3 L618.0,550.2 L620.0,550.2 L622.0,550.3 L624.1,550.4 L626.1,549.6 L628.2,549.7 L630.2,549.9 L632.2,550.0 L634.3,549.8 L636.3,549.6 L638.4,549.4 L640.4,549.7 L642.4,549.8 L644.5,550.4 L646.5,550.3 L648.6,550.3 L650.6,550.4 L652.6,550.3 L654.7,550.0 L656.7,550.2 L658.8,549.3 L660.8,550.0 L662.8,549.9 L664.9,549.5 L666.9,549.8 L668.9,550.2 L671.0,549.7 L673.0,549.9 L675.1,549.5 L677.1,549.5 L679.1,550.1 L681.2,549.2 L683.2,549.3 L685.3,549.9 L687.3,549.6 L689.3,549.2 L691.4,549.8 L693.4,549.5 L695.5,549.7 L697.5,549.6 L698.4,549.6" fill="none" stroke="#c22020" stroke-width="1.8"/>
<rect x="423.0" y="72.0" width="251.8" height="30.799999999999997" fill="#fff" stroke="#111" stroke-width="1.5"/>
<path d="M431.2,97.6 L451,97.6 L451,83.2 L470.7,83.2" fill="none" stroke="#b8323a" stroke-width="1.5"/>
<text x="515.2" y="94.5" font-family="Liberation Sans, sans-serif" font-size="21.5" fill="#363636" textLength="152" lengthAdjust="spacing"><tspan dy="1.61">&lt;</tspan><tspan dy="-1.61">Voltage 4 (V)</tspan><tspan dy="1.61">&gt;</tspan></text>
<rect x="423.0" y="225.0" width="251.8" height="31.5" fill="#fff" stroke="#111" stroke-width="1.5"/>
<path d="M431.2,250.6 L451,250.6 L451,236.2 L470.7,236.2" fill="none" stroke="#b8323a" stroke-width="1.5"/>
<text x="515.2" y="247.9" font-family="Liberation Sans, sans-serif" font-size="21.5" fill="#363636" textLength="152" lengthAdjust="spacing"><tspan dy="1.61">&lt;</tspan><tspan dy="-1.61">Voltage 3 (V)</tspan><tspan dy="1.61">&gt;</tspan></text>
<rect x="423.0" y="378.9" width="251.8" height="30.900000000000034" fill="#fff" stroke="#111" stroke-width="1.5"/>
<path d="M431.2,404.5 L451,404.5 L451,390.1 L470.7,390.1" fill="none" stroke="#b8323a" stroke-width="1.5"/>
<text x="515.2" y="400.8" font-family="Liberation Sans, sans-serif" font-size="21.5" fill="#363636" textLength="152" lengthAdjust="spacing"><tspan dy="1.61">&lt;</tspan><tspan dy="-1.61">Voltage 2 (V)</tspan><tspan dy="1.61">&gt;</tspan></text>
<rect x="423.0" y="532.2" width="251.8" height="31.5" fill="#fff" stroke="#111" stroke-width="1.5"/>
<path d="M431.2,557.8 L451,557.8 L451,543.4 L470.7,543.4" fill="none" stroke="#b8323a" stroke-width="1.5"/>
<text x="515.2" y="553.6" font-family="Liberation Sans, sans-serif" font-size="21.5" fill="#363636" textLength="152" lengthAdjust="spacing"><tspan dy="1.61">&lt;</tspan><tspan dy="-1.61">Voltage 1 (V)</tspan><tspan dy="1.61">&gt;</tspan></text>
<text x="292.9" y="49.4" font-family="Liberation Sans, sans-serif" font-size="24.5" fill="#141414" textLength="164.2" lengthAdjust="spacing"><tspan dy="1.84">&lt;</tspan><tspan dy="-1.84">Voltage (V)</tspan><tspan dy="1.84">&gt;</tspan></text>
<text x="292.9" y="200.8" font-family="Liberation Sans, sans-serif" font-size="24.5" fill="#141414" textLength="164.2" lengthAdjust="spacing"><tspan dy="1.84">&lt;</tspan><tspan dy="-1.84">Voltage (V)</tspan><tspan dy="1.84">&gt;</tspan></text>
<text x="292.9" y="353.9" font-family="Liberation Sans, sans-serif" font-size="24.5" fill="#141414" textLength="164.2" lengthAdjust="spacing"><tspan dy="1.84">&lt;</tspan><tspan dy="-1.84">Voltage (V)</tspan><tspan dy="1.84">&gt;</tspan></text>
<text x="292.9" y="507.6" font-family="Liberation Sans, sans-serif" font-size="24.5" fill="#141414" textLength="164.2" lengthAdjust="spacing"><tspan dy="1.84">&lt;</tspan><tspan dy="-1.84">Voltage (V)</tspan><tspan dy="1.84">&gt;</tspan></text>
<text x="48.2" y="78.4" font-family="Liberation Sans, sans-serif" font-size="22.5" fill="#303030" text-anchor="end">4</text>
<text x="48.2" y="155.4" font-family="Liberation Sans, sans-serif" font-size="22.5" fill="#303030" text-anchor="end">3.5</text>
<text x="48.2" y="231.4" font-family="Liberation Sans, sans-serif" font-size="22.5" fill="#303030" text-anchor="end">4</text>
<text x="48.2" y="266.0" font-family="Liberation Sans, sans-serif" font-size="22.5" fill="#303030" text-anchor="end">3.5</text>
<text x="48.2" y="300.4" font-family="Liberation Sans, sans-serif" font-size="22.5" fill="#303030" text-anchor="end">3</text>
<text x="48.2" y="385.2" font-family="Liberation Sans, sans-serif" font-size="22.5" fill="#303030" text-anchor="end">4</text>
<text x="48.2" y="427.4" font-family="Liberation Sans, sans-serif" font-size="22.5" fill="#303030" text-anchor="end">3.8</text>
<text x="48.2" y="533.0" font-family="Liberation Sans, sans-serif" font-size="22.5" fill="#303030" text-anchor="end">4</text>
<text x="48.2" y="567.6" font-family="Liberation Sans, sans-serif" font-size="22.5" fill="#303030" text-anchor="end">3.5</text>
<text x="52.3" y="584.4" font-family="Liberation Sans, sans-serif" font-size="22.5" fill="#303030" text-anchor="middle">0</text>
<text x="181.5" y="584.4" font-family="Liberation Sans, sans-serif" font-size="22.5" fill="#303030" text-anchor="middle">2</text>
<text x="311.0" y="584.4" font-family="Liberation Sans, sans-serif" font-size="22.5" fill="#303030" text-anchor="middle">4</text>
<text x="440.0" y="584.4" font-family="Liberation Sans, sans-serif" font-size="22.5" fill="#303030" text-anchor="middle">6</text>
<text x="569.3" y="584.4" font-family="Liberation Sans, sans-serif" font-size="22.5" fill="#303030" text-anchor="middle">8</text>
<path d="M648.9,606.3 L659.7,616.7 M659.7,606.3 L648.9,616.7" stroke="#8a8a8a" stroke-width="1.3" fill="none"/><text x="664.9" y="617.1" font-family="Liberation Sans, sans-serif" font-size="21.5" fill="#303030">10</text><text x="688.2" y="607.0" font-family="Liberation Sans, sans-serif" font-size="17.9" fill="#303030">6</text>
<line x1="933.7" y1="59.8" x2="933.7" y2="558.7" stroke="#a6a6a6" stroke-width="1.6"/>
<line x1="1063.4" y1="59.8" x2="1063.4" y2="558.7" stroke="#a6a6a6" stroke-width="1.6"/>
<line x1="1192.8" y1="59.8" x2="1192.8" y2="558.7" stroke="#a6a6a6" stroke-width="1.6"/>
<line x1="1324.3" y1="59.8" x2="1324.3" y2="558.7" stroke="#a6a6a6" stroke-width="1.6"/>
<line x1="805.0" y1="553.2" x2="1451.3" y2="553.2" stroke="#a6a6a6" stroke-width="1.6"/>
<line x1="805.0" y1="463.3" x2="1451.3" y2="463.3" stroke="#a6a6a6" stroke-width="1.6"/>
<line x1="805.0" y1="373.5" x2="1451.3" y2="373.5" stroke="#a6a6a6" stroke-width="1.6"/>
<line x1="805.0" y1="283.6" x2="1451.3" y2="283.6" stroke="#a6a6a6" stroke-width="1.6"/>
<line x1="805.0" y1="193.8" x2="1451.3" y2="193.8" stroke="#a6a6a6" stroke-width="1.6"/>
<line x1="805.0" y1="103.9" x2="1451.3" y2="103.9" stroke="#a6a6a6" stroke-width="1.6"/>
<line x1="933.7" y1="552.7" x2="933.7" y2="558.7" stroke="#111" stroke-width="1.6"/>
<line x1="933.7" y1="59.8" x2="933.7" y2="65.8" stroke="#111" stroke-width="1.6"/>
<line x1="1063.4" y1="552.7" x2="1063.4" y2="558.7" stroke="#111" stroke-width="1.6"/>
<line x1="1063.4" y1="59.8" x2="1063.4" y2="65.8" stroke="#111" stroke-width="1.6"/>
<line x1="1192.8" y1="552.7" x2="1192.8" y2="558.7" stroke="#111" stroke-width="1.6"/>
<line x1="1192.8" y1="59.8" x2="1192.8" y2="65.8" stroke="#111" stroke-width="1.6"/>
<line x1="1324.3" y1="552.7" x2="1324.3" y2="558.7" stroke="#111" stroke-width="1.6"/>
<line x1="1324.3" y1="59.8" x2="1324.3" y2="65.8" stroke="#111" stroke-width="1.6"/>
<line x1="805.0" y1="553.2" x2="811.0" y2="553.2" stroke="#111" stroke-width="1.6"/>
<line x1="1445.3" y1="553.2" x2="1451.3" y2="553.2" stroke="#111" stroke-width="1.6"/>
<line x1="805.0" y1="463.3" x2="811.0" y2="463.3" stroke="#111" stroke-width="1.6"/>
<line x1="1445.3" y1="463.3" x2="1451.3" y2="463.3" stroke="#111" stroke-width="1.6"/>
<line x1="805.0" y1="373.5" x2="811.0" y2="373.5" stroke="#111" stroke-width="1.6"/>
<line x1="1445.3" y1="373.5" x2="1451.3" y2="373.5" stroke="#111" stroke-width="1.6"/>
<line x1="805.0" y1="283.6" x2="811.0" y2="283.6" stroke="#111" stroke-width="1.6"/>
<line x1="1445.3" y1="283.6" x2="1451.3" y2="283.6" stroke="#111" stroke-width="1.6"/>
<line x1="805.0" y1="193.8" x2="811.0" y2="193.8" stroke="#111" stroke-width="1.6"/>
<line x1="1445.3" y1="193.8" x2="1451.3" y2="193.8" stroke="#111" stroke-width="1.6"/>
<line x1="805.0" y1="103.9" x2="811.0" y2="103.9" stroke="#111" stroke-width="1.6"/>
<line x1="1445.3" y1="103.9" x2="1451.3" y2="103.9" stroke="#111" stroke-width="1.6"/>
<path d="M805.0,340.1 L811.2,341.8 L819.0,344.0 L828.1,346.5 L838.4,349.4 L849.5,352.5 L861.3,355.8 L873.6,359.2 L886.0,362.7 L898.5,366.2 L910.8,369.7 L922.6,373.1 L933.8,376.4 L944.6,379.6 L955.3,382.8 L966.1,386.0 L976.9,389.3 L987.7,392.6 L998.5,395.9 L1009.3,399.3 L1020.1,402.6 L1030.9,406.0 L1041.7,409.3 L1052.5,412.7 L1063.3,416.1 L1074.1,419.5 L1084.8,422.9 L1095.6,426.2 L1106.4,429.6 L1117.1,433.0 L1127.9,436.5 L1138.6,439.9 L1149.4,443.4 L1160.2,446.9 L1171.0,450.4 L1181.8,453.9 L1192.7,457.5 L1203.6,461.1 L1214.6,464.8 L1225.6,468.5 L1236.6,472.2 L1247.6,476.0 L1258.7,479.7 L1269.7,483.5 L1280.7,487.3 L1291.7,491.1 L1302.6,495.0 L1313.5,498.8 L1324.3,502.6 L1335.4,506.6 L1347.2,510.8 L1359.4,515.2 L1371.7,519.7 L1384.0,524.2 L1396.0,528.6 L1407.6,532.9 L1418.5,536.9 L1428.6,540.6 L1437.5,543.9 L1445.2,546.8 L1451.3,549.0" fill="none" stroke="#fbe8de" stroke-width="5" stroke-opacity="0.7"/>
<path d="M805.0,256.3 L811.2,257.9 L819.0,259.9 L828.1,262.3 L838.4,264.9 L849.5,267.8 L861.3,270.8 L873.6,274.0 L886.0,277.2 L898.5,280.4 L910.8,283.6 L922.6,286.7 L933.8,289.7 L944.6,292.6 L955.3,295.4 L966.1,298.3 L976.9,301.2 L987.7,304.2 L998.5,307.1 L1009.3,310.0 L1020.1,313.0 L1030.9,316.0 L1041.7,319.0 L1052.5,322.0 L1063.3,325.0 L1074.1,328.0 L1084.8,331.1 L1095.6,334.2 L1106.4,337.3 L1117.1,340.4 L1127.9,343.5 L1138.6,346.7 L1149.4,349.8 L1160.2,353.0 L1171.0,356.1 L1181.8,359.3 L1192.7,362.5 L1203.6,365.7 L1214.6,368.9 L1225.6,372.1 L1236.6,375.4 L1247.6,378.6 L1258.7,381.9 L1269.7,385.2 L1280.7,388.4 L1291.7,391.7 L1302.6,395.0 L1313.5,398.2 L1324.3,401.5 L1335.4,404.9 L1347.2,408.5 L1359.4,412.2 L1371.7,416.0 L1384.0,419.8 L1396.0,423.5 L1407.6,427.1 L1418.5,430.5 L1428.6,433.7 L1437.5,436.4 L1445.2,438.8 L1451.3,440.7" fill="none" stroke="#f4eaf8" stroke-width="5" stroke-opacity="0.7"/>
<path d="M805.0,172.0 L811.2,173.5 L819.0,175.5 L828.1,177.7 L838.4,180.2 L849.5,183.0 L861.3,185.9 L873.6,188.9 L886.0,192.0 L898.5,195.1 L910.8,198.1 L922.6,201.0 L933.8,203.8 L944.6,206.4 L955.3,209.1 L966.1,211.7 L976.9,214.3 L987.7,216.9 L998.5,219.6 L1009.3,222.2 L1020.1,224.8 L1030.9,227.5 L1041.7,230.2 L1052.5,232.9 L1063.3,235.6 L1074.1,238.4 L1084.8,241.1 L1095.6,243.9 L1106.4,246.7 L1117.1,249.6 L1127.9,252.4 L1138.6,255.3 L1149.4,258.1 L1160.2,261.0 L1171.0,263.9 L1181.8,266.8 L1192.7,269.7 L1203.6,272.6 L1214.6,275.6 L1225.6,278.6 L1236.6,281.5 L1247.6,284.5 L1258.7,287.6 L1269.7,290.6 L1280.7,293.6 L1291.7,296.5 L1302.6,299.5 L1313.5,302.4 L1324.3,305.3 L1335.4,308.3 L1347.2,311.4 L1359.4,314.5 L1371.7,317.8 L1384.0,321.0 L1396.0,324.1 L1407.6,327.1 L1418.5,330.0 L1428.6,332.6 L1437.5,334.9 L1445.2,336.9 L1451.3,338.5" fill="none" stroke="#fbf4c8" stroke-width="5" stroke-opacity="0.7"/>
<path d="M805.0,340.1 L811.2,341.8 L819.0,344.0 L828.1,346.5 L838.4,349.4 L849.5,352.5 L861.3,355.8 L873.6,359.2 L886.0,362.7 L898.5,366.2 L910.8,369.7 L922.6,373.1 L933.8,376.4 L944.6,379.6 L955.3,382.8 L966.1,386.0 L976.9,389.3 L987.7,392.6 L998.5,395.9 L1009.3,399.3 L1020.1,402.6 L1030.9,406.0 L1041.7,409.3 L1052.5,412.7 L1063.3,416.1 L1074.1,419.5 L1084.8,422.9 L1095.6,426.2 L1106.4,429.6 L1117.1,433.0 L1127.9,436.5 L1138.6,439.9 L1149.4,443.4 L1160.2,446.9 L1171.0,450.4 L1181.8,453.9 L1192.7,457.5 L1203.6,461.1 L1214.6,464.8 L1225.6,468.5 L1236.6,472.2 L1247.6,476.0 L1258.7,479.7 L1269.7,483.5 L1280.7,487.3 L1291.7,491.1 L1302.6,495.0 L1313.5,498.8 L1324.3,502.6 L1335.4,506.6 L1347.2,510.8 L1359.4,515.2 L1371.7,519.7 L1384.0,524.2 L1396.0,528.6 L1407.6,532.9 L1418.5,536.9 L1428.6,540.6 L1437.5,543.9 L1445.2,546.8 L1451.3,549.0" fill="none" stroke="#b46a48" stroke-width="1.8"/>
<path d="M805.0,256.3 L811.2,257.9 L819.0,259.9 L828.1,262.3 L838.4,264.9 L849.5,267.8 L861.3,270.8 L873.6,274.0 L886.0,277.2 L898.5,280.4 L910.8,283.6 L922.6,286.7 L933.8,289.7 L944.6,292.6 L955.3,295.4 L966.1,298.3 L976.9,301.2 L987.7,304.2 L998.5,307.1 L1009.3,310.0 L1020.1,313.0 L1030.9,316.0 L1041.7,319.0 L1052.5,322.0 L1063.3,325.0 L1074.1,328.0 L1084.8,331.1 L1095.6,334.2 L1106.4,337.3 L1117.1,340.4 L1127.9,343.5 L1138.6,346.7 L1149.4,349.8 L1160.2,353.0 L1171.0,356.1 L1181.8,359.3 L1192.7,362.5 L1203.6,365.7 L1214.6,368.9 L1225.6,372.1 L1236.6,375.4 L1247.6,378.6 L1258.7,381.9 L1269.7,385.2 L1280.7,388.4 L1291.7,391.7 L1302.6,395.0 L1313.5,398.2 L1324.3,401.5 L1335.4,404.9 L1347.2,408.5 L1359.4,412.2 L1371.7,416.0 L1384.0,419.8 L1396.0,423.5 L1407.6,427.1 L1418.5,430.5 L1428.6,433.7 L1437.5,436.4 L1445.2,438.8 L1451.3,440.7" fill="none" stroke="#74508c" stroke-width="1.8"/>
<path d="M805.0,172.0 L811.2,173.5 L819.0,175.5 L828.1,177.7 L838.4,180.2 L849.5,183.0 L861.3,185.9 L873.6,188.9 L886.0,192.0 L898.5,195.1 L910.8,198.1 L922.6,201.0 L933.8,203.8 L944.6,206.4 L955.3,209.1 L966.1,211.7 L976.9,214.3 L987.7,216.9 L998.5,219.6 L1009.3,222.2 L1020.1,224.8 L1030.9,227.5 L1041.7,230.2 L1052.5,232.9 L1063.3,235.6 L1074.1,238.4 L1084.8,241.1 L1095.6,243.9 L1106.4,246.7 L1117.1,249.6 L1127.9,252.4 L1138.6,255.3 L1149.4,258.1 L1160.2,261.0 L1171.0,263.9 L1181.8,266.8 L1192.7,269.7 L1203.6,272.6 L1214.6,275.6 L1225.6,278.6 L1236.6,281.5 L1247.6,284.5 L1258.7,287.6 L1269.7,290.6 L1280.7,293.6 L1291.7,296.5 L1302.6,299.5 L1313.5,302.4 L1324.3,305.3 L1335.4,308.3 L1347.2,311.4 L1359.4,314.5 L1371.7,317.8 L1384.0,321.0 L1396.0,324.1 L1407.6,327.1 L1418.5,330.0 L1428.6,332.6 L1437.5,334.9 L1445.2,336.9 L1451.3,338.5" fill="none" stroke="#cbb655" stroke-width="1.8"/>
<rect x="805.0" y="59.8" width="646.3" height="498.90000000000003" fill="none" stroke="#111" stroke-width="1.8"/>
<rect x="1053.0" y="81.8" width="376" height="112.9" fill="#fff" stroke="#111" stroke-width="1.5"/>
<path d="M1061,107.8 L1081.5,107.8 L1081.5,93.7 L1101.7,93.7" fill="none" stroke="#3a76a0" stroke-width="1.5"/>
<text x="1146.2" y="104.3" font-family="Liberation Sans, sans-serif" font-size="21.5" fill="#363636" textLength="275.5" lengthAdjust="spacing"><tspan dy="1.61">&lt;</tspan><tspan dy="-1.61">Maximum Capacity 4 (Ah)</tspan><tspan dy="1.61">&gt;</tspan></text>
<path d="M1061,134.2 L1081.5,134.2 L1081.5,120.1 L1101.7,120.1" fill="none" stroke="#a4603e" stroke-width="1.5"/>
<text x="1146.2" y="132.4" font-family="Liberation Sans, sans-serif" font-size="21.5" fill="#363636" textLength="275.5" lengthAdjust="spacing"><tspan dy="1.61">&lt;</tspan><tspan dy="-1.61">Maximum Capacity 3 (Ah)</tspan><tspan dy="1.61">&gt;</tspan></text>
<path d="M1061,162.4 L1081.5,162.4 L1081.5,146.2 L1101.7,146.2" fill="none" stroke="#cdb652" stroke-width="1.5"/>
<text x="1146.2" y="158.8" font-family="Liberation Sans, sans-serif" font-size="21.5" fill="#363636" textLength="275.5" lengthAdjust="spacing"><tspan dy="1.61">&lt;</tspan><tspan dy="-1.61">Maximum Capacity 2 (Ah)</tspan><tspan dy="1.61">&gt;</tspan></text>
<path d="M1061,188.7 L1081.5,188.7 L1081.5,174.8 L1101.7,174.8" fill="none" stroke="#6c4a84" stroke-width="1.5"/>
<text x="1146.2" y="186.9" font-family="Liberation Sans, sans-serif" font-size="21.5" fill="#363636" textLength="275.5" lengthAdjust="spacing"><tspan dy="1.61">&lt;</tspan><tspan dy="-1.61">Maximum Capacity 1 (Ah)</tspan><tspan dy="1.61">&gt;</tspan></text>
<text x="970.0" y="45.3" font-family="Liberation Sans, sans-serif" font-size="24.5" fill="#141414" textLength="318" lengthAdjust="spacing"><tspan dy="1.84">&lt;</tspan><tspan dy="-1.84">Maximum Capacity (Ah)</tspan><tspan dy="1.84">&gt;</tspan></text>
<text x="800.0" y="560.8" font-family="Liberation Sans, sans-serif" font-size="22.5" fill="#303030" text-anchor="end">3</text>
<text x="800.0" y="470.9" font-family="Liberation Sans, sans-serif" font-size="22.5" fill="#303030" text-anchor="end">3.5</text>
<text x="800.0" y="381.1" font-family="Liberation Sans, sans-serif" font-size="22.5" fill="#303030" text-anchor="end">4</text>
<text x="800.0" y="291.2" font-family="Liberation Sans, sans-serif" font-size="22.5" fill="#303030" text-anchor="end">4.5</text>
<text x="800.0" y="201.4" font-family="Liberation Sans, sans-serif" font-size="22.5" fill="#303030" text-anchor="end">5</text>
<text x="800.0" y="111.5" font-family="Liberation Sans, sans-serif" font-size="22.5" fill="#303030" text-anchor="end">5.5</text>
<text x="804.0" y="584.4" font-family="Liberation Sans, sans-serif" font-size="22.5" fill="#303030" text-anchor="middle">0</text>
<text x="933.7" y="584.4" font-family="Liberation Sans, sans-serif" font-size="22.5" fill="#303030" text-anchor="middle">2</text>
<text x="1064.4" y="584.4" font-family="Liberation Sans, sans-serif" font-size="22.5" fill="#303030" text-anchor="middle">4</text>
<text x="1194.0" y="584.4" font-family="Liberation Sans, sans-serif" font-size="22.5" fill="#303030" text-anchor="middle">6</text>
<text x="1324.0" y="584.4" font-family="Liberation Sans, sans-serif" font-size="22.5" fill="#303030" text-anchor="middle">8</text>
<path d="M1403.1,606.3 L1413.9,616.7 M1413.9,606.3 L1403.1,616.7" stroke="#8a8a8a" stroke-width="1.3" fill="none"/><text x="1419.1" y="617.1" font-family="Liberation Sans, sans-serif" font-size="21.5" fill="#303030">10</text><text x="1442.4" y="607.0" font-family="Liberation Sans, sans-serif" font-size="17.9" fill="#303030">6</text>
<rect x="607.66" y="551.19" width="4.77" height="3.01" fill="#fff"/>
<rect x="614.33" y="551.19" width="4.30" height="3.01" fill="#fff"/>
<rect x="665.44" y="614.69" width="4.77" height="3.01" fill="#fff"/>
<rect x="672.11" y="614.69" width="4.30" height="3.01" fill="#fff"/>
<rect x="1350.35" y="184.49" width="4.77" height="3.01" fill="#fff"/>
<rect x="1357.02" y="184.49" width="4.30" height="3.01" fill="#fff"/>
<rect x="1419.64" y="614.69" width="4.77" height="3.01" fill="#fff"/>
<rect x="1426.31" y="614.69" width="4.30" height="3.01" fill="#fff"/>
<rect x="697.75" y="20.75" width="24.3" height="18.6" fill="#fff" stroke="#000" stroke-width="1.6"/><rect x="698.6" y="21.6" width="22.6" height="3.0" fill="#c8c8c8"/><line x1="697.0" y1="25.1" x2="722.8" y2="25.1" stroke="#000" stroke-width="1.5"/><line x1="709.7" y1="25.1" x2="709.7" y2="39.5" stroke="#000" stroke-width="1.5"/><path d="M709.7,27.8 L714.5,32.4 Q714.6,34.3 713.0,33.9 L709.7,31.4 L706.4,33.9 Q704.8,34.3 704.9,32.4 Z" fill="#000"/>
<rect x="1451.75" y="20.75" width="24.3" height="18.6" fill="#fff" stroke="#000" stroke-width="1.6"/><rect x="1452.6" y="21.6" width="22.6" height="3.0" fill="#c8c8c8"/><line x1="1451.0" y1="25.1" x2="1476.8" y2="25.1" stroke="#000" stroke-width="1.5"/><line x1="1463.7" y1="25.1" x2="1463.7" y2="39.5" stroke="#000" stroke-width="1.5"/><path d="M1463.7,27.8 L1468.5,32.4 Q1468.6,34.3 1467.0,33.9 L1463.7,31.4 L1460.4,33.9 Q1458.8,34.3 1458.9,32.4 Z" fill="#000"/>
<text x="498.0" y="664.4" font-family="Liberation Serif, serif" font-size="39" fill="#1a1a1a">(</text>
<text x="511.3" y="664.0" font-family="Liberation Serif, serif" font-size="38.5" font-weight="bold" fill="#000" textLength="18.5" lengthAdjust="spacingAndGlyphs">a</text>
<text x="529.6" y="664.4" font-family="Liberation Serif, serif" font-size="39" fill="#1a1a1a">)</text>
<text x="1229.3" y="664.4" font-family="Liberation Serif, serif" font-size="39" fill="#1a1a1a">(</text>
<text x="1241.4" y="663.9" font-family="Liberation Serif, serif" font-size="38.4" font-weight="bold" fill="#000" textLength="23.2" lengthAdjust="spacingAndGlyphs">b</text>
<text x="1264.4" y="664.4" font-family="Liberation Serif, serif" font-size="39" fill="#1a1a1a">)</text>
</svg>
</body></html>
